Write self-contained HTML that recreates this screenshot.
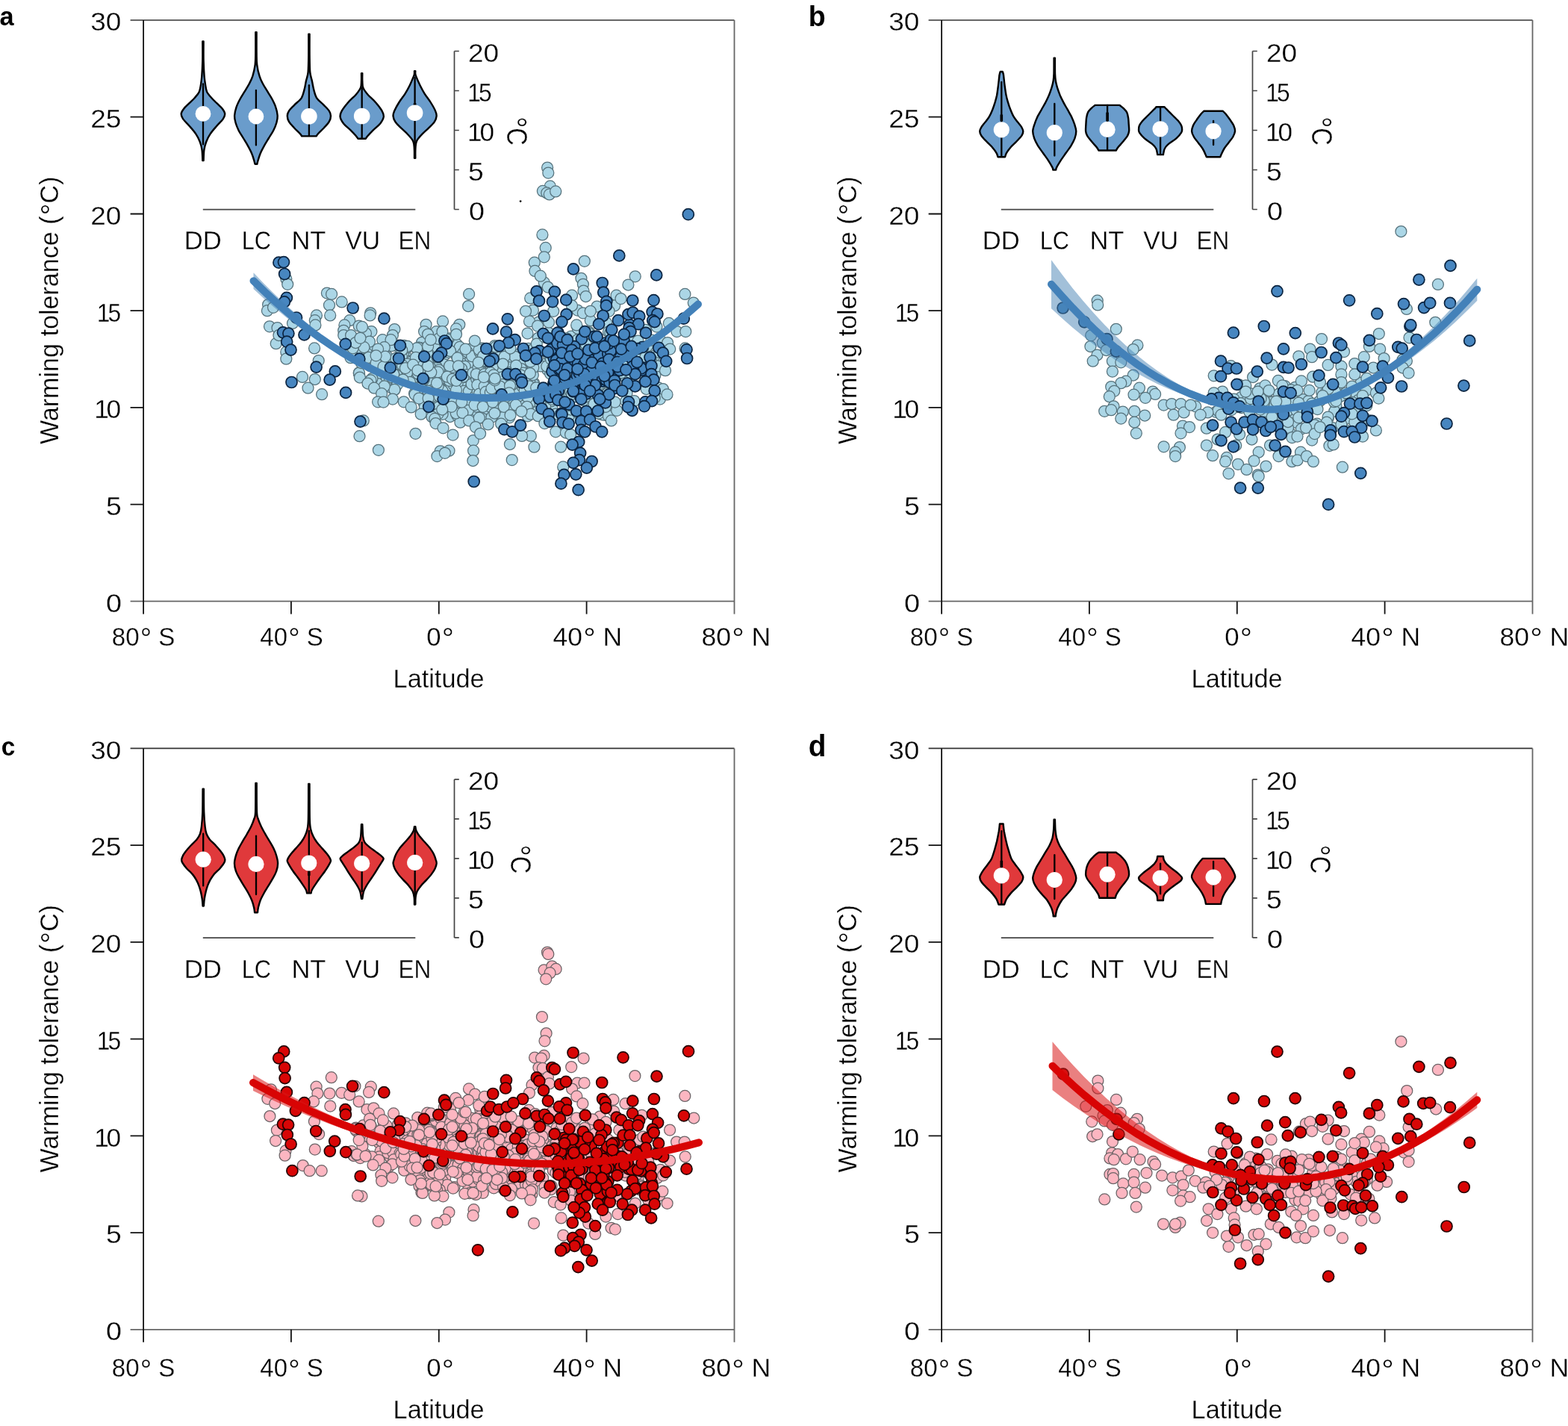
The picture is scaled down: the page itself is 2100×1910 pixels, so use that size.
<!DOCTYPE html>
<html lang="en"><head><meta charset="utf-8">
<title>Warming tolerance versus latitude</title>
<style>
html,body{margin:0;padding:0;background:#fff}
body{width:2100px;height:1910px;overflow:hidden}
svg{display:block}
.t{font-family:"Liberation Sans", "DejaVu Sans", sans-serif;font-size:35.2px;fill:#000;stroke:#fff;stroke-width:.3px}
.pl{font-family:"Liberation Sans", "DejaVu Sans", sans-serif;font-size:35px;font-weight:bold;fill:#000}
.ax0{stroke:#111;stroke-width:1.8;fill:none}
.ax1{stroke:#333;stroke-width:1.7;fill:none}
.ax2{stroke:#666;stroke-width:1.8;fill:none}
.ax3{stroke:#444;stroke-width:1.7;fill:none}
.lb circle{fill:#abd6e6;stroke:#56727c;stroke-width:1.25}
.db circle{fill:#4786c0;stroke:#0b2440;stroke-width:1.7}
.lr circle{fill:#fcb6c1;stroke:#6b6366;stroke-width:1.25}
.dr circle{fill:#d80606;stroke:#240202;stroke-width:1.7}
.cvb{fill:none;stroke:#4381b9;stroke-width:10;stroke-linecap:round}
.cvr{fill:none;stroke:#d80404;stroke-width:10;stroke-linecap:round}
.cib{fill:#4682b4;fill-opacity:.5;stroke:none}
.cir{fill:#d81818;fill-opacity:.55;stroke:none}
</style></head><body>
<svg width="2100" height="1910" viewBox="0 0 2100 1910" role="img" aria-label="Warming tolerance versus latitude, four panels">
<rect width="2100" height="1910" fill="#fff"/>
<g transform="translate(0 0)">
<text transform="translate(-0.4 34.2) scale(0.979 1)" class="pl">a</text>
<g class="lb"><circle cx="478.7" cy="480.2" r="7.5"/><circle cx="510.7" cy="473.8" r="7.5"/><circle cx="496.7" cy="488.6" r="7.5"/><circle cx="509.4" cy="505.2" r="7.5"/><circle cx="490.7" cy="469.6" r="7.5"/><circle cx="481.1" cy="501.2" r="7.5"/><circle cx="489.5" cy="484.5" r="7.5"/><circle cx="480.7" cy="499.4" r="7.5"/><circle cx="506.1" cy="514.1" r="7.5"/><circle cx="495.4" cy="468.4" r="7.5"/><circle cx="505.8" cy="471.7" r="7.5"/><circle cx="481" cy="499.6" r="7.5"/><circle cx="494.2" cy="510.6" r="7.5"/><circle cx="498.4" cy="507" r="7.5"/><circle cx="517.5" cy="481.8" r="7.5"/><circle cx="469.5" cy="479.2" r="7.5"/><circle cx="506" cy="487.2" r="7.5"/><circle cx="505.5" cy="488.6" r="7.5"/><circle cx="495.4" cy="490.1" r="7.5"/><circle cx="502.4" cy="482.8" r="7.5"/><circle cx="496.2" cy="480" r="7.5"/><circle cx="490.9" cy="472.9" r="7.5"/><circle cx="498.9" cy="480.6" r="7.5"/><circle cx="517.7" cy="505.5" r="7.5"/><circle cx="483.7" cy="486" r="7.5"/><circle cx="518.2" cy="477" r="7.5"/><circle cx="479.5" cy="474" r="7.5"/><circle cx="496.4" cy="509.4" r="7.5"/><circle cx="471.1" cy="470.8" r="7.5"/><circle cx="511" cy="489.7" r="7.5"/><circle cx="531.9" cy="481.9" r="7.5"/><circle cx="554.9" cy="507.2" r="7.5"/><circle cx="543.4" cy="481.3" r="7.5"/><circle cx="544.1" cy="478.4" r="7.5"/><circle cx="528" cy="483.5" r="7.5"/><circle cx="559.9" cy="507.5" r="7.5"/><circle cx="562.2" cy="490.1" r="7.5"/><circle cx="563.3" cy="524.8" r="7.5"/><circle cx="528" cy="499.3" r="7.5"/><circle cx="556.8" cy="510.3" r="7.5"/><circle cx="521.5" cy="511.3" r="7.5"/><circle cx="525.4" cy="505.6" r="7.5"/><circle cx="540" cy="474.4" r="7.5"/><circle cx="524.7" cy="519.8" r="7.5"/><circle cx="558" cy="493.8" r="7.5"/><circle cx="529.6" cy="518.5" r="7.5"/><circle cx="537.8" cy="490.7" r="7.5"/><circle cx="565.8" cy="467.3" r="7.5"/><circle cx="537.9" cy="479.6" r="7.5"/><circle cx="566.2" cy="462.2" r="7.5"/><circle cx="532.6" cy="497.5" r="7.5"/><circle cx="548.8" cy="483.8" r="7.5"/><circle cx="565.1" cy="458.8" r="7.5"/><circle cx="564.4" cy="495.2" r="7.5"/><circle cx="529.1" cy="488.4" r="7.5"/><circle cx="529.8" cy="500.7" r="7.5"/><circle cx="552" cy="499.2" r="7.5"/><circle cx="537.9" cy="477.5" r="7.5"/><circle cx="568" cy="510.6" r="7.5"/><circle cx="545.9" cy="465.4" r="7.5"/><circle cx="541.1" cy="462.9" r="7.5"/><circle cx="561.8" cy="465.8" r="7.5"/><circle cx="550.8" cy="484.7" r="7.5"/><circle cx="566.4" cy="494.2" r="7.5"/><circle cx="531.8" cy="490.3" r="7.5"/><circle cx="528.6" cy="522" r="7.5"/><circle cx="538.1" cy="499.4" r="7.5"/><circle cx="555.1" cy="527" r="7.5"/><circle cx="532.1" cy="515" r="7.5"/><circle cx="521.3" cy="496" r="7.5"/><circle cx="531.4" cy="502.8" r="7.5"/><circle cx="530.5" cy="462.4" r="7.5"/><circle cx="530.2" cy="479.9" r="7.5"/><circle cx="564.2" cy="507" r="7.5"/><circle cx="550.2" cy="503.6" r="7.5"/><circle cx="567.4" cy="506.4" r="7.5"/><circle cx="545.4" cy="487.7" r="7.5"/><circle cx="562.3" cy="486" r="7.5"/><circle cx="539.1" cy="489.4" r="7.5"/><circle cx="544.4" cy="507.9" r="7.5"/><circle cx="528.4" cy="521.9" r="7.5"/><circle cx="535.9" cy="467.4" r="7.5"/><circle cx="557.2" cy="488.8" r="7.5"/><circle cx="560.3" cy="487.9" r="7.5"/><circle cx="546.5" cy="498.4" r="7.5"/><circle cx="527.6" cy="502.9" r="7.5"/><circle cx="524.5" cy="463.2" r="7.5"/><circle cx="557.8" cy="506.8" r="7.5"/><circle cx="548.9" cy="511.9" r="7.5"/><circle cx="542.9" cy="493.1" r="7.5"/><circle cx="567.7" cy="551.9" r="7.5"/><circle cx="570.2" cy="504.3" r="7.5"/><circle cx="573.3" cy="490.7" r="7.5"/><circle cx="632.6" cy="521.1" r="7.5"/><circle cx="602.7" cy="558" r="7.5"/><circle cx="588.8" cy="517.1" r="7.5"/><circle cx="638.6" cy="554" r="7.5"/><circle cx="615.4" cy="555.7" r="7.5"/><circle cx="622.6" cy="468.6" r="7.5"/><circle cx="595.7" cy="475.2" r="7.5"/><circle cx="577.3" cy="504.4" r="7.5"/><circle cx="630.9" cy="501.6" r="7.5"/><circle cx="560.8" cy="524.2" r="7.5"/><circle cx="573.7" cy="447" r="7.5"/><circle cx="576.6" cy="525.5" r="7.5"/><circle cx="638.3" cy="498.5" r="7.5"/><circle cx="628.4" cy="485.6" r="7.5"/><circle cx="599.7" cy="507.5" r="7.5"/><circle cx="613.6" cy="530.2" r="7.5"/><circle cx="632.4" cy="487.3" r="7.5"/><circle cx="637.2" cy="538.1" r="7.5"/><circle cx="611.1" cy="525.3" r="7.5"/><circle cx="634.8" cy="472.5" r="7.5"/><circle cx="634.9" cy="516" r="7.5"/><circle cx="607.6" cy="502.8" r="7.5"/><circle cx="621.6" cy="505.1" r="7.5"/><circle cx="639.5" cy="525.7" r="7.5"/><circle cx="617.2" cy="480" r="7.5"/><circle cx="561.2" cy="488.2" r="7.5"/><circle cx="578.6" cy="521.3" r="7.5"/><circle cx="625.3" cy="548.9" r="7.5"/><circle cx="588.8" cy="533" r="7.5"/><circle cx="604.7" cy="492.1" r="7.5"/><circle cx="632.9" cy="483.8" r="7.5"/><circle cx="611.1" cy="500.8" r="7.5"/><circle cx="567.7" cy="539.7" r="7.5"/><circle cx="620" cy="486.9" r="7.5"/><circle cx="627.9" cy="517.4" r="7.5"/><circle cx="633.5" cy="466.9" r="7.5"/><circle cx="621.4" cy="471.6" r="7.5"/><circle cx="594.5" cy="488" r="7.5"/><circle cx="578.7" cy="544.5" r="7.5"/><circle cx="573.6" cy="470.4" r="7.5"/><circle cx="579.6" cy="487.9" r="7.5"/><circle cx="562.2" cy="476.2" r="7.5"/><circle cx="627" cy="515.6" r="7.5"/><circle cx="587.7" cy="538.2" r="7.5"/><circle cx="631.2" cy="484" r="7.5"/><circle cx="580.1" cy="532.7" r="7.5"/><circle cx="581.5" cy="473.2" r="7.5"/><circle cx="644.7" cy="533.4" r="7.5"/><circle cx="599.8" cy="459.3" r="7.5"/><circle cx="608.5" cy="459.3" r="7.5"/><circle cx="604.2" cy="517.8" r="7.5"/><circle cx="564.9" cy="466.6" r="7.5"/><circle cx="565.8" cy="522.2" r="7.5"/><circle cx="625.3" cy="505.3" r="7.5"/><circle cx="646.6" cy="466.7" r="7.5"/><circle cx="588.7" cy="469.9" r="7.5"/><circle cx="642.2" cy="509" r="7.5"/><circle cx="619.6" cy="469.6" r="7.5"/><circle cx="627.9" cy="516.1" r="7.5"/><circle cx="642.1" cy="515.4" r="7.5"/><circle cx="622.7" cy="494.8" r="7.5"/><circle cx="604.4" cy="502.2" r="7.5"/><circle cx="588.9" cy="517.3" r="7.5"/><circle cx="566.6" cy="504.9" r="7.5"/><circle cx="576" cy="502.4" r="7.5"/><circle cx="612.4" cy="556.6" r="7.5"/><circle cx="641.3" cy="503.3" r="7.5"/><circle cx="580" cy="505.9" r="7.5"/><circle cx="583.7" cy="490.1" r="7.5"/><circle cx="604.9" cy="461.5" r="7.5"/><circle cx="614" cy="526.5" r="7.5"/><circle cx="573.8" cy="521.9" r="7.5"/><circle cx="636.6" cy="489" r="7.5"/><circle cx="572.3" cy="543.5" r="7.5"/><circle cx="627.8" cy="536.6" r="7.5"/><circle cx="617.7" cy="499.7" r="7.5"/><circle cx="572.8" cy="517.9" r="7.5"/><circle cx="630.4" cy="467.7" r="7.5"/><circle cx="588.1" cy="512.9" r="7.5"/><circle cx="631.8" cy="499.3" r="7.5"/><circle cx="578.3" cy="519" r="7.5"/><circle cx="631.5" cy="528" r="7.5"/><circle cx="604.9" cy="492.2" r="7.5"/><circle cx="603.1" cy="491.8" r="7.5"/><circle cx="564.5" cy="504.7" r="7.5"/><circle cx="558.4" cy="490.2" r="7.5"/><circle cx="611.1" cy="506.5" r="7.5"/><circle cx="635.9" cy="481.7" r="7.5"/><circle cx="611.9" cy="477.4" r="7.5"/><circle cx="575.9" cy="497.4" r="7.5"/><circle cx="626.3" cy="493.2" r="7.5"/><circle cx="629.8" cy="478.5" r="7.5"/><circle cx="616.4" cy="565.7" r="7.5"/><circle cx="607.6" cy="521.8" r="7.5"/><circle cx="602.5" cy="469.8" r="7.5"/><circle cx="645.3" cy="536.7" r="7.5"/><circle cx="559" cy="488.7" r="7.5"/><circle cx="565.2" cy="479.7" r="7.5"/><circle cx="575.1" cy="497.2" r="7.5"/><circle cx="602.4" cy="498.6" r="7.5"/><circle cx="603.9" cy="470.7" r="7.5"/><circle cx="596.5" cy="454.2" r="7.5"/><circle cx="610.5" cy="493.9" r="7.5"/><circle cx="632.8" cy="502.5" r="7.5"/><circle cx="618.4" cy="510.7" r="7.5"/><circle cx="631.4" cy="489.8" r="7.5"/><circle cx="562.1" cy="489.1" r="7.5"/><circle cx="592" cy="506.9" r="7.5"/><circle cx="578.3" cy="504.7" r="7.5"/><circle cx="570.9" cy="509.5" r="7.5"/><circle cx="576.9" cy="497.8" r="7.5"/><circle cx="576.2" cy="475.2" r="7.5"/><circle cx="590.2" cy="497.1" r="7.5"/><circle cx="609.3" cy="525.1" r="7.5"/><circle cx="577.5" cy="532" r="7.5"/><circle cx="605.9" cy="508.2" r="7.5"/><circle cx="622.7" cy="490.9" r="7.5"/><circle cx="633.1" cy="525.6" r="7.5"/><circle cx="572.4" cy="531" r="7.5"/><circle cx="610.2" cy="523.4" r="7.5"/><circle cx="610.4" cy="540" r="7.5"/><circle cx="558.2" cy="526.4" r="7.5"/><circle cx="618" cy="493.8" r="7.5"/><circle cx="582.3" cy="501.6" r="7.5"/><circle cx="586.5" cy="469.5" r="7.5"/><circle cx="584.4" cy="444.2" r="7.5"/><circle cx="603.6" cy="496.5" r="7.5"/><circle cx="612.7" cy="513.2" r="7.5"/><circle cx="585.2" cy="492.3" r="7.5"/><circle cx="611.7" cy="461.1" r="7.5"/><circle cx="621.2" cy="523.9" r="7.5"/><circle cx="604.9" cy="523.2" r="7.5"/><circle cx="609.2" cy="500.1" r="7.5"/><circle cx="627.9" cy="524.1" r="7.5"/><circle cx="644.5" cy="501.8" r="7.5"/><circle cx="603.7" cy="516.1" r="7.5"/><circle cx="636.5" cy="530.5" r="7.5"/><circle cx="610" cy="504.7" r="7.5"/><circle cx="581.3" cy="512" r="7.5"/><circle cx="558.4" cy="492.4" r="7.5"/><circle cx="615.7" cy="464.9" r="7.5"/><circle cx="584.2" cy="510.2" r="7.5"/><circle cx="571.5" cy="498.4" r="7.5"/><circle cx="601.2" cy="471.8" r="7.5"/><circle cx="631.3" cy="554.5" r="7.5"/><circle cx="573.3" cy="484.8" r="7.5"/><circle cx="641.5" cy="470.4" r="7.5"/><circle cx="624.3" cy="502.2" r="7.5"/><circle cx="560.3" cy="465.7" r="7.5"/><circle cx="558.5" cy="526.7" r="7.5"/><circle cx="593.2" cy="525.5" r="7.5"/><circle cx="620.2" cy="472.9" r="7.5"/><circle cx="587" cy="513.4" r="7.5"/><circle cx="588.3" cy="499.7" r="7.5"/><circle cx="596.7" cy="469.3" r="7.5"/><circle cx="563.8" cy="498.3" r="7.5"/><circle cx="603" cy="470" r="7.5"/><circle cx="585.6" cy="478.7" r="7.5"/><circle cx="588.6" cy="530.9" r="7.5"/><circle cx="638.8" cy="550.8" r="7.5"/><circle cx="642.6" cy="492.7" r="7.5"/><circle cx="569.5" cy="536.8" r="7.5"/><circle cx="607" cy="491.2" r="7.5"/><circle cx="568.8" cy="545.2" r="7.5"/><circle cx="585.9" cy="465.6" r="7.5"/><circle cx="596.7" cy="536.2" r="7.5"/><circle cx="642.3" cy="505.6" r="7.5"/><circle cx="592.6" cy="554.8" r="7.5"/><circle cx="592.3" cy="523.3" r="7.5"/><circle cx="570" cy="491.6" r="7.5"/><circle cx="587.3" cy="545.4" r="7.5"/><circle cx="572.6" cy="509.4" r="7.5"/><circle cx="605.7" cy="491.8" r="7.5"/><circle cx="564" cy="521.4" r="7.5"/><circle cx="575.9" cy="491.8" r="7.5"/><circle cx="612.7" cy="479.4" r="7.5"/><circle cx="638.3" cy="544.7" r="7.5"/><circle cx="607.8" cy="515.6" r="7.5"/><circle cx="565.8" cy="485.4" r="7.5"/><circle cx="600.8" cy="532.5" r="7.5"/><circle cx="622.7" cy="504.8" r="7.5"/><circle cx="620.4" cy="504.7" r="7.5"/><circle cx="626.9" cy="549.8" r="7.5"/><circle cx="601.1" cy="453.3" r="7.5"/><circle cx="587.9" cy="495.6" r="7.5"/><circle cx="559.7" cy="500.4" r="7.5"/><circle cx="574.4" cy="526.3" r="7.5"/><circle cx="564.4" cy="516.1" r="7.5"/><circle cx="625.9" cy="471.4" r="7.5"/><circle cx="560.6" cy="519.2" r="7.5"/><circle cx="568.8" cy="496.1" r="7.5"/><circle cx="602.1" cy="490.1" r="7.5"/><circle cx="639.6" cy="524" r="7.5"/><circle cx="601.9" cy="509.9" r="7.5"/><circle cx="586.7" cy="554.3" r="7.5"/><circle cx="633.6" cy="499.4" r="7.5"/><circle cx="558.5" cy="531.2" r="7.5"/><circle cx="611" cy="522.4" r="7.5"/><circle cx="567.9" cy="508.3" r="7.5"/><circle cx="643.4" cy="466.7" r="7.5"/><circle cx="599.2" cy="454.5" r="7.5"/><circle cx="576.5" cy="499.2" r="7.5"/><circle cx="586.5" cy="498.4" r="7.5"/><circle cx="595.7" cy="460.1" r="7.5"/><circle cx="613.9" cy="490.4" r="7.5"/><circle cx="598.9" cy="504.7" r="7.5"/><circle cx="643.4" cy="533.3" r="7.5"/><circle cx="577.3" cy="498.7" r="7.5"/><circle cx="607.1" cy="540.1" r="7.5"/><circle cx="586.6" cy="517.3" r="7.5"/><circle cx="559.8" cy="524.7" r="7.5"/><circle cx="585" cy="513.2" r="7.5"/><circle cx="631.6" cy="514.5" r="7.5"/><circle cx="587.2" cy="453.9" r="7.5"/><circle cx="606.1" cy="507.9" r="7.5"/><circle cx="632.1" cy="477.2" r="7.5"/><circle cx="611.1" cy="509.8" r="7.5"/><circle cx="676.6" cy="516.7" r="7.5"/><circle cx="693.9" cy="492.7" r="7.5"/><circle cx="642.5" cy="526" r="7.5"/><circle cx="638.3" cy="507.9" r="7.5"/><circle cx="667.1" cy="529.9" r="7.5"/><circle cx="698" cy="541" r="7.5"/><circle cx="696.2" cy="512.5" r="7.5"/><circle cx="713.6" cy="495.4" r="7.5"/><circle cx="681.9" cy="523.6" r="7.5"/><circle cx="640.4" cy="492.2" r="7.5"/><circle cx="696.4" cy="473.8" r="7.5"/><circle cx="702.3" cy="533.5" r="7.5"/><circle cx="642.6" cy="471.9" r="7.5"/><circle cx="682.8" cy="523.6" r="7.5"/><circle cx="668.5" cy="534.1" r="7.5"/><circle cx="679.1" cy="509.1" r="7.5"/><circle cx="646.4" cy="478.3" r="7.5"/><circle cx="697.6" cy="532.8" r="7.5"/><circle cx="668.3" cy="502.3" r="7.5"/><circle cx="703" cy="498.4" r="7.5"/><circle cx="640" cy="536" r="7.5"/><circle cx="656.6" cy="489.7" r="7.5"/><circle cx="707.8" cy="466.8" r="7.5"/><circle cx="686.5" cy="496.1" r="7.5"/><circle cx="697.2" cy="520.4" r="7.5"/><circle cx="666.2" cy="531.1" r="7.5"/><circle cx="652.6" cy="517.9" r="7.5"/><circle cx="701.1" cy="482.6" r="7.5"/><circle cx="669.8" cy="513.6" r="7.5"/><circle cx="675.4" cy="471.8" r="7.5"/><circle cx="645.5" cy="559.5" r="7.5"/><circle cx="660.9" cy="546.3" r="7.5"/><circle cx="694.7" cy="534.2" r="7.5"/><circle cx="641" cy="505.9" r="7.5"/><circle cx="643.4" cy="533.2" r="7.5"/><circle cx="685.6" cy="503.2" r="7.5"/><circle cx="712.1" cy="538.3" r="7.5"/><circle cx="702.9" cy="502.1" r="7.5"/><circle cx="706.6" cy="491.8" r="7.5"/><circle cx="699.5" cy="489.5" r="7.5"/><circle cx="677.8" cy="525.8" r="7.5"/><circle cx="691.1" cy="495" r="7.5"/><circle cx="657.4" cy="490.5" r="7.5"/><circle cx="702.5" cy="507.2" r="7.5"/><circle cx="680" cy="509.6" r="7.5"/><circle cx="706.6" cy="527.9" r="7.5"/><circle cx="647.4" cy="516.2" r="7.5"/><circle cx="685.8" cy="523.4" r="7.5"/><circle cx="663.5" cy="544.4" r="7.5"/><circle cx="696" cy="482.3" r="7.5"/><circle cx="662.5" cy="471.6" r="7.5"/><circle cx="674.7" cy="520.3" r="7.5"/><circle cx="672.2" cy="530.3" r="7.5"/><circle cx="699.7" cy="521" r="7.5"/><circle cx="694.9" cy="496.3" r="7.5"/><circle cx="695.6" cy="500.1" r="7.5"/><circle cx="694.5" cy="503.7" r="7.5"/><circle cx="707.9" cy="533.6" r="7.5"/><circle cx="669.3" cy="554.3" r="7.5"/><circle cx="701.5" cy="548.8" r="7.5"/><circle cx="689.8" cy="522.2" r="7.5"/><circle cx="707.2" cy="520.9" r="7.5"/><circle cx="690.8" cy="522.7" r="7.5"/><circle cx="681.1" cy="513.3" r="7.5"/><circle cx="691.7" cy="484.9" r="7.5"/><circle cx="639.3" cy="515.6" r="7.5"/><circle cx="694.9" cy="487.7" r="7.5"/><circle cx="681.7" cy="534" r="7.5"/><circle cx="637.9" cy="501" r="7.5"/><circle cx="661.2" cy="490.9" r="7.5"/><circle cx="656.6" cy="486.3" r="7.5"/><circle cx="697.2" cy="499.6" r="7.5"/><circle cx="647.7" cy="540" r="7.5"/><circle cx="679.8" cy="484.6" r="7.5"/><circle cx="682.2" cy="559.3" r="7.5"/><circle cx="646.4" cy="484.4" r="7.5"/><circle cx="657.8" cy="526.9" r="7.5"/><circle cx="662.7" cy="463.1" r="7.5"/><circle cx="714.8" cy="534" r="7.5"/><circle cx="697.4" cy="489.3" r="7.5"/><circle cx="645.1" cy="477.6" r="7.5"/><circle cx="667.8" cy="519.2" r="7.5"/><circle cx="709.5" cy="542.8" r="7.5"/><circle cx="664" cy="464.7" r="7.5"/><circle cx="688" cy="510.3" r="7.5"/><circle cx="709.3" cy="499.4" r="7.5"/><circle cx="696.4" cy="534.8" r="7.5"/><circle cx="642" cy="527.7" r="7.5"/><circle cx="679.6" cy="518.7" r="7.5"/><circle cx="692.8" cy="519.2" r="7.5"/><circle cx="702.4" cy="481.6" r="7.5"/><circle cx="698" cy="494.1" r="7.5"/><circle cx="679.4" cy="510.5" r="7.5"/><circle cx="672.6" cy="529.8" r="7.5"/><circle cx="689.1" cy="522.9" r="7.5"/><circle cx="653.8" cy="519" r="7.5"/><circle cx="702.4" cy="505.6" r="7.5"/><circle cx="706.4" cy="532.5" r="7.5"/><circle cx="668.3" cy="527.2" r="7.5"/><circle cx="700.9" cy="499.6" r="7.5"/><circle cx="699.6" cy="506.2" r="7.5"/><circle cx="677.9" cy="531.2" r="7.5"/><circle cx="683.6" cy="477.5" r="7.5"/><circle cx="641.7" cy="468.4" r="7.5"/><circle cx="673.7" cy="558.9" r="7.5"/><circle cx="715.9" cy="531" r="7.5"/><circle cx="709.9" cy="515.5" r="7.5"/><circle cx="648.7" cy="517.3" r="7.5"/><circle cx="650.7" cy="484.1" r="7.5"/><circle cx="670.2" cy="501.1" r="7.5"/><circle cx="709.4" cy="544.2" r="7.5"/><circle cx="652" cy="543.2" r="7.5"/><circle cx="698.9" cy="517.1" r="7.5"/><circle cx="683.2" cy="502.5" r="7.5"/><circle cx="689.8" cy="477.9" r="7.5"/><circle cx="713" cy="521.1" r="7.5"/><circle cx="699.5" cy="510" r="7.5"/><circle cx="715.2" cy="513.3" r="7.5"/><circle cx="657.5" cy="501.9" r="7.5"/><circle cx="693.4" cy="512" r="7.5"/><circle cx="657.8" cy="479.2" r="7.5"/><circle cx="662.4" cy="530.1" r="7.5"/><circle cx="661.1" cy="517.3" r="7.5"/><circle cx="650" cy="502.7" r="7.5"/><circle cx="684.4" cy="500.9" r="7.5"/><circle cx="715.6" cy="536.9" r="7.5"/><circle cx="715" cy="514.9" r="7.5"/><circle cx="652.5" cy="547.4" r="7.5"/><circle cx="685" cy="548" r="7.5"/><circle cx="650.6" cy="524.9" r="7.5"/><circle cx="655.4" cy="544.3" r="7.5"/><circle cx="648.8" cy="501.1" r="7.5"/><circle cx="656.2" cy="502.6" r="7.5"/><circle cx="673" cy="515.1" r="7.5"/><circle cx="658.5" cy="558.8" r="7.5"/><circle cx="656.8" cy="525.7" r="7.5"/><circle cx="666.9" cy="491.5" r="7.5"/><circle cx="711" cy="503.4" r="7.5"/><circle cx="673.5" cy="486.2" r="7.5"/><circle cx="660.1" cy="519.1" r="7.5"/><circle cx="668.5" cy="491.1" r="7.5"/><circle cx="662.9" cy="535.2" r="7.5"/><circle cx="675.5" cy="477.9" r="7.5"/><circle cx="642.4" cy="540.1" r="7.5"/><circle cx="658.4" cy="520.3" r="7.5"/><circle cx="702.1" cy="543.3" r="7.5"/><circle cx="659.9" cy="491.8" r="7.5"/><circle cx="655.9" cy="480.4" r="7.5"/><circle cx="669.6" cy="517.6" r="7.5"/><circle cx="708.6" cy="514.9" r="7.5"/><circle cx="685.2" cy="516" r="7.5"/><circle cx="682.3" cy="547.3" r="7.5"/><circle cx="697.5" cy="502.7" r="7.5"/><circle cx="646.7" cy="538.6" r="7.5"/><circle cx="662.7" cy="509.3" r="7.5"/><circle cx="712.5" cy="487.3" r="7.5"/><circle cx="647.7" cy="483.3" r="7.5"/><circle cx="656.9" cy="499.2" r="7.5"/><circle cx="661.1" cy="502.4" r="7.5"/><circle cx="647.9" cy="505.1" r="7.5"/><circle cx="647" cy="477.1" r="7.5"/><circle cx="691.2" cy="489.7" r="7.5"/><circle cx="662.8" cy="507" r="7.5"/><circle cx="683.5" cy="466.5" r="7.5"/><circle cx="683" cy="516.8" r="7.5"/><circle cx="681.9" cy="526.4" r="7.5"/><circle cx="673.5" cy="487.5" r="7.5"/><circle cx="640.8" cy="485.6" r="7.5"/><circle cx="702.6" cy="523" r="7.5"/><circle cx="710.7" cy="520.4" r="7.5"/><circle cx="710" cy="514.7" r="7.5"/><circle cx="784.6" cy="513.5" r="7.5"/><circle cx="786.9" cy="511.5" r="7.5"/><circle cx="800.2" cy="486.3" r="7.5"/><circle cx="739.4" cy="547.3" r="7.5"/><circle cx="811.1" cy="555.5" r="7.5"/><circle cx="712.9" cy="496.5" r="7.5"/><circle cx="813.2" cy="493.1" r="7.5"/><circle cx="768.2" cy="521.2" r="7.5"/><circle cx="750.5" cy="464.5" r="7.5"/><circle cx="807.1" cy="492.2" r="7.5"/><circle cx="771.1" cy="482.8" r="7.5"/><circle cx="786.5" cy="508" r="7.5"/><circle cx="789.6" cy="503.3" r="7.5"/><circle cx="800.3" cy="523.1" r="7.5"/><circle cx="796.6" cy="497.2" r="7.5"/><circle cx="714.8" cy="525.9" r="7.5"/><circle cx="757.3" cy="533.9" r="7.5"/><circle cx="773.4" cy="490.7" r="7.5"/><circle cx="760.9" cy="496.1" r="7.5"/><circle cx="741.3" cy="512.8" r="7.5"/><circle cx="739.4" cy="490.1" r="7.5"/><circle cx="709.2" cy="509.5" r="7.5"/><circle cx="757.7" cy="514.8" r="7.5"/><circle cx="722.5" cy="471.1" r="7.5"/><circle cx="755.9" cy="522" r="7.5"/><circle cx="739.7" cy="498.1" r="7.5"/><circle cx="714.6" cy="485.2" r="7.5"/><circle cx="802.7" cy="496.3" r="7.5"/><circle cx="723.7" cy="547.3" r="7.5"/><circle cx="733.4" cy="495.6" r="7.5"/><circle cx="788.1" cy="536.2" r="7.5"/><circle cx="812.1" cy="432.4" r="7.5"/><circle cx="808.3" cy="467" r="7.5"/><circle cx="781.5" cy="536.2" r="7.5"/><circle cx="790.6" cy="514.7" r="7.5"/><circle cx="806.1" cy="502.2" r="7.5"/><circle cx="772.9" cy="495.2" r="7.5"/><circle cx="758.9" cy="501.6" r="7.5"/><circle cx="793.7" cy="480.9" r="7.5"/><circle cx="729.9" cy="451.8" r="7.5"/><circle cx="724.8" cy="526.2" r="7.5"/><circle cx="802.2" cy="480.8" r="7.5"/><circle cx="814.7" cy="538.8" r="7.5"/><circle cx="752.2" cy="477.9" r="7.5"/><circle cx="708.9" cy="517.3" r="7.5"/><circle cx="713.8" cy="502.2" r="7.5"/><circle cx="737.1" cy="500.6" r="7.5"/><circle cx="761.3" cy="527.4" r="7.5"/><circle cx="772.5" cy="506" r="7.5"/><circle cx="716" cy="476.4" r="7.5"/><circle cx="785.7" cy="477.7" r="7.5"/><circle cx="767" cy="559.8" r="7.5"/><circle cx="751.7" cy="464.5" r="7.5"/><circle cx="764" cy="524.8" r="7.5"/><circle cx="757.1" cy="510" r="7.5"/><circle cx="761.8" cy="557.2" r="7.5"/><circle cx="761.4" cy="490.6" r="7.5"/><circle cx="713.2" cy="468.6" r="7.5"/><circle cx="742.3" cy="535.2" r="7.5"/><circle cx="730" cy="487.5" r="7.5"/><circle cx="755.5" cy="539.9" r="7.5"/><circle cx="752" cy="463.9" r="7.5"/><circle cx="743" cy="519.8" r="7.5"/><circle cx="721.2" cy="431.7" r="7.5"/><circle cx="772.8" cy="488.1" r="7.5"/><circle cx="743.5" cy="471.6" r="7.5"/><circle cx="740.5" cy="522.1" r="7.5"/><circle cx="717" cy="481.6" r="7.5"/><circle cx="803.9" cy="554.7" r="7.5"/><circle cx="796.2" cy="536.5" r="7.5"/><circle cx="738.9" cy="533.9" r="7.5"/><circle cx="785.1" cy="455.3" r="7.5"/><circle cx="771.4" cy="507.9" r="7.5"/><circle cx="767.8" cy="524.6" r="7.5"/><circle cx="754.4" cy="469.1" r="7.5"/><circle cx="806" cy="519.1" r="7.5"/><circle cx="763.2" cy="505.9" r="7.5"/><circle cx="808.1" cy="462.2" r="7.5"/><circle cx="724.1" cy="490.4" r="7.5"/><circle cx="801.2" cy="456.8" r="7.5"/><circle cx="771.1" cy="467.4" r="7.5"/><circle cx="778.1" cy="467.5" r="7.5"/><circle cx="779.2" cy="488.1" r="7.5"/><circle cx="749.9" cy="511.4" r="7.5"/><circle cx="776.3" cy="478.7" r="7.5"/><circle cx="769.9" cy="497" r="7.5"/><circle cx="745.1" cy="528.9" r="7.5"/><circle cx="706.8" cy="557.3" r="7.5"/><circle cx="743.4" cy="452.2" r="7.5"/><circle cx="738.8" cy="482.8" r="7.5"/><circle cx="745.8" cy="498.7" r="7.5"/><circle cx="752.7" cy="497.4" r="7.5"/><circle cx="746.6" cy="461" r="7.5"/><circle cx="784.5" cy="492.6" r="7.5"/><circle cx="720.2" cy="550.8" r="7.5"/><circle cx="740.1" cy="484.7" r="7.5"/><circle cx="771.8" cy="490" r="7.5"/><circle cx="737.9" cy="537.4" r="7.5"/><circle cx="771.4" cy="486.6" r="7.5"/><circle cx="781" cy="495.3" r="7.5"/><circle cx="796.2" cy="548" r="7.5"/><circle cx="755.4" cy="539.5" r="7.5"/><circle cx="794" cy="480.8" r="7.5"/><circle cx="789.3" cy="445.2" r="7.5"/><circle cx="735.8" cy="477.1" r="7.5"/><circle cx="794.3" cy="483" r="7.5"/><circle cx="805.8" cy="483.3" r="7.5"/><circle cx="723.4" cy="534.7" r="7.5"/><circle cx="789.2" cy="525.3" r="7.5"/><circle cx="790.7" cy="525.6" r="7.5"/><circle cx="728.5" cy="526.1" r="7.5"/><circle cx="801" cy="506.6" r="7.5"/><circle cx="782" cy="449.4" r="7.5"/><circle cx="714.2" cy="492.3" r="7.5"/><circle cx="799.6" cy="495.5" r="7.5"/><circle cx="732.3" cy="490.7" r="7.5"/><circle cx="803.8" cy="493" r="7.5"/><circle cx="792.4" cy="505.7" r="7.5"/><circle cx="764.8" cy="450.6" r="7.5"/><circle cx="761.7" cy="501.3" r="7.5"/><circle cx="762.9" cy="481.8" r="7.5"/><circle cx="764.2" cy="548.5" r="7.5"/><circle cx="709.9" cy="500" r="7.5"/><circle cx="716.9" cy="476.8" r="7.5"/><circle cx="708.3" cy="479.3" r="7.5"/><circle cx="753.6" cy="497.9" r="7.5"/><circle cx="746.8" cy="523.9" r="7.5"/><circle cx="794.3" cy="466.2" r="7.5"/><circle cx="773.6" cy="455" r="7.5"/><circle cx="780.3" cy="451.9" r="7.5"/><circle cx="706.8" cy="532.3" r="7.5"/><circle cx="772.9" cy="552.3" r="7.5"/><circle cx="759.1" cy="488.3" r="7.5"/><circle cx="808.4" cy="555.7" r="7.5"/><circle cx="786.9" cy="509.2" r="7.5"/><circle cx="764.2" cy="501.7" r="7.5"/><circle cx="800.8" cy="518.5" r="7.5"/><circle cx="771.4" cy="485" r="7.5"/><circle cx="730.1" cy="544.4" r="7.5"/><circle cx="746" cy="530" r="7.5"/><circle cx="765.6" cy="533.2" r="7.5"/><circle cx="710.5" cy="484.3" r="7.5"/><circle cx="783.6" cy="531.9" r="7.5"/><circle cx="789.6" cy="526.9" r="7.5"/><circle cx="795.5" cy="541.1" r="7.5"/><circle cx="789.7" cy="513.2" r="7.5"/><circle cx="798.4" cy="457.1" r="7.5"/><circle cx="738.9" cy="534.8" r="7.5"/><circle cx="741.6" cy="495.8" r="7.5"/><circle cx="747.7" cy="496" r="7.5"/><circle cx="766.3" cy="497" r="7.5"/><circle cx="814.9" cy="444.5" r="7.5"/><circle cx="755.9" cy="493.7" r="7.5"/><circle cx="743.1" cy="497.4" r="7.5"/><circle cx="740" cy="525.8" r="7.5"/><circle cx="749.2" cy="463.2" r="7.5"/><circle cx="756.2" cy="482.2" r="7.5"/><circle cx="776.3" cy="503.1" r="7.5"/><circle cx="770.3" cy="508.1" r="7.5"/><circle cx="804.7" cy="513.6" r="7.5"/><circle cx="771.3" cy="515.6" r="7.5"/><circle cx="777.6" cy="465" r="7.5"/><circle cx="723.2" cy="472" r="7.5"/><circle cx="765.9" cy="527.8" r="7.5"/><circle cx="741.4" cy="521" r="7.5"/><circle cx="774.4" cy="486.1" r="7.5"/><circle cx="776" cy="500.1" r="7.5"/><circle cx="748.4" cy="476.6" r="7.5"/><circle cx="784.8" cy="461.7" r="7.5"/><circle cx="788.3" cy="446.1" r="7.5"/><circle cx="740.3" cy="492.8" r="7.5"/><circle cx="720.8" cy="452.8" r="7.5"/><circle cx="789.6" cy="503.1" r="7.5"/><circle cx="797.3" cy="484.8" r="7.5"/><circle cx="801.8" cy="553.6" r="7.5"/><circle cx="758.7" cy="453.3" r="7.5"/><circle cx="795" cy="475.6" r="7.5"/><circle cx="773.8" cy="439.9" r="7.5"/><circle cx="730.8" cy="426.1" r="7.5"/><circle cx="762.3" cy="543" r="7.5"/><circle cx="786.1" cy="502.8" r="7.5"/><circle cx="801.1" cy="504.9" r="7.5"/><circle cx="732.9" cy="531.9" r="7.5"/><circle cx="734.5" cy="445.6" r="7.5"/><circle cx="759.2" cy="497.7" r="7.5"/><circle cx="803.8" cy="504.3" r="7.5"/><circle cx="723.7" cy="541.2" r="7.5"/><circle cx="718.8" cy="460.5" r="7.5"/><circle cx="729" cy="451.2" r="7.5"/><circle cx="803.7" cy="507.1" r="7.5"/><circle cx="788.8" cy="503.9" r="7.5"/><circle cx="810.7" cy="500.2" r="7.5"/><circle cx="737.9" cy="480.9" r="7.5"/><circle cx="798.9" cy="450.4" r="7.5"/><circle cx="792.3" cy="476.2" r="7.5"/><circle cx="737.2" cy="473.6" r="7.5"/><circle cx="738.1" cy="470" r="7.5"/><circle cx="747.8" cy="528.5" r="7.5"/><circle cx="718.2" cy="519.3" r="7.5"/><circle cx="843.7" cy="482.3" r="7.5"/><circle cx="814.4" cy="505.9" r="7.5"/><circle cx="855.1" cy="477.6" r="7.5"/><circle cx="879.5" cy="437.6" r="7.5"/><circle cx="819.5" cy="487.3" r="7.5"/><circle cx="813.9" cy="526.6" r="7.5"/><circle cx="879.1" cy="492.5" r="7.5"/><circle cx="875.6" cy="504.9" r="7.5"/><circle cx="842.7" cy="471.9" r="7.5"/><circle cx="872.9" cy="493.1" r="7.5"/><circle cx="827.2" cy="484.4" r="7.5"/><circle cx="866.9" cy="463.7" r="7.5"/><circle cx="847" cy="482.1" r="7.5"/><circle cx="883.9" cy="534.6" r="7.5"/><circle cx="849.3" cy="463.6" r="7.5"/><circle cx="867.4" cy="486.1" r="7.5"/><circle cx="876" cy="502.4" r="7.5"/><circle cx="864.7" cy="441.8" r="7.5"/><circle cx="863.1" cy="498.1" r="7.5"/><circle cx="866" cy="485.7" r="7.5"/><circle cx="851.9" cy="467.9" r="7.5"/><circle cx="837.4" cy="504.1" r="7.5"/><circle cx="881.8" cy="519.3" r="7.5"/><circle cx="843.6" cy="498" r="7.5"/><circle cx="872.5" cy="455.5" r="7.5"/><circle cx="820" cy="483" r="7.5"/><circle cx="844.5" cy="472.1" r="7.5"/><circle cx="842.8" cy="509.7" r="7.5"/><circle cx="883.5" cy="454.4" r="7.5"/><circle cx="842" cy="451.2" r="7.5"/><circle cx="884.2" cy="478.4" r="7.5"/><circle cx="823.2" cy="462.3" r="7.5"/><circle cx="864.3" cy="484.9" r="7.5"/><circle cx="839.1" cy="507.5" r="7.5"/><circle cx="873.3" cy="482.6" r="7.5"/><circle cx="865.7" cy="499.5" r="7.5"/><circle cx="853.4" cy="495" r="7.5"/><circle cx="812.9" cy="505.5" r="7.5"/><circle cx="853.2" cy="490.1" r="7.5"/><circle cx="830.5" cy="481.4" r="7.5"/><circle cx="868.2" cy="495.9" r="7.5"/><circle cx="830.1" cy="491.6" r="7.5"/><circle cx="877.3" cy="476.1" r="7.5"/><circle cx="826.1" cy="481.1" r="7.5"/><circle cx="874.9" cy="489.5" r="7.5"/><circle cx="867.3" cy="479.6" r="7.5"/><circle cx="883.1" cy="472.1" r="7.5"/><circle cx="850" cy="470.9" r="7.5"/><circle cx="860.3" cy="466.7" r="7.5"/><circle cx="870.4" cy="496.1" r="7.5"/><circle cx="875.6" cy="492.5" r="7.5"/><circle cx="832.5" cy="499.2" r="7.5"/><circle cx="860.1" cy="499" r="7.5"/><circle cx="861.1" cy="514.4" r="7.5"/><circle cx="817.4" cy="445.7" r="7.5"/><circle cx="877.4" cy="502.5" r="7.5"/><circle cx="865.4" cy="504.4" r="7.5"/><circle cx="880.7" cy="490.3" r="7.5"/><circle cx="837.4" cy="491.4" r="7.5"/><circle cx="843.1" cy="472.2" r="7.5"/><circle cx="861.2" cy="465.9" r="7.5"/><circle cx="822.9" cy="493.1" r="7.5"/><circle cx="858.1" cy="475.7" r="7.5"/><circle cx="864.3" cy="478.5" r="7.5"/><circle cx="839.5" cy="526.8" r="7.5"/><circle cx="838.2" cy="537.3" r="7.5"/><circle cx="871.7" cy="481.6" r="7.5"/><circle cx="845" cy="499.9" r="7.5"/><circle cx="827.5" cy="490.5" r="7.5"/><circle cx="876.7" cy="533.1" r="7.5"/><circle cx="383.3" cy="373.4" r="7.5"/><circle cx="385.2" cy="380.8" r="7.5"/><circle cx="359.1" cy="408.1" r="7.5"/><circle cx="357.9" cy="416.2" r="7.5"/><circle cx="366" cy="411.8" r="7.5"/><circle cx="437.9" cy="392.6" r="7.5"/><circle cx="444.1" cy="393.9" r="7.5"/><circle cx="457.7" cy="404.4" r="7.5"/><circle cx="441" cy="408.7" r="7.5"/><circle cx="442.2" cy="422.4" r="7.5"/><circle cx="423.9" cy="422.4" r="7.5"/><circle cx="421.8" cy="429.2" r="7.5"/><circle cx="422.4" cy="435.4" r="7.5"/><circle cx="496.2" cy="419.3" r="7.5"/><circle cx="495.6" cy="422.4" r="7.5"/><circle cx="528.4" cy="441" r="7.5"/><circle cx="525.9" cy="449" r="7.5"/><circle cx="570.6" cy="434.8" r="7.5"/><circle cx="568.1" cy="444.1" r="7.5"/><circle cx="573.1" cy="447.8" r="7.5"/><circle cx="468.3" cy="429.2" r="7.5"/><circle cx="461.4" cy="435.4" r="7.5"/><circle cx="480.7" cy="436.6" r="7.5"/><circle cx="497.4" cy="444.1" r="7.5"/><circle cx="490" cy="446.6" r="7.5"/><circle cx="460.2" cy="442.8" r="7.5"/><circle cx="460.2" cy="449" r="7.5"/><circle cx="470.1" cy="449" r="7.5"/><circle cx="494.9" cy="457.7" r="7.5"/><circle cx="487.5" cy="465.2" r="7.5"/><circle cx="512.3" cy="455.2" r="7.5"/><circle cx="523.5" cy="455.2" r="7.5"/><circle cx="514.8" cy="465.2" r="7.5"/><circle cx="506.1" cy="467.6" r="7.5"/><circle cx="485" cy="437.9" r="7.5"/><circle cx="361" cy="437.3" r="7.5"/><circle cx="371.5" cy="439.1" r="7.5"/><circle cx="369.7" cy="460.2" r="7.5"/><circle cx="373.4" cy="449" r="7.5"/><circle cx="392" cy="432.9" r="7.5"/><circle cx="383.3" cy="471.4" r="7.5"/><circle cx="383.3" cy="480.7" r="7.5"/><circle cx="421.1" cy="466.4" r="7.5"/><circle cx="426.7" cy="483.1" r="7.5"/><circle cx="405" cy="504.9" r="7.5"/><circle cx="421.8" cy="508" r="7.5"/><circle cx="412.5" cy="519.7" r="7.5"/><circle cx="431.1" cy="528.2" r="7.5"/><circle cx="481.9" cy="505.5" r="7.5"/><circle cx="492.5" cy="513.5" r="7.5"/><circle cx="514.8" cy="517.3" r="7.5"/><circle cx="501.1" cy="519.7" r="7.5"/><circle cx="511.1" cy="527.2" r="7.5"/><circle cx="525.9" cy="534.6" r="7.5"/><circle cx="540.8" cy="538.3" r="7.5"/><circle cx="506.1" cy="538.3" r="7.5"/><circle cx="558.2" cy="466.4" r="7.5"/><circle cx="545.8" cy="463.9" r="7.5"/><circle cx="556.9" cy="478.8" r="7.5"/><circle cx="553.2" cy="488.7" r="7.5"/><circle cx="559.4" cy="496.2" r="7.5"/><circle cx="573.1" cy="463.9" r="7.5"/><circle cx="576.8" cy="455.2" r="7.5"/><circle cx="573.1" cy="490" r="7.5"/><circle cx="563.1" cy="519.7" r="7.5"/><circle cx="555.7" cy="528.4" r="7.5"/><circle cx="573.1" cy="523.5" r="7.5"/><circle cx="539.6" cy="508.6" r="7.5"/><circle cx="493.7" cy="478.8" r="7.5"/><circle cx="503.6" cy="486.2" r="7.5"/><circle cx="513.5" cy="491.2" r="7.5"/><circle cx="516" cy="477.6" r="7.5"/><circle cx="503.6" cy="476.3" r="7.5"/><circle cx="527.2" cy="501.1" r="7.5"/><circle cx="538.3" cy="468.9" r="7.5"/><circle cx="472.6" cy="466.4" r="7.5"/><circle cx="476.3" cy="459" r="7.5"/><circle cx="482.5" cy="452.8" r="7.5"/><circle cx="730.7" cy="331.9" r="7.5"/><circle cx="728.8" cy="344.3" r="7.5"/><circle cx="715.8" cy="351.7" r="7.5"/><circle cx="716.4" cy="362.9" r="7.5"/><circle cx="728.8" cy="378.4" r="7.5"/><circle cx="782.8" cy="349.8" r="7.5"/><circle cx="778.4" cy="372.8" r="7.5"/><circle cx="780.9" cy="380.8" r="7.5"/><circle cx="781.5" cy="389.5" r="7.5"/><circle cx="784.6" cy="397" r="7.5"/><circle cx="766" cy="395.7" r="7.5"/><circle cx="628.1" cy="393.9" r="7.5"/><circle cx="627.1" cy="410" r="7.5"/><circle cx="593" cy="430.4" r="7.5"/><circle cx="615.3" cy="434.8" r="7.5"/><circle cx="592.4" cy="444.1" r="7.5"/><circle cx="611" cy="440.4" r="7.5"/><circle cx="611" cy="447.8" r="7.5"/><circle cx="635.8" cy="456.5" r="7.5"/><circle cx="623.4" cy="467.6" r="7.5"/><circle cx="709" cy="430.4" r="7.5"/><circle cx="710.2" cy="399.4" r="7.5"/><circle cx="713.9" cy="415.6" r="7.5"/><circle cx="706.5" cy="446.6" r="7.5"/><circle cx="735" cy="431.7" r="7.5"/><circle cx="773.5" cy="415.6" r="7.5"/><circle cx="780.9" cy="419.3" r="7.5"/><circle cx="799.5" cy="410.6" r="7.5"/><circle cx="825.5" cy="395.7" r="7.5"/><circle cx="823.1" cy="409.4" r="7.5"/><circle cx="790.8" cy="429.2" r="7.5"/><circle cx="772.2" cy="435.4" r="7.5"/><circle cx="723.8" cy="369.7" r="7.5"/><circle cx="733.8" cy="384.6" r="7.5"/><circle cx="704" cy="416.8" r="7.5"/><circle cx="720.1" cy="436.6" r="7.5"/><circle cx="766" cy="409.4" r="7.5"/><circle cx="741.2" cy="416.8" r="7.5"/><circle cx="790.8" cy="416.8" r="7.5"/><circle cx="815.6" cy="416.8" r="7.5"/><circle cx="850.7" cy="370.3" r="7.5"/><circle cx="841.4" cy="381.5" r="7.5"/><circle cx="831.5" cy="400.1" r="7.5"/><circle cx="917.4" cy="393.9" r="7.5"/><circle cx="928.8" cy="405.6" r="7.5"/><circle cx="895.9" cy="432.9" r="7.5"/><circle cx="906.5" cy="444.1" r="7.5"/><circle cx="918.3" cy="444.1" r="7.5"/><circle cx="894.1" cy="459" r="7.5"/><circle cx="897.2" cy="467.6" r="7.5"/><circle cx="917.6" cy="466.4" r="7.5"/><circle cx="891" cy="496.2" r="7.5"/><circle cx="887.9" cy="521" r="7.5"/><circle cx="893.5" cy="528.4" r="7.5"/><circle cx="865.6" cy="521" r="7.5"/><circle cx="849.4" cy="537.1" r="7.5"/><circle cx="854.4" cy="456.5" r="7.5"/><circle cx="486.8" cy="563.4" r="7.5"/><circle cx="481.5" cy="584.2" r="7.5"/><circle cx="506.9" cy="602.8" r="7.5"/><circle cx="556.5" cy="580.8" r="7.5"/><circle cx="513.5" cy="538.6" r="7.5"/><circle cx="550.7" cy="545.4" r="7.5"/><circle cx="563.7" cy="554.7" r="7.5"/><circle cx="578.6" cy="558.4" r="7.5"/><circle cx="582.3" cy="560.9" r="7.5"/><circle cx="583.5" cy="567.1" r="7.5"/><circle cx="593.5" cy="573.3" r="7.5"/><circle cx="606.5" cy="582.6" r="7.5"/><circle cx="633.8" cy="590.1" r="7.5"/><circle cx="634.1" cy="603.7" r="7.5"/><circle cx="633.4" cy="617" r="7.5"/><circle cx="589.7" cy="604.3" r="7.5"/><circle cx="601.5" cy="603.7" r="7.5"/><circle cx="585.4" cy="611.1" r="7.5"/><circle cx="595.9" cy="606.8" r="7.5"/><circle cx="561.2" cy="533.6" r="7.5"/><circle cx="573.6" cy="533.6" r="7.5"/><circle cx="610.8" cy="553.5" r="7.5"/><circle cx="619.5" cy="552.9" r="7.5"/><circle cx="628.2" cy="563.4" r="7.5"/><circle cx="641.8" cy="559.7" r="7.5"/><circle cx="636.9" cy="572.1" r="7.5"/><circle cx="643.1" cy="580.8" r="7.5"/><circle cx="604.6" cy="544.8" r="7.5"/><circle cx="592.2" cy="548.5" r="7.5"/><circle cx="635.6" cy="542.3" r="7.5"/><circle cx="618.3" cy="538.6" r="7.5"/><circle cx="646.8" cy="544.8" r="7.5"/><circle cx="653.7" cy="568.4" r="7.5"/><circle cx="671.1" cy="567.7" r="7.5"/><circle cx="710.8" cy="583.9" r="7.5"/><circle cx="699" cy="583.9" r="7.5"/><circle cx="682.9" cy="595" r="7.5"/><circle cx="715.4" cy="598.7" r="7.5"/><circle cx="685.7" cy="616.1" r="7.5"/><circle cx="751.1" cy="598.7" r="7.5"/><circle cx="754.2" cy="625.4" r="7.5"/><circle cx="744.2" cy="578.3" r="7.5"/><circle cx="757.9" cy="579.5" r="7.5"/><circle cx="814.9" cy="557.2" r="7.5"/><circle cx="818.7" cy="563.4" r="7.5"/><circle cx="826.1" cy="549.8" r="7.5"/><circle cx="823.6" cy="538.6" r="7.5"/><circle cx="659.9" cy="538.6" r="7.5"/><circle cx="674.8" cy="544.8" r="7.5"/><circle cx="690.9" cy="542.3" r="7.5"/><circle cx="705.8" cy="544.8" r="7.5"/><circle cx="662.4" cy="553.5" r="7.5"/><circle cx="683.5" cy="556" r="7.5"/><circle cx="710.8" cy="554.7" r="7.5"/><circle cx="720.7" cy="557.2" r="7.5"/><circle cx="698.4" cy="551" r="7.5"/><circle cx="744.2" cy="554.7" r="7.5"/><circle cx="811.2" cy="544.8" r="7.5"/><circle cx="764.1" cy="582" r="7.5"/><circle cx="729.4" cy="567.1" r="7.5"/><circle cx="733.1" cy="224.6" r="7.5"/><circle cx="734.3" cy="231.6" r="7.5"/><circle cx="736.8" cy="249.4" r="7.5"/><circle cx="726.9" cy="255.9" r="7.5"/><circle cx="732.3" cy="258.4" r="7.5"/><circle cx="735.8" cy="260.4" r="7.5"/><circle cx="744.2" cy="256.4" r="7.5"/><circle cx="726.4" cy="314.4" r="7.5"/></g>
<g class="db"><circle cx="768" cy="518" r="7.5"/><circle cx="788.8" cy="521" r="7.5"/><circle cx="792.6" cy="511.3" r="7.5"/><circle cx="736.3" cy="531.8" r="7.5"/><circle cx="741.9" cy="480.2" r="7.5"/><circle cx="795.8" cy="450.9" r="7.5"/><circle cx="751.7" cy="554" r="7.5"/><circle cx="767.1" cy="511.8" r="7.5"/><circle cx="741.6" cy="513.4" r="7.5"/><circle cx="807" cy="510.6" r="7.5"/><circle cx="800.9" cy="529" r="7.5"/><circle cx="745.9" cy="463.5" r="7.5"/><circle cx="739.4" cy="497.6" r="7.5"/><circle cx="792.2" cy="482.5" r="7.5"/><circle cx="760.2" cy="483.6" r="7.5"/><circle cx="762.1" cy="541.7" r="7.5"/><circle cx="809.5" cy="502.7" r="7.5"/><circle cx="755.5" cy="505.7" r="7.5"/><circle cx="745" cy="482.4" r="7.5"/><circle cx="766.4" cy="516.4" r="7.5"/><circle cx="793.3" cy="493.6" r="7.5"/><circle cx="737.9" cy="468.1" r="7.5"/><circle cx="749.4" cy="463.6" r="7.5"/><circle cx="778.9" cy="454.1" r="7.5"/><circle cx="746.3" cy="459.7" r="7.5"/><circle cx="810.8" cy="539.3" r="7.5"/><circle cx="785" cy="527.5" r="7.5"/><circle cx="780.9" cy="504.3" r="7.5"/><circle cx="776.9" cy="492.8" r="7.5"/><circle cx="756.3" cy="470.8" r="7.5"/><circle cx="754" cy="462" r="7.5"/><circle cx="749" cy="494.9" r="7.5"/><circle cx="774.4" cy="491.7" r="7.5"/><circle cx="747.8" cy="523.5" r="7.5"/><circle cx="777.3" cy="531.6" r="7.5"/><circle cx="769.5" cy="485.8" r="7.5"/><circle cx="752" cy="484.7" r="7.5"/><circle cx="787.6" cy="494" r="7.5"/><circle cx="774.1" cy="486.7" r="7.5"/><circle cx="769.2" cy="464.1" r="7.5"/><circle cx="810.6" cy="459.5" r="7.5"/><circle cx="800.3" cy="510.6" r="7.5"/><circle cx="752.5" cy="555" r="7.5"/><circle cx="747.6" cy="445.7" r="7.5"/><circle cx="772.8" cy="502.9" r="7.5"/><circle cx="746.6" cy="445.8" r="7.5"/><circle cx="777" cy="528" r="7.5"/><circle cx="740.1" cy="520.4" r="7.5"/><circle cx="782.4" cy="487.8" r="7.5"/><circle cx="778.1" cy="507.1" r="7.5"/><circle cx="802.5" cy="476.3" r="7.5"/><circle cx="775.6" cy="499.6" r="7.5"/><circle cx="767.7" cy="524.3" r="7.5"/><circle cx="811" cy="498" r="7.5"/><circle cx="815" cy="482.4" r="7.5"/><circle cx="744.3" cy="528.6" r="7.5"/><circle cx="791.7" cy="496.6" r="7.5"/><circle cx="783.9" cy="481.1" r="7.5"/><circle cx="750.9" cy="494.4" r="7.5"/><circle cx="782.4" cy="500.8" r="7.5"/><circle cx="843.3" cy="434.8" r="7.5"/><circle cx="860.5" cy="465" r="7.5"/><circle cx="835.4" cy="455.2" r="7.5"/><circle cx="855.9" cy="493.7" r="7.5"/><circle cx="822.1" cy="520.4" r="7.5"/><circle cx="861.4" cy="492.7" r="7.5"/><circle cx="807.3" cy="486.7" r="7.5"/><circle cx="831.1" cy="478.3" r="7.5"/><circle cx="822.3" cy="501.4" r="7.5"/><circle cx="853.7" cy="467.1" r="7.5"/><circle cx="859.6" cy="495.9" r="7.5"/><circle cx="858.9" cy="493.4" r="7.5"/><circle cx="842.4" cy="472.1" r="7.5"/><circle cx="815.4" cy="497.4" r="7.5"/><circle cx="846.8" cy="468.3" r="7.5"/><circle cx="807.1" cy="507.4" r="7.5"/><circle cx="814.3" cy="474.1" r="7.5"/><circle cx="817.7" cy="470.1" r="7.5"/><circle cx="850.6" cy="517.4" r="7.5"/><circle cx="844.3" cy="471.6" r="7.5"/><circle cx="815" cy="460.3" r="7.5"/><circle cx="818" cy="487" r="7.5"/><circle cx="843.2" cy="471.5" r="7.5"/><circle cx="818.3" cy="454.8" r="7.5"/><circle cx="848.2" cy="495.8" r="7.5"/><circle cx="811.7" cy="509.1" r="7.5"/><circle cx="814.1" cy="499.1" r="7.5"/><circle cx="816.4" cy="512" r="7.5"/><circle cx="846.3" cy="480.6" r="7.5"/><circle cx="830.1" cy="496" r="7.5"/><circle cx="373.4" cy="351.7" r="7.5"/><circle cx="380" cy="351.1" r="7.5"/><circle cx="381.1" cy="367" r="7.5"/><circle cx="383.9" cy="398.8" r="7.5"/><circle cx="380.8" cy="404.4" r="7.5"/><circle cx="397" cy="425.5" r="7.5"/><circle cx="379" cy="445.3" r="7.5"/><circle cx="386.4" cy="446.6" r="7.5"/><circle cx="384.2" cy="457.7" r="7.5"/><circle cx="389.5" cy="468.6" r="7.5"/><circle cx="407.5" cy="448.4" r="7.5"/><circle cx="462.7" cy="460.8" r="7.5"/><circle cx="472.6" cy="412.5" r="7.5"/><circle cx="514.4" cy="426.7" r="7.5"/><circle cx="535.9" cy="462.9" r="7.5"/><circle cx="534" cy="480" r="7.5"/><circle cx="481.3" cy="480.7" r="7.5"/><circle cx="522.8" cy="492.5" r="7.5"/><circle cx="423.6" cy="491.6" r="7.5"/><circle cx="448.8" cy="497.4" r="7.5"/><circle cx="441.6" cy="508.6" r="7.5"/><circle cx="390.5" cy="512" r="7.5"/><circle cx="463.1" cy="525.9" r="7.5"/><circle cx="568.1" cy="477.6" r="7.5"/><circle cx="566.6" cy="507.1" r="7.5"/><circle cx="767.9" cy="360.4" r="7.5"/><circle cx="806.7" cy="379" r="7.5"/><circle cx="718.6" cy="390.4" r="7.5"/><circle cx="742.8" cy="390.8" r="7.5"/><circle cx="722" cy="402.9" r="7.5"/><circle cx="740" cy="404.2" r="7.5"/><circle cx="758.2" cy="401.7" r="7.5"/><circle cx="808.2" cy="391.6" r="7.5"/><circle cx="812.3" cy="403.8" r="7.5"/><circle cx="811.9" cy="409.4" r="7.5"/><circle cx="728.8" cy="423" r="7.5"/><circle cx="758.6" cy="421.1" r="7.5"/><circle cx="752.4" cy="431.1" r="7.5"/><circle cx="807.6" cy="423" r="7.5"/><circle cx="679.8" cy="427.3" r="7.5"/><circle cx="660" cy="440.4" r="7.5"/><circle cx="678" cy="444.7" r="7.5"/><circle cx="727.6" cy="447.2" r="7.5"/><circle cx="733.8" cy="452.8" r="7.5"/><circle cx="750.5" cy="450.9" r="7.5"/><circle cx="759.8" cy="455.2" r="7.5"/><circle cx="783.4" cy="444.1" r="7.5"/><circle cx="802" cy="434.2" r="7.5"/><circle cx="799.5" cy="450.9" r="7.5"/><circle cx="819.3" cy="441.6" r="7.5"/><circle cx="821.8" cy="456.5" r="7.5"/><circle cx="689.7" cy="455.2" r="7.5"/><circle cx="681.1" cy="459" r="7.5"/><circle cx="668.7" cy="463.3" r="7.5"/><circle cx="651.3" cy="467" r="7.5"/><circle cx="700.9" cy="467" r="7.5"/><circle cx="595.5" cy="456.5" r="7.5"/><circle cx="598" cy="460.2" r="7.5"/><circle cx="591.2" cy="472.6" r="7.5"/><circle cx="586.8" cy="477.6" r="7.5"/><circle cx="660.6" cy="480.7" r="7.5"/><circle cx="655.6" cy="483.8" r="7.5"/><circle cx="722.6" cy="470.1" r="7.5"/><circle cx="716.4" cy="472.6" r="7.5"/><circle cx="733.8" cy="471.4" r="7.5"/><circle cx="718.3" cy="480.7" r="7.5"/><circle cx="704" cy="476.3" r="7.5"/><circle cx="752.4" cy="472.6" r="7.5"/><circle cx="766" cy="468.9" r="7.5"/><circle cx="763.5" cy="477.6" r="7.5"/><circle cx="773.5" cy="473.8" r="7.5"/><circle cx="788.3" cy="468.9" r="7.5"/><circle cx="797" cy="466.4" r="7.5"/><circle cx="809.4" cy="463.9" r="7.5"/><circle cx="742.5" cy="489.4" r="7.5"/><circle cx="759.8" cy="493.7" r="7.5"/><circle cx="773.5" cy="494.3" r="7.5"/><circle cx="792.7" cy="485.6" r="7.5"/><circle cx="815.6" cy="481.3" r="7.5"/><circle cx="826.8" cy="485" r="7.5"/><circle cx="617.8" cy="502.4" r="7.5"/><circle cx="679.8" cy="501.1" r="7.5"/><circle cx="690.4" cy="501.1" r="7.5"/><circle cx="697.8" cy="508" r="7.5"/><circle cx="699" cy="512.3" r="7.5"/><circle cx="742.5" cy="509.8" r="7.5"/><circle cx="756.1" cy="502.4" r="7.5"/><circle cx="671.8" cy="528.4" r="7.5"/><circle cx="727.6" cy="519.7" r="7.5"/><circle cx="797" cy="516" r="7.5"/><circle cx="815.6" cy="528.4" r="7.5"/><circle cx="778.4" cy="534.6" r="7.5"/><circle cx="803.2" cy="534.6" r="7.5"/><circle cx="747.4" cy="535.9" r="7.5"/><circle cx="593.6" cy="534.6" r="7.5"/><circle cx="828" cy="429.2" r="7.5"/><circle cx="829.3" cy="342.4" r="7.5"/><circle cx="823.1" cy="509.8" r="7.5"/><circle cx="809.4" cy="503.6" r="7.5"/><circle cx="784.6" cy="509.8" r="7.5"/><circle cx="879.2" cy="368.4" r="7.5"/><circle cx="847.3" cy="402.5" r="7.5"/><circle cx="875.5" cy="402.2" r="7.5"/><circle cx="873.6" cy="417.8" r="7.5"/><circle cx="880.4" cy="420.5" r="7.5"/><circle cx="874.2" cy="429.2" r="7.5"/><circle cx="876.7" cy="431.1" r="7.5"/><circle cx="841.4" cy="421.1" r="7.5"/><circle cx="847.6" cy="418.7" r="7.5"/><circle cx="856.3" cy="423.6" r="7.5"/><circle cx="855" cy="434.2" r="7.5"/><circle cx="842.6" cy="439.1" r="7.5"/><circle cx="844.5" cy="444.1" r="7.5"/><circle cx="864.9" cy="445.9" r="7.5"/><circle cx="835.8" cy="447.8" r="7.5"/><circle cx="915.8" cy="426.7" r="7.5"/><circle cx="919.5" cy="468.3" r="7.5"/><circle cx="920.1" cy="480" r="7.5"/><circle cx="882.3" cy="465.8" r="7.5"/><circle cx="887.9" cy="472.6" r="7.5"/><circle cx="892.2" cy="483.8" r="7.5"/><circle cx="870.5" cy="478.8" r="7.5"/><circle cx="872.4" cy="490" r="7.5"/><circle cx="872.4" cy="501.1" r="7.5"/><circle cx="875.5" cy="508.6" r="7.5"/><circle cx="864.3" cy="511.1" r="7.5"/><circle cx="876.7" cy="523.5" r="7.5"/><circle cx="847" cy="491.2" r="7.5"/><circle cx="850.7" cy="501.1" r="7.5"/><circle cx="840.1" cy="513.5" r="7.5"/><circle cx="832.1" cy="467.6" r="7.5"/><circle cx="845.7" cy="463.9" r="7.5"/><circle cx="804.8" cy="491.2" r="7.5"/><circle cx="823.4" cy="516" r="7.5"/><circle cx="833.3" cy="523.5" r="7.5"/><circle cx="783.7" cy="516" r="7.5"/><circle cx="842" cy="538.3" r="7.5"/><circle cx="864.3" cy="538.3" r="7.5"/><circle cx="873" cy="537.1" r="7.5"/><circle cx="853.2" cy="485" r="7.5"/><circle cx="827.1" cy="491.2" r="7.5"/><circle cx="482.5" cy="564.6" r="7.5"/><circle cx="574.2" cy="544.8" r="7.5"/><circle cx="634.7" cy="645" r="7.5"/><circle cx="721.9" cy="534.3" r="7.5"/><circle cx="725.6" cy="547.3" r="7.5"/><circle cx="734.9" cy="554.7" r="7.5"/><circle cx="736.2" cy="564.6" r="7.5"/><circle cx="756.6" cy="538.6" r="7.5"/><circle cx="753.5" cy="565.9" r="7.5"/><circle cx="761.6" cy="567.7" r="7.5"/><circle cx="772.1" cy="550.4" r="7.5"/><circle cx="785.2" cy="551" r="7.5"/><circle cx="800.7" cy="550.4" r="7.5"/><circle cx="778.3" cy="564" r="7.5"/><circle cx="790.1" cy="562.2" r="7.5"/><circle cx="797.6" cy="571.5" r="7.5"/><circle cx="806.2" cy="578.3" r="7.5"/><circle cx="778.3" cy="575.8" r="7.5"/><circle cx="783.3" cy="578.3" r="7.5"/><circle cx="675.4" cy="575.2" r="7.5"/><circle cx="686" cy="578.3" r="7.5"/><circle cx="697.1" cy="569.6" r="7.5"/><circle cx="775.2" cy="591.9" r="7.5"/><circle cx="766.6" cy="595.6" r="7.5"/><circle cx="777.1" cy="606.8" r="7.5"/><circle cx="775.9" cy="616.1" r="7.5"/><circle cx="767.8" cy="619.8" r="7.5"/><circle cx="792.6" cy="618" r="7.5"/><circle cx="785.8" cy="626.6" r="7.5"/><circle cx="755.4" cy="635.9" r="7.5"/><circle cx="771.3" cy="635.3" r="7.5"/><circle cx="751.4" cy="647.7" r="7.5"/><circle cx="774.6" cy="656.2" r="7.5"/><circle cx="846.6" cy="549.8" r="7.5"/><circle cx="790.1" cy="523.7" r="7.5"/><circle cx="767.8" cy="523.7" r="7.5"/><circle cx="841" cy="545" r="7.5"/><circle cx="862.9" cy="544.2" r="7.5"/><circle cx="838.4" cy="495.3" r="7.5"/><circle cx="921.8" cy="287.2" r="7.5"/></g>
<path d="M339.5 365.3L354.4 380.8L369.3 395.5L384.2 409.5L399.1 422.7L413.9 435.1L428.8 446.8L443.7 457.8L458.6 468.0L473.5 477.5L488.4 486.2L503.3 494.1L518.2 501.3L533.0 507.8L547.9 513.5L562.8 518.4L577.7 522.7L592.6 526.1L607.5 528.8L622.4 530.8L637.3 532.0L652.2 532.4L667.0 532.1L681.9 531.1L696.8 529.4L711.7 526.9L726.6 523.6L741.5 519.7L756.4 515.0L771.3 509.5L786.1 503.4L801.0 496.4L815.9 488.8L830.8 480.4L845.7 471.3L860.6 461.4L875.5 450.9L890.4 439.5L905.3 427.5L920.1 414.7L935.0 401.1L935.0 413.8L920.1 426.1L905.3 437.8L890.4 448.8L875.5 459.1L860.6 468.8L845.7 477.8L830.8 486.1L815.9 493.7L801.0 500.7L786.1 507.0L771.3 512.6L756.4 517.6L741.5 521.8L726.6 525.5L711.7 528.4L696.8 530.7L681.9 532.3L667.0 533.2L652.2 533.5L637.3 533.1L622.4 532.0L607.5 530.3L592.6 527.9L577.7 524.9L562.8 521.2L547.9 516.9L533.0 511.9L518.2 506.2L503.3 499.9L488.4 492.9L473.5 485.3L458.6 477.0L443.7 468.1L428.8 458.5L413.9 448.3L399.1 437.3L384.2 425.8L369.3 413.6L354.4 400.7L339.5 387.1Z" class="cib"/>
<path d="M339.5 376.2L354.4 390.7L369.3 404.5L384.2 417.6L399.1 430.0L413.9 441.7L428.8 452.7L443.7 462.9L458.6 472.5L473.5 481.4L488.4 489.6L503.3 497.0L518.2 503.8L533.0 509.8L547.9 515.2L562.8 519.8L577.7 523.8L592.6 527.0L607.5 529.6L622.4 531.4L637.3 532.5L652.2 533.0L667.0 532.7L681.9 531.7L696.8 530.0L711.7 527.6L726.6 524.5L741.5 520.8L756.4 516.3L771.3 511.1L786.1 505.2L801.0 498.6L815.9 491.3L830.8 483.2L845.7 474.5L860.6 465.1L875.5 455.0L890.4 444.2L905.3 432.6L920.1 420.4L935.0 407.5" class="cvb"/>
<path d="M174.6 27H983.5" class="ax1"/>
<path d="M983.5 27V822.4" class="ax2"/>
<path d="M174.6 805.4H983.5" class="ax2"/>
<path d="M192.1 27V822.4" class="ax0"/>
<path d="M174.6 675.7H192.1M174.6 545.9H192.1M174.6 416.2H192.1M174.6 286.5H192.1M174.6 156.7H192.1" class="ax0"/>
<path d="M389.9 805.4V822.4M587.8 805.4V822.4M785.6 805.4V822.4" class="ax0"/>
<text transform="translate(141.9 819.7) scale(1.070 1)" class="t">0</text>
<text transform="translate(142.1 690.0) scale(1.060 1)" class="t">5</text>
<text transform="translate(126.2 560.2) scale(1.000 1)" class="t">1<tspan dx="-3.2">0</tspan></text>
<text transform="translate(129.7 430.5) scale(0.900 1)" class="t">1<tspan dx="-3.2">5</tspan></text>
<text transform="translate(121.3 300.8) scale(1.050 1)" class="t">20</text>
<text transform="translate(121.3 171.0) scale(1.050 1)" class="t">25</text>
<text transform="translate(121.3 41.3) scale(1.050 1)" class="t">30</text>
<text transform="translate(149.8 864.6) scale(0.940 1)" class="t">80<tspan font-size="41" dy="4.8" dx="1.2">°</tspan><tspan dy="-4.8"> S</tspan></text>
<text transform="translate(348.3 864.6) scale(0.939 1)" class="t">40<tspan font-size="41" dy="4.8" dx="1.2">°</tspan><tspan dy="-4.8"> S</tspan></text>
<text transform="translate(571.3 864.6) scale(0.988 1)" class="t">0<tspan font-size="41" dy="4.8" dx="1.2">°</tspan></text>
<text transform="translate(740.5 864.6) scale(1.008 1)" class="t">40<tspan font-size="41" dy="4.8" dx="1.2">°</tspan><tspan dy="-4.8"> N</tspan></text>
<text transform="translate(939.5 864.6) scale(1.009 1)" class="t">80<tspan font-size="41" dy="4.8" dx="1.2">°</tspan><tspan dy="-4.8"> N</tspan></text>
<text transform="translate(526.6 921.0) scale(0.974 1)" class="t">Latitude</text>
<text transform="translate(78.4 595.1) rotate(-90) scale(0.969 1)" class="t">Warming tolerance (<tspan font-size="41" dy="4.8" dx="1.2">°</tspan><tspan dy="-4.8">C)</tspan></text>
<path d="M272.6 55.5C272.6 59.9 272.4 73.7 272.6 81.4C272.8 89.2 273.2 97.0 273.6 102.2C274.0 107.3 274.3 109.1 274.9 112.5C275.4 116.0 275.7 119.8 277.1 122.9C278.6 126.0 281.1 128.6 283.4 131.2C285.6 133.8 288.2 136.0 290.6 138.4C293.0 140.8 296.1 143.3 297.9 145.7C299.6 148.0 301.0 150.2 301.2 152.4C301.3 154.6 300.8 156.3 298.9 159.1C297.0 162.0 292.5 166.0 289.6 169.5C286.6 172.9 283.5 176.4 281.3 179.9C279.0 183.3 277.4 186.8 276.1 190.2C274.8 193.7 274.0 196.4 273.4 200.6C272.8 204.7 272.7 212.7 272.6 215.1L271.3 215.1C271.2 212.7 271.1 204.7 270.5 200.6C269.9 196.4 269.1 193.7 267.8 190.2C266.5 186.8 264.9 183.3 262.6 179.9C260.4 176.4 257.3 172.9 254.3 169.5C251.4 166.0 247.0 162.0 245.0 159.1C243.1 156.3 242.6 154.6 242.7 152.4C242.9 150.2 244.3 148.0 246.1 145.7C247.8 143.3 250.9 140.8 253.3 138.4C255.7 136.0 258.3 133.8 260.6 131.2C262.8 128.6 265.4 126.0 266.8 122.9C268.2 119.8 268.5 116.0 269.1 112.5C269.6 109.1 269.9 107.3 270.3 102.2C270.7 97.0 271.1 89.2 271.3 81.4C271.5 73.7 271.3 59.9 271.3 55.5Z" fill="#6a9ccb" stroke="#000" stroke-width="2.4" stroke-linejoin="round"/>
<path d="M272.0 112.5V193.3" stroke="#000" stroke-width="2.3" stroke-linecap="round"/>
<circle cx="272.0" cy="152.4" r="10.4" fill="#fff"/>
<path d="M343.6 43.1C343.6 47.8 343.5 63.8 343.6 71.1C343.7 78.3 343.5 81.4 344.2 86.6C344.8 91.8 346.2 97.8 347.6 102.2C348.9 106.5 350.4 109.1 352.2 112.5C354.1 116.0 356.4 119.4 358.5 122.9C360.5 126.3 362.9 129.8 364.7 133.2C366.5 136.7 368.2 140.0 369.3 143.6C370.5 147.2 371.5 151.5 371.7 155.0C371.9 158.4 371.3 161.0 370.4 164.3C369.5 167.6 368.0 171.2 366.2 174.7C364.5 178.1 362.1 181.6 360.0 185.0C357.9 188.5 355.7 191.9 353.8 195.4C351.9 198.8 350.0 202.3 348.6 205.8C347.2 209.2 345.9 213.8 345.2 216.1C344.5 218.4 344.5 219.1 344.4 219.7L341.5 219.7C341.3 219.1 341.3 218.4 340.6 216.1C339.9 213.8 338.7 209.2 337.2 205.8C335.8 202.3 333.9 198.8 332.0 195.4C330.1 191.9 327.9 188.5 325.8 185.0C323.8 181.6 321.3 178.1 319.6 174.7C317.9 171.2 316.4 167.6 315.5 164.3C314.6 161.0 313.9 158.4 314.1 155.0C314.3 151.5 315.3 147.2 316.5 143.6C317.7 140.0 319.4 136.7 321.2 133.2C323.0 129.8 325.3 126.3 327.4 122.9C329.5 119.4 331.8 116.0 333.6 112.5C335.4 109.1 336.9 106.5 338.3 102.2C339.6 97.8 341.0 91.8 341.7 86.6C342.3 81.4 342.2 78.3 342.3 71.1C342.4 63.8 342.3 47.8 342.3 43.1Z" fill="#6a9ccb" stroke="#000" stroke-width="2.4" stroke-linejoin="round"/>
<path d="M342.9 120.8V194.4" stroke="#000" stroke-width="2.3" stroke-linecap="round"/>
<circle cx="342.9" cy="156.0" r="10.4" fill="#fff"/>
<path d="M414.6 45.7C414.6 50.5 414.5 65.7 414.6 74.2C414.7 82.8 414.7 91.3 415.3 97.0C415.9 102.7 417.1 104.7 417.9 108.5C418.7 112.3 419.2 116.1 420.2 119.9C421.2 123.7 422.0 127.8 424.2 131.3C426.4 134.7 430.6 137.5 433.3 140.4C436.1 143.3 439.1 145.9 440.7 148.4C442.4 150.9 443.0 152.8 443.0 155.2C443.0 157.7 442.3 160.6 440.7 163.2C439.2 165.9 436.4 168.5 433.9 171.2C431.4 173.9 427.6 177.3 425.9 179.2C424.2 181.1 424.0 181.9 423.6 182.4L404.2 182.4C403.8 181.9 403.7 181.1 401.9 179.2C400.2 177.3 396.4 173.9 394.0 171.2C391.5 168.5 388.6 165.9 387.1 163.2C385.6 160.6 384.8 157.7 384.8 155.2C384.8 152.8 385.5 150.9 387.1 148.4C388.7 145.9 391.8 143.3 394.5 140.4C397.3 137.5 401.5 134.7 403.7 131.3C405.8 127.8 406.6 123.7 407.6 119.9C408.7 116.1 409.1 112.3 409.9 108.5C410.7 104.7 412.0 102.7 412.6 97.0C413.1 91.3 413.2 82.8 413.3 74.2C413.4 65.7 413.3 50.5 413.3 45.7Z" fill="#6a9ccb" stroke="#000" stroke-width="2.4" stroke-linejoin="round"/>
<path d="M413.9 114.2V181.5" stroke="#000" stroke-width="2.3" stroke-linecap="round"/>
<circle cx="413.9" cy="155.8" r="10.8" fill="#fff"/>
<path d="M485.3 98.2C485.3 99.9 485.1 105.2 485.3 108.5C485.5 111.7 485.1 114.5 486.4 117.6C487.6 120.6 489.9 123.5 492.6 126.7C495.4 129.9 499.8 133.4 502.9 137.0C506.1 140.6 509.7 145.2 511.5 148.4C513.3 151.6 514.1 153.5 513.8 156.4C513.4 159.2 511.6 162.5 509.2 165.5C506.8 168.5 502.3 171.8 499.5 174.6C496.6 177.5 493.7 180.7 492.1 182.6C490.5 184.5 490.2 185.3 489.8 185.8L479.5 185.8C479.1 185.3 478.9 184.5 477.2 182.6C475.6 180.7 472.7 177.5 469.8 174.6C467.0 171.8 462.5 168.5 460.1 165.5C457.8 162.5 455.9 159.2 455.6 156.4C455.2 153.5 456.0 151.6 457.8 148.4C459.7 145.2 463.3 140.6 466.4 137.0C469.5 133.4 473.9 129.9 476.7 126.7C479.4 123.5 481.7 120.6 482.9 117.6C484.2 114.5 483.8 111.7 484.0 108.5C484.2 105.2 484.0 99.9 484.0 98.2Z" fill="#6a9ccb" stroke="#000" stroke-width="2.4" stroke-linejoin="round"/>
<path d="M484.7 117.6V184.9" stroke="#000" stroke-width="2.3" stroke-linecap="round"/>
<circle cx="484.7" cy="155.5" r="10.8" fill="#fff"/>
<path d="M556.3 95.3C556.3 96.0 556.0 97.9 556.3 99.3C556.6 100.8 556.9 101.4 557.9 103.9C558.9 106.4 560.7 110.5 562.5 114.2C564.3 117.8 566.4 121.8 568.7 125.6C571.1 129.4 574.4 133.2 576.7 137.0C579.1 140.8 581.7 145.3 583.0 148.4C584.3 151.4 584.9 152.8 584.7 155.2C584.5 157.7 583.6 160.6 581.9 163.2C580.2 165.9 577.1 168.5 574.4 171.2C571.8 173.9 568.5 176.5 565.9 179.2C563.3 181.9 560.5 184.9 559.0 187.2C557.6 189.5 557.5 190.4 557.0 192.9C556.5 195.4 556.4 198.9 556.3 202.0C556.2 205.1 556.3 210.1 556.3 211.7L555.0 211.7C555.0 210.1 555.1 205.1 555.0 202.0C554.9 198.9 554.7 195.4 554.3 192.9C553.8 190.4 553.7 189.5 552.2 187.2C550.7 184.9 547.9 181.9 545.4 179.2C542.8 176.5 539.5 173.9 536.8 171.2C534.1 168.5 531.1 165.9 529.4 163.2C527.7 160.6 526.7 157.7 526.5 155.2C526.3 152.8 526.9 151.4 528.2 148.4C529.6 145.3 532.1 140.8 534.5 137.0C536.9 133.2 540.1 129.4 542.5 125.6C544.9 121.8 547.0 117.8 548.8 114.2C550.6 110.5 552.3 106.4 553.3 103.9C554.4 101.4 554.7 100.8 554.9 99.3C555.2 97.9 555.0 96.0 555.0 95.3Z" fill="#6a9ccb" stroke="#000" stroke-width="2.4" stroke-linejoin="round"/>
<path d="M555.6 103.9V192.9" stroke="#000" stroke-width="2.3" stroke-linecap="round"/>
<path d="M555.6 138.1V141.0" stroke="#000" stroke-width="3.6"/>
<circle cx="555.6" cy="151.2" r="10.8" fill="#fff"/>
<path d="M271.8 280.7H556.3" class="ax3"/>
<path d="M608.5 68.5V280.5M608.5 280.5H614.8M608.5 227.5H614.8M608.5 174.5H614.8M608.5 121.5H614.8M608.5 68.5H614.8" class="ax3"/>
<text transform="translate(627.9 294.8) scale(1.070 1)" class="t">0</text>
<text transform="translate(626.9 241.8) scale(1.060 1)" class="t">5</text>
<text transform="translate(626.0 188.8) scale(1.000 1)" class="t">1<tspan dx="-3.2">0</tspan></text>
<text transform="translate(626.3 135.8) scale(0.900 1)" class="t">1<tspan dx="-3.2">5</tspan></text>
<text transform="translate(626.9 82.8) scale(1.050 1)" class="t">20</text>
<text transform="translate(246.8 334.3) scale(0.985 1)" class="t">DD</text>
<text transform="translate(323.7 334.3) scale(0.872 1)" class="t">LC</text>
<text transform="translate(390.4 334.3) scale(0.981 1)" class="t">NT</text>
<text transform="translate(462.2 334.3) scale(0.957 1)" class="t">VU</text>
<text transform="translate(533.4 334.3) scale(0.895 1)" class="t">EN</text>
<text transform="translate(678.8 155.1) rotate(90) scale(0.92 1.1)" class="t"><tspan font-size="41" dy="4.8" dx="1.2">°</tspan><tspan dy="-4.8">C</tspan></text>
<circle cx="697.1" cy="269.6" r="1.4" fill="#111"/>
</g>
<g transform="translate(1069 0)">
<text transform="translate(13.7 34.6) scale(1.072 1.12)" class="pl">b</text>
<g class="lb"><circle cx="593.4" cy="532" r="7.5"/><circle cx="563.9" cy="531.4" r="7.5"/><circle cx="625.2" cy="552.9" r="7.5"/><circle cx="577.5" cy="537.7" r="7.5"/><circle cx="627.9" cy="533.5" r="7.5"/><circle cx="636.4" cy="558.7" r="7.5"/><circle cx="588.3" cy="545.2" r="7.5"/><circle cx="643.9" cy="527.5" r="7.5"/><circle cx="611.6" cy="539.1" r="7.5"/><circle cx="638.6" cy="545.5" r="7.5"/><circle cx="570.5" cy="530.3" r="7.5"/><circle cx="598.7" cy="538.7" r="7.5"/><circle cx="634.5" cy="538.7" r="7.5"/><circle cx="657" cy="549.2" r="7.5"/><circle cx="587.4" cy="542" r="7.5"/><circle cx="651.8" cy="517.1" r="7.5"/><circle cx="610.4" cy="536.9" r="7.5"/><circle cx="559.4" cy="551.8" r="7.5"/><circle cx="590.5" cy="515.3" r="7.5"/><circle cx="562.4" cy="550.2" r="7.5"/><circle cx="653" cy="522.1" r="7.5"/><circle cx="593.6" cy="546" r="7.5"/><circle cx="625.8" cy="553.6" r="7.5"/><circle cx="643" cy="537.4" r="7.5"/><circle cx="646" cy="545.3" r="7.5"/><circle cx="642.9" cy="509.9" r="7.5"/><circle cx="625.2" cy="565.6" r="7.5"/><circle cx="634.6" cy="538.6" r="7.5"/><circle cx="580.1" cy="549.1" r="7.5"/><circle cx="623.9" cy="539.7" r="7.5"/><circle cx="606.1" cy="534.1" r="7.5"/><circle cx="647.8" cy="556.8" r="7.5"/><circle cx="649" cy="542" r="7.5"/><circle cx="623.9" cy="536.8" r="7.5"/><circle cx="583.6" cy="534.7" r="7.5"/><circle cx="618.2" cy="520.3" r="7.5"/><circle cx="605.1" cy="527.2" r="7.5"/><circle cx="592.5" cy="540.2" r="7.5"/><circle cx="575.8" cy="544" r="7.5"/><circle cx="615.3" cy="565.2" r="7.5"/><circle cx="604.3" cy="551.4" r="7.5"/><circle cx="653.7" cy="540.2" r="7.5"/><circle cx="619.6" cy="533.9" r="7.5"/><circle cx="618.8" cy="548.6" r="7.5"/><circle cx="573" cy="542.5" r="7.5"/><circle cx="726.8" cy="528.8" r="7.5"/><circle cx="726" cy="531" r="7.5"/><circle cx="764.1" cy="563.2" r="7.5"/><circle cx="665.5" cy="518.8" r="7.5"/><circle cx="737.5" cy="560.1" r="7.5"/><circle cx="655.7" cy="525.8" r="7.5"/><circle cx="661.7" cy="534.6" r="7.5"/><circle cx="701.3" cy="525.7" r="7.5"/><circle cx="753.6" cy="512.8" r="7.5"/><circle cx="689.3" cy="504.7" r="7.5"/><circle cx="694.9" cy="567.7" r="7.5"/><circle cx="664.8" cy="561.9" r="7.5"/><circle cx="699.6" cy="536.3" r="7.5"/><circle cx="731.4" cy="575" r="7.5"/><circle cx="720.8" cy="519.6" r="7.5"/><circle cx="720.4" cy="543.4" r="7.5"/><circle cx="744" cy="542.3" r="7.5"/><circle cx="676.4" cy="535.1" r="7.5"/><circle cx="715.8" cy="573" r="7.5"/><circle cx="683.4" cy="537.1" r="7.5"/><circle cx="707.3" cy="524.7" r="7.5"/><circle cx="660.1" cy="522.4" r="7.5"/><circle cx="658.3" cy="579.5" r="7.5"/><circle cx="709.8" cy="560.2" r="7.5"/><circle cx="713.4" cy="520.2" r="7.5"/><circle cx="667.1" cy="549.6" r="7.5"/><circle cx="672.7" cy="544.8" r="7.5"/><circle cx="747.6" cy="552.3" r="7.5"/><circle cx="747.7" cy="527.7" r="7.5"/><circle cx="757.1" cy="536.5" r="7.5"/><circle cx="751.8" cy="570.5" r="7.5"/><circle cx="719" cy="524.1" r="7.5"/><circle cx="750" cy="536.1" r="7.5"/><circle cx="760.5" cy="523.1" r="7.5"/><circle cx="697.4" cy="538" r="7.5"/><circle cx="718.3" cy="550.8" r="7.5"/><circle cx="717.7" cy="538.2" r="7.5"/><circle cx="709.8" cy="520.9" r="7.5"/><circle cx="742.4" cy="539.1" r="7.5"/><circle cx="652.4" cy="538.2" r="7.5"/><circle cx="688" cy="540.6" r="7.5"/><circle cx="761.3" cy="543.2" r="7.5"/><circle cx="695.5" cy="548.1" r="7.5"/><circle cx="676.2" cy="546.9" r="7.5"/><circle cx="733.6" cy="526.4" r="7.5"/><circle cx="400.7" cy="402.7" r="7.5"/><circle cx="401.2" cy="408.4" r="7.5"/><circle cx="425.8" cy="440.8" r="7.5"/><circle cx="454.4" cy="462.4" r="7.5"/><circle cx="448.7" cy="468.1" r="7.5"/><circle cx="392.2" cy="449.3" r="7.5"/><circle cx="391.4" cy="464" r="7.5"/><circle cx="400.4" cy="475.5" r="7.5"/><circle cx="394.7" cy="483.7" r="7.5"/><circle cx="407.8" cy="459.1" r="7.5"/><circle cx="412.7" cy="469" r="7.5"/><circle cx="420.9" cy="483.7" r="7.5"/><circle cx="432.3" cy="485.3" r="7.5"/><circle cx="420.9" cy="497.6" r="7.5"/><circle cx="448.7" cy="502.5" r="7.5"/><circle cx="438.9" cy="510.7" r="7.5"/><circle cx="432.3" cy="513.2" r="7.5"/><circle cx="419.2" cy="518.1" r="7.5"/><circle cx="423.3" cy="523.8" r="7.5"/><circle cx="416.8" cy="531.2" r="7.5"/><circle cx="456.9" cy="519.7" r="7.5"/><circle cx="449.5" cy="528.7" r="7.5"/><circle cx="474.9" cy="524.6" r="7.5"/><circle cx="478.1" cy="527.9" r="7.5"/><circle cx="465" cy="532.8" r="7.5"/><circle cx="422.5" cy="544.3" r="7.5"/><circle cx="410.2" cy="550.8" r="7.5"/><circle cx="419.2" cy="549.2" r="7.5"/><circle cx="434.8" cy="551.6" r="7.5"/><circle cx="450.3" cy="550.8" r="7.5"/><circle cx="464.2" cy="556.5" r="7.5"/><circle cx="432.3" cy="560.6" r="7.5"/><circle cx="450.3" cy="565.5" r="7.5"/><circle cx="452.8" cy="580.3" r="7.5"/><circle cx="489.6" cy="542.6" r="7.5"/><circle cx="500.2" cy="541" r="7.5"/><circle cx="502.7" cy="555.7" r="7.5"/><circle cx="512.5" cy="541" r="7.5"/><circle cx="516.6" cy="552.4" r="7.5"/><circle cx="532.2" cy="544.3" r="7.5"/><circle cx="525.6" cy="542.6" r="7.5"/><circle cx="515" cy="570.5" r="7.5"/><circle cx="524" cy="572.1" r="7.5"/><circle cx="512.5" cy="580.3" r="7.5"/><circle cx="548.5" cy="552.4" r="7.5"/><circle cx="546.9" cy="573.7" r="7.5"/><circle cx="556.7" cy="503.3" r="7.5"/><circle cx="579.6" cy="490.2" r="7.5"/><circle cx="568.2" cy="524.6" r="7.5"/><circle cx="556.7" cy="526.3" r="7.5"/><circle cx="599.3" cy="516.4" r="7.5"/><circle cx="609.1" cy="505" r="7.5"/><circle cx="625.5" cy="516.4" r="7.5"/><circle cx="630.4" cy="523" r="7.5"/><circle cx="634.5" cy="488.6" r="7.5"/><circle cx="599.3" cy="524.6" r="7.5"/><circle cx="615.6" cy="524.6" r="7.5"/><circle cx="640.2" cy="537.7" r="7.5"/><circle cx="566.5" cy="555.7" r="7.5"/><circle cx="561.6" cy="588.5" r="7.5"/><circle cx="546.9" cy="596.6" r="7.5"/><circle cx="489.6" cy="598.3" r="7.5"/><circle cx="510.9" cy="599.1" r="7.5"/><circle cx="586.2" cy="596.6" r="7.5"/><circle cx="632" cy="596.6" r="7.5"/><circle cx="591.1" cy="581.9" r="7.5"/><circle cx="607.5" cy="588.5" r="7.5"/><circle cx="648.4" cy="516.4" r="7.5"/><circle cx="538.7" cy="555.7" r="7.5"/><circle cx="807.4" cy="310" r="7.5"/><circle cx="856.9" cy="380.9" r="7.5"/><circle cx="814.9" cy="413.9" r="7.5"/><circle cx="853.3" cy="431.8" r="7.5"/><circle cx="777.8" cy="447" r="7.5"/><circle cx="818.5" cy="452.3" r="7.5"/><circle cx="701" cy="454.1" r="7.5"/><circle cx="685.5" cy="467.5" r="7.5"/><circle cx="670.3" cy="477.3" r="7.5"/><circle cx="688.1" cy="478.2" r="7.5"/><circle cx="731" cy="471.1" r="7.5"/><circle cx="764.9" cy="463.9" r="7.5"/><circle cx="779.2" cy="467.5" r="7.5"/><circle cx="709.6" cy="488.9" r="7.5"/><circle cx="727.4" cy="490.7" r="7.5"/><circle cx="757.8" cy="478.2" r="7.5"/><circle cx="784.6" cy="480" r="7.5"/><circle cx="745.3" cy="487.1" r="7.5"/><circle cx="770.3" cy="492.5" r="7.5"/><circle cx="809.6" cy="481.8" r="7.5"/><circle cx="814.9" cy="483.6" r="7.5"/><circle cx="809.6" cy="492.5" r="7.5"/><circle cx="817.6" cy="499.6" r="7.5"/><circle cx="727.4" cy="501.4" r="7.5"/><circle cx="745.3" cy="501.4" r="7.5"/><circle cx="761.4" cy="506.8" r="7.5"/><circle cx="673.9" cy="510.4" r="7.5"/><circle cx="698.9" cy="512.1" r="7.5"/><circle cx="727.4" cy="512.1" r="7.5"/><circle cx="684.6" cy="522.9" r="7.5"/><circle cx="668.5" cy="522.9" r="7.5"/><circle cx="773.9" cy="526.4" r="7.5"/><circle cx="777.4" cy="533.6" r="7.5"/><circle cx="756" cy="530" r="7.5"/><circle cx="702.4" cy="530" r="7.5"/><circle cx="691.7" cy="569.3" r="7.5"/><circle cx="709.6" cy="558.6" r="7.5"/><circle cx="666.7" cy="565.7" r="7.5"/><circle cx="673.9" cy="574.6" r="7.5"/><circle cx="707.8" cy="565.7" r="7.5"/><circle cx="745.3" cy="565.7" r="7.5"/><circle cx="773.9" cy="576.4" r="7.5"/><circle cx="656" cy="572.9" r="7.5"/><circle cx="720.3" cy="537.1" r="7.5"/><circle cx="741.7" cy="517.5" r="7.5"/><circle cx="634.6" cy="558.6" r="7.5"/><circle cx="505.1" cy="605.7" r="7.5"/><circle cx="505.1" cy="611.1" r="7.5"/><circle cx="555.1" cy="610.2" r="7.5"/><circle cx="573.9" cy="612.9" r="7.5"/><circle cx="572.1" cy="618.2" r="7.5"/><circle cx="589" cy="621.8" r="7.5"/><circle cx="600.6" cy="628.9" r="7.5"/><circle cx="576.5" cy="634.3" r="7.5"/><circle cx="616.7" cy="605.7" r="7.5"/><circle cx="610.5" cy="617.3" r="7.5"/><circle cx="626.5" cy="624.5" r="7.5"/><circle cx="615.8" cy="636.1" r="7.5"/><circle cx="616.7" cy="637.9" r="7.5"/><circle cx="643.5" cy="611.1" r="7.5"/><circle cx="661.4" cy="586.1" r="7.5"/><circle cx="673" cy="605.7" r="7.5"/><circle cx="661.4" cy="618.2" r="7.5"/><circle cx="668.5" cy="616.4" r="7.5"/><circle cx="681" cy="611.1" r="7.5"/><circle cx="689.9" cy="618.2" r="7.5"/><circle cx="688.1" cy="589.6" r="7.5"/><circle cx="670.3" cy="539.6" r="7.5"/><circle cx="670.3" cy="559.3" r="7.5"/><circle cx="572.1" cy="578.9" r="7.5"/><circle cx="756" cy="584.6" r="7.5"/><circle cx="728.9" cy="625.7" r="7.5"/><circle cx="711.4" cy="597.1" r="7.5"/><circle cx="716.7" cy="595.4" r="7.5"/><circle cx="668.5" cy="584.6" r="7.5"/><circle cx="680.1" cy="573" r="7.5"/><circle cx="727.4" cy="568.6" r="7.5"/><circle cx="656" cy="565" r="7.5"/><circle cx="691.7" cy="581.1" r="7.5"/><circle cx="698.9" cy="572.1" r="7.5"/><circle cx="741.7" cy="554.3" r="7.5"/></g>
<g class="db"><circle cx="354.6" cy="412.5" r="7.5"/><circle cx="383.2" cy="431.3" r="7.5"/><circle cx="413.5" cy="454.2" r="7.5"/><circle cx="425.8" cy="470.6" r="7.5"/><circle cx="582.9" cy="445.7" r="7.5"/><circle cx="623.8" cy="437" r="7.5"/><circle cx="641.5" cy="390.1" r="7.5"/><circle cx="566" cy="483.7" r="7.5"/><circle cx="575.5" cy="493.5" r="7.5"/><circle cx="587" cy="493.5" r="7.5"/><circle cx="566" cy="504.2" r="7.5"/><circle cx="614.8" cy="497.6" r="7.5"/><circle cx="627.6" cy="479.6" r="7.5"/><circle cx="650" cy="467.3" r="7.5"/><circle cx="650" cy="491.9" r="7.5"/><circle cx="587.5" cy="514.8" r="7.5"/><circle cx="563.3" cy="532.8" r="7.5"/><circle cx="553.4" cy="534.4" r="7.5"/><circle cx="574.7" cy="532.8" r="7.5"/><circle cx="582.9" cy="539.3" r="7.5"/><circle cx="616.5" cy="537.7" r="7.5"/><circle cx="591.1" cy="544.3" r="7.5"/><circle cx="576.4" cy="547.5" r="7.5"/><circle cx="555.1" cy="569.6" r="7.5"/><circle cx="579.6" cy="565.5" r="7.5"/><circle cx="587" cy="574.5" r="7.5"/><circle cx="597.6" cy="565.5" r="7.5"/><circle cx="609.1" cy="562.3" r="7.5"/><circle cx="620.6" cy="565.5" r="7.5"/><circle cx="626.3" cy="577" r="7.5"/><circle cx="609.1" cy="575.4" r="7.5"/><circle cx="641.8" cy="570.5" r="7.5"/><circle cx="566.5" cy="590.1" r="7.5"/><circle cx="582.9" cy="598.3" r="7.5"/><circle cx="646.7" cy="581.9" r="7.5"/><circle cx="650" cy="524.6" r="7.5"/><circle cx="638.6" cy="596.6" r="7.5"/><circle cx="738.1" cy="402.3" r="7.5"/><circle cx="873.5" cy="355.9" r="7.5"/><circle cx="831.4" cy="374.6" r="7.5"/><circle cx="811" cy="407.1" r="7.5"/><circle cx="838.1" cy="412.1" r="7.5"/><circle cx="846.2" cy="405.9" r="7.5"/><circle cx="873" cy="405.9" r="7.5"/><circle cx="775.3" cy="420.2" r="7.5"/><circle cx="819.4" cy="437.1" r="7.5"/><circle cx="820.3" cy="435.4" r="7.5"/><circle cx="828.3" cy="455" r="7.5"/><circle cx="803.3" cy="464.8" r="7.5"/><circle cx="808.7" cy="466.6" r="7.5"/><circle cx="764.9" cy="455.9" r="7.5"/><circle cx="665.8" cy="446.1" r="7.5"/><circle cx="723.9" cy="459.5" r="7.5"/><circle cx="727.4" cy="462.1" r="7.5"/><circle cx="700.6" cy="472" r="7.5"/><circle cx="720.3" cy="479.1" r="7.5"/><circle cx="673.9" cy="488" r="7.5"/><circle cx="656.5" cy="492.5" r="7.5"/><circle cx="756" cy="491.6" r="7.5"/><circle cx="782.8" cy="490.7" r="7.5"/><circle cx="697.4" cy="502.9" r="7.5"/><circle cx="716.2" cy="514.8" r="7.5"/><circle cx="659.6" cy="526.4" r="7.5"/><circle cx="780.1" cy="519.3" r="7.5"/><circle cx="789.9" cy="505.9" r="7.5"/><circle cx="808.1" cy="517.5" r="7.5"/><circle cx="899.2" cy="456.4" r="7.5"/><circle cx="891.4" cy="516.6" r="7.5"/><circle cx="868.5" cy="567.5" r="7.5"/><circle cx="739" cy="540.7" r="7.5"/><circle cx="752.4" cy="540.7" r="7.5"/><circle cx="761.4" cy="539.8" r="7.5"/><circle cx="731" cy="553.2" r="7.5"/><circle cx="727.4" cy="557.7" r="7.5"/><circle cx="756" cy="556.8" r="7.5"/><circle cx="768.5" cy="563.9" r="7.5"/><circle cx="754.2" cy="572.9" r="7.5"/><circle cx="681.9" cy="551.4" r="7.5"/><circle cx="681.9" cy="558.6" r="7.5"/><circle cx="649.8" cy="555" r="7.5"/><circle cx="713.1" cy="576.4" r="7.5"/><circle cx="731" cy="578.2" r="7.5"/><circle cx="741.7" cy="578.2" r="7.5"/><circle cx="632.8" cy="571.8" r="7.5"/><circle cx="652.4" cy="604.8" r="7.5"/><circle cx="592.1" cy="653.6" r="7.5"/><circle cx="615.8" cy="653.6" r="7.5"/><circle cx="753.3" cy="633.8" r="7.5"/><circle cx="710.1" cy="675.7" r="7.5"/><circle cx="712.8" cy="582.9" r="7.5"/><circle cx="745.3" cy="585.5" r="7.5"/></g>
<path d="M339.0 348.3L353.3 367.6L367.5 385.9L381.8 403.2L396.0 419.5L410.3 434.9L424.5 449.3L438.8 462.7L453.1 475.1L467.3 486.6L481.6 497.0L495.8 506.5L510.1 515.0L524.4 522.6L538.6 529.1L552.9 534.7L567.1 539.3L581.4 543.0L595.6 545.6L609.9 547.3L624.2 548.0L638.4 547.7L652.7 546.6L666.9 544.5L681.2 541.6L695.4 537.7L709.7 533.0L724.0 527.4L738.2 520.9L752.5 513.4L766.7 505.1L781.0 495.9L795.2 485.8L809.5 474.8L823.8 462.9L838.0 450.1L852.3 436.5L866.5 421.9L880.8 406.4L895.0 390.0L909.3 372.8L909.3 402.7L895.0 417.1L880.8 430.8L866.5 443.7L852.3 455.9L838.0 467.3L823.8 478.0L809.5 487.9L795.2 497.1L781.0 505.5L766.7 513.2L752.5 520.2L738.2 526.4L724.0 531.8L709.7 536.5L695.4 540.5L681.2 543.7L666.9 546.1L652.7 547.9L638.4 548.8L624.2 549.0L609.9 548.6L595.6 547.4L581.4 545.6L567.1 543.1L552.9 540.0L538.6 536.2L524.4 531.8L510.1 526.6L495.8 520.8L481.6 514.4L467.3 507.2L453.1 499.5L438.8 491.0L424.5 481.9L410.3 472.1L396.0 461.6L381.8 450.5L367.5 438.7L353.3 426.3L339.0 413.2Z" class="cib"/>
<path d="M339.0 380.8L353.3 396.9L367.5 412.3L381.8 426.9L396.0 440.6L410.3 453.5L424.5 465.6L438.8 476.8L453.1 487.3L467.3 496.9L481.6 505.7L495.8 513.7L510.1 520.8L524.4 527.2L538.6 532.7L552.9 537.4L567.1 541.2L581.4 544.3L595.6 546.5L609.9 547.9L624.2 548.5L638.4 548.3L652.7 547.2L666.9 545.3L681.2 542.6L695.4 539.1L709.7 534.8L724.0 529.6L738.2 523.6L752.5 516.8L766.7 509.2L781.0 500.7L795.2 491.5L809.5 481.4L823.8 470.4L838.0 458.7L852.3 446.2L866.5 432.8L880.8 418.6L895.0 403.6L909.3 387.7" class="cvb"/>
<path d="M174.6 27H983.5" class="ax1"/>
<path d="M983.5 27V822.4" class="ax2"/>
<path d="M174.6 805.4H983.5" class="ax2"/>
<path d="M192.1 27V822.4" class="ax0"/>
<path d="M174.6 675.7H192.1M174.6 545.9H192.1M174.6 416.2H192.1M174.6 286.5H192.1M174.6 156.7H192.1" class="ax0"/>
<path d="M389.9 805.4V822.4M587.8 805.4V822.4M785.6 805.4V822.4" class="ax0"/>
<text transform="translate(141.9 819.7) scale(1.070 1)" class="t">0</text>
<text transform="translate(142.1 690.0) scale(1.060 1)" class="t">5</text>
<text transform="translate(126.2 560.2) scale(1.000 1)" class="t">1<tspan dx="-3.2">0</tspan></text>
<text transform="translate(129.7 430.5) scale(0.900 1)" class="t">1<tspan dx="-3.2">5</tspan></text>
<text transform="translate(121.3 300.8) scale(1.050 1)" class="t">20</text>
<text transform="translate(121.3 171.0) scale(1.050 1)" class="t">25</text>
<text transform="translate(121.3 41.3) scale(1.050 1)" class="t">30</text>
<text transform="translate(149.8 864.6) scale(0.940 1)" class="t">80<tspan font-size="41" dy="4.8" dx="1.2">°</tspan><tspan dy="-4.8"> S</tspan></text>
<text transform="translate(348.3 864.6) scale(0.939 1)" class="t">40<tspan font-size="41" dy="4.8" dx="1.2">°</tspan><tspan dy="-4.8"> S</tspan></text>
<text transform="translate(571.3 864.6) scale(0.988 1)" class="t">0<tspan font-size="41" dy="4.8" dx="1.2">°</tspan></text>
<text transform="translate(740.5 864.6) scale(1.008 1)" class="t">40<tspan font-size="41" dy="4.8" dx="1.2">°</tspan><tspan dy="-4.8"> N</tspan></text>
<text transform="translate(939.5 864.6) scale(1.009 1)" class="t">80<tspan font-size="41" dy="4.8" dx="1.2">°</tspan><tspan dy="-4.8"> N</tspan></text>
<text transform="translate(526.6 921.0) scale(0.974 1)" class="t">Latitude</text>
<text transform="translate(78.4 595.1) rotate(-90) scale(0.969 1)" class="t">Warming tolerance (<tspan font-size="41" dy="4.8" dx="1.2">°</tspan><tspan dy="-4.8">C)</tspan></text>
<path d="M273.8 96.0C274.0 96.8 274.5 97.3 275.0 100.3C275.4 103.3 275.9 109.3 276.5 113.8C277.1 118.4 277.7 123.5 278.5 127.4C279.2 131.3 280.0 133.8 281.0 137.1C281.9 140.3 283.0 143.5 284.3 146.7C285.6 150.0 287.0 153.5 288.7 156.4C290.4 159.3 292.8 161.9 294.5 164.1C296.2 166.4 297.8 168.0 299.0 169.9C300.1 171.9 301.2 173.8 301.3 175.7C301.4 177.7 300.8 179.3 299.4 181.6C297.9 183.8 295.0 186.7 292.6 189.3C290.2 191.9 287.1 194.5 284.8 197.0C282.6 199.6 280.3 202.6 279.0 204.8C277.7 207.0 277.4 209.3 277.1 210.2L267.4 210.2C267.1 209.3 266.8 207.0 265.5 204.8C264.2 202.6 261.9 199.6 259.7 197.0C257.4 194.5 254.4 191.9 252.0 189.3C249.5 186.7 246.6 183.8 245.2 181.6C243.7 179.3 243.2 177.7 243.2 175.7C243.3 173.8 244.4 171.9 245.6 169.9C246.7 168.0 248.3 166.4 250.0 164.1C251.7 161.9 254.1 159.3 255.8 156.4C257.5 153.5 259.0 150.0 260.3 146.7C261.6 143.5 262.6 140.3 263.6 137.1C264.5 133.8 265.3 131.3 266.1 127.4C266.8 123.5 267.4 118.4 268.0 113.8C268.6 109.3 269.1 103.3 269.6 100.3C270.0 97.3 270.5 96.8 270.7 96.0Z" fill="#6a9ccb" stroke="#000" stroke-width="2.4" stroke-linejoin="round"/>
<path d="M272.3 110.0V208.6" stroke="#000" stroke-width="2.3" stroke-linecap="round"/>
<path d="M272.3 153.5V162.2" stroke="#000" stroke-width="3.6"/>
<circle cx="272.3" cy="173.8" r="10.6" fill="#fff"/>
<path d="M343.9 77.7C343.9 81.1 343.9 93.3 344.0 98.4C344.2 103.4 344.3 104.8 344.8 108.0C345.3 111.3 346.2 114.5 347.1 117.7C348.1 120.9 349.3 124.2 350.6 127.4C352.0 130.6 353.6 133.8 355.3 137.1C356.9 140.3 358.9 143.5 360.7 146.7C362.5 150.0 364.5 153.2 366.1 156.4C367.6 159.6 368.9 162.9 370.0 166.1C371.0 169.3 372.2 172.5 372.3 175.7C372.4 179.0 371.5 182.2 370.4 185.4C369.2 188.6 367.4 191.9 365.5 195.1C363.6 198.3 361.0 201.5 358.7 204.8C356.5 208.0 354.1 211.2 352.0 214.4C349.9 217.7 347.3 221.9 346.2 224.1C345.0 226.3 345.4 227.0 345.2 227.6L341.3 227.6C341.2 227.0 341.5 226.3 340.4 224.1C339.2 221.9 336.7 217.7 334.6 214.4C332.5 211.2 330.0 208.0 327.8 204.8C325.5 201.5 323.0 198.3 321.0 195.1C319.1 191.9 317.3 188.6 316.2 185.4C315.1 182.2 314.2 179.0 314.2 175.7C314.3 172.5 315.5 169.3 316.6 166.1C317.6 162.9 318.9 159.6 320.4 156.4C322.0 153.2 324.1 150.0 325.9 146.7C327.7 143.5 329.6 140.3 331.3 137.1C332.9 133.8 334.6 130.6 335.9 127.4C337.3 124.2 338.4 120.9 339.4 117.7C340.4 114.5 341.2 111.3 341.7 108.0C342.2 104.8 342.3 103.4 342.5 98.4C342.6 93.3 342.6 81.1 342.6 77.7Z" fill="#6a9ccb" stroke="#000" stroke-width="2.4" stroke-linejoin="round"/>
<path d="M343.3 139.0V208.6" stroke="#000" stroke-width="2.3" stroke-linecap="round"/>
<circle cx="343.3" cy="177.7" r="10.6" fill="#fff"/>
<path d="M430.5 140.9C431.3 141.6 433.7 143.2 435.4 144.8C437.0 146.4 439.1 148.3 440.2 150.6C441.3 152.9 441.7 155.8 442.1 158.3C442.5 160.9 442.5 163.2 442.7 166.1C442.9 169.0 443.4 173.2 443.1 175.7C442.8 178.3 442.4 179.3 441.2 181.6C439.9 183.8 437.5 186.7 435.4 189.3C433.3 191.9 430.2 195.0 428.6 197.0C427.0 199.1 426.2 200.7 425.7 201.5L402.5 201.5C402.0 200.7 401.2 199.1 399.6 197.0C398.0 195.0 394.9 191.9 392.8 189.3C390.7 186.7 388.3 183.8 387.0 181.6C385.7 179.3 385.3 178.3 385.1 175.7C384.8 173.2 385.3 169.0 385.4 166.1C385.6 163.2 385.6 160.9 386.0 158.3C386.4 155.8 386.8 152.9 388.0 150.6C389.1 148.3 391.2 146.4 392.8 144.8C394.4 143.2 396.8 141.6 397.6 140.9Z" fill="#6a9ccb" stroke="#000" stroke-width="2.4" stroke-linejoin="round"/>
<path d="M414.1 140.9V200.9" stroke="#000" stroke-width="2.3" stroke-linecap="round"/>
<path d="M414.1 150.6V162.2" stroke="#000" stroke-width="3.6"/>
<circle cx="414.1" cy="173.4" r="10.6" fill="#fff"/>
<path d="M490.5 143.2C491.0 143.8 491.9 144.9 493.8 146.7C495.6 148.6 498.9 151.9 501.5 154.5C504.1 157.0 507.3 160.0 509.3 162.2C511.2 164.5 512.3 166.2 513.1 168.0C513.9 169.8 514.1 171.2 514.1 172.8C514.1 174.5 514.4 175.6 513.1 177.7C511.8 179.8 509.3 182.8 506.4 185.4C503.5 188.0 498.3 190.9 495.7 193.2C493.1 195.4 491.9 197.0 490.9 199.0C489.8 200.9 489.7 203.4 489.3 204.8C489.0 206.1 489.0 206.7 488.9 207.1L481.2 207.1C481.1 206.7 481.1 206.1 480.8 204.8C480.5 203.4 480.3 200.9 479.3 199.0C478.2 197.0 477.0 195.4 474.4 193.2C471.9 190.9 466.7 188.0 463.8 185.4C460.9 182.8 458.3 179.8 457.0 177.7C455.7 175.6 456.1 174.5 456.1 172.8C456.1 171.2 456.2 169.8 457.0 168.0C457.8 166.2 459.0 164.5 460.9 162.2C462.8 160.0 466.1 157.0 468.6 154.5C471.2 151.9 474.5 148.6 476.4 146.7C478.2 144.9 479.1 143.8 479.7 143.2Z" fill="#6a9ccb" stroke="#000" stroke-width="2.4" stroke-linejoin="round"/>
<path d="M485.1 143.2V207.1" stroke="#000" stroke-width="2.3" stroke-linecap="round"/>
<circle cx="485.1" cy="172.8" r="10.6" fill="#fff"/>
<path d="M568.6 148.7C569.3 149.3 570.9 150.6 572.5 152.5C574.1 154.5 576.5 157.7 578.3 160.3C580.1 162.9 582.0 165.4 583.2 168.0C584.3 170.6 585.3 173.2 585.1 175.7C584.9 178.3 583.6 180.9 582.2 183.5C580.7 186.1 578.3 188.6 576.4 191.2C574.5 193.8 572.2 196.4 570.6 199.0C569.0 201.5 567.6 204.8 566.7 206.7C565.8 208.6 565.6 209.6 565.4 210.2L546.8 210.2C546.6 209.6 546.3 208.6 545.4 206.7C544.6 204.8 543.2 201.5 541.6 199.0C540.0 196.4 537.7 193.8 535.8 191.2C533.8 188.6 531.4 186.1 530.0 183.5C528.5 180.9 527.2 178.3 527.1 175.7C526.9 173.2 527.9 170.6 529.0 168.0C530.1 165.4 532.1 162.9 533.8 160.3C535.6 157.7 538.0 154.5 539.6 152.5C541.2 150.6 542.9 149.3 543.5 148.7Z" fill="#6a9ccb" stroke="#000" stroke-width="2.4" stroke-linejoin="round"/>
<path d="M556.1 161.8V166.1" stroke="#000" stroke-width="2.3" stroke-linecap="round"/>
<path d="M556.1 187.4V194.1" stroke="#000" stroke-width="2.3" stroke-linecap="round"/>
<circle cx="556.1" cy="175.7" r="10.6" fill="#fff"/>
<path d="M271.8 280.7H556.3" class="ax3"/>
<path d="M608.5 68.5V280.5M608.5 280.5H614.8M608.5 227.5H614.8M608.5 174.5H614.8M608.5 121.5H614.8M608.5 68.5H614.8" class="ax3"/>
<text transform="translate(627.9 294.8) scale(1.070 1)" class="t">0</text>
<text transform="translate(626.9 241.8) scale(1.060 1)" class="t">5</text>
<text transform="translate(626.0 188.8) scale(1.000 1)" class="t">1<tspan dx="-3.2">0</tspan></text>
<text transform="translate(626.3 135.8) scale(0.900 1)" class="t">1<tspan dx="-3.2">5</tspan></text>
<text transform="translate(626.9 82.8) scale(1.050 1)" class="t">20</text>
<text transform="translate(246.8 334.3) scale(0.985 1)" class="t">DD</text>
<text transform="translate(323.7 334.3) scale(0.872 1)" class="t">LC</text>
<text transform="translate(390.4 334.3) scale(0.981 1)" class="t">NT</text>
<text transform="translate(462.2 334.3) scale(0.957 1)" class="t">VU</text>
<text transform="translate(533.4 334.3) scale(0.895 1)" class="t">EN</text>
<text transform="translate(688.3 155.1) rotate(90) scale(0.92 1.1)" class="t"><tspan font-size="41" dy="4.8" dx="1.2">°</tspan><tspan dy="-4.8">C</tspan></text>
</g>
<g transform="translate(0 975.4)">
<text transform="translate(1.8 37.0) scale(0.953 1)" class="pl">c</text>
<g class="lr"><circle cx="489.1" cy="570.5" r="7.5"/><circle cx="481.4" cy="550.8" r="7.5"/><circle cx="488" cy="544.2" r="7.5"/><circle cx="515.5" cy="553.9" r="7.5"/><circle cx="499.4" cy="547.4" r="7.5"/><circle cx="487.6" cy="548.9" r="7.5"/><circle cx="476.6" cy="535.2" r="7.5"/><circle cx="485.8" cy="536.3" r="7.5"/><circle cx="507.4" cy="555.1" r="7.5"/><circle cx="482.4" cy="575.7" r="7.5"/><circle cx="518" cy="551.2" r="7.5"/><circle cx="513.6" cy="533" r="7.5"/><circle cx="486.8" cy="546.9" r="7.5"/><circle cx="477" cy="539.1" r="7.5"/><circle cx="517.7" cy="532.3" r="7.5"/><circle cx="470.9" cy="566.8" r="7.5"/><circle cx="509.6" cy="566.5" r="7.5"/><circle cx="473.3" cy="572.4" r="7.5"/><circle cx="485.4" cy="559.7" r="7.5"/><circle cx="508" cy="574" r="7.5"/><circle cx="481.8" cy="545.9" r="7.5"/><circle cx="486.6" cy="531.9" r="7.5"/><circle cx="475.6" cy="536.7" r="7.5"/><circle cx="506" cy="550.6" r="7.5"/><circle cx="473.9" cy="572.4" r="7.5"/><circle cx="477.9" cy="571.3" r="7.5"/><circle cx="496.8" cy="533.4" r="7.5"/><circle cx="510.9" cy="553" r="7.5"/><circle cx="478.3" cy="571" r="7.5"/><circle cx="498.1" cy="574" r="7.5"/><circle cx="538.3" cy="552.3" r="7.5"/><circle cx="539" cy="583.8" r="7.5"/><circle cx="562.1" cy="534.7" r="7.5"/><circle cx="538.3" cy="571.7" r="7.5"/><circle cx="550.9" cy="563" r="7.5"/><circle cx="561.8" cy="564" r="7.5"/><circle cx="558.6" cy="564.7" r="7.5"/><circle cx="533.2" cy="568.5" r="7.5"/><circle cx="540.2" cy="552.4" r="7.5"/><circle cx="543.4" cy="529" r="7.5"/><circle cx="557.5" cy="542.3" r="7.5"/><circle cx="531.3" cy="549.4" r="7.5"/><circle cx="551.1" cy="565.9" r="7.5"/><circle cx="552.1" cy="536.9" r="7.5"/><circle cx="551.5" cy="569" r="7.5"/><circle cx="562.4" cy="561" r="7.5"/><circle cx="552.9" cy="554.9" r="7.5"/><circle cx="551.4" cy="569.3" r="7.5"/><circle cx="551.1" cy="536.2" r="7.5"/><circle cx="530" cy="552.9" r="7.5"/><circle cx="538.3" cy="576.3" r="7.5"/><circle cx="518.6" cy="562.2" r="7.5"/><circle cx="555.5" cy="563.5" r="7.5"/><circle cx="540.5" cy="563.4" r="7.5"/><circle cx="555.1" cy="561.5" r="7.5"/><circle cx="549.2" cy="545" r="7.5"/><circle cx="556.6" cy="593.8" r="7.5"/><circle cx="523.8" cy="566.2" r="7.5"/><circle cx="566.1" cy="570.4" r="7.5"/><circle cx="546.1" cy="539.2" r="7.5"/><circle cx="533.2" cy="530.4" r="7.5"/><circle cx="557.8" cy="579.3" r="7.5"/><circle cx="541.3" cy="592.3" r="7.5"/><circle cx="540.6" cy="538.6" r="7.5"/><circle cx="539.2" cy="556" r="7.5"/><circle cx="530.9" cy="567.9" r="7.5"/><circle cx="562.6" cy="552.8" r="7.5"/><circle cx="564.9" cy="546.1" r="7.5"/><circle cx="562.5" cy="576.2" r="7.5"/><circle cx="522.2" cy="574" r="7.5"/><circle cx="519.3" cy="568.8" r="7.5"/><circle cx="535.2" cy="548.9" r="7.5"/><circle cx="544.9" cy="552.5" r="7.5"/><circle cx="539" cy="571.7" r="7.5"/><circle cx="520.9" cy="587.3" r="7.5"/><circle cx="529.9" cy="565.1" r="7.5"/><circle cx="540.3" cy="556.8" r="7.5"/><circle cx="558.4" cy="591" r="7.5"/><circle cx="532.2" cy="564.6" r="7.5"/><circle cx="528.4" cy="550.7" r="7.5"/><circle cx="550.8" cy="565.8" r="7.5"/><circle cx="552.1" cy="538.7" r="7.5"/><circle cx="526" cy="567.9" r="7.5"/><circle cx="550.5" cy="559.9" r="7.5"/><circle cx="554" cy="545.9" r="7.5"/><circle cx="548.8" cy="586.7" r="7.5"/><circle cx="535.5" cy="569.3" r="7.5"/><circle cx="527.4" cy="577.8" r="7.5"/><circle cx="566.4" cy="572.2" r="7.5"/><circle cx="537.2" cy="570.7" r="7.5"/><circle cx="628.9" cy="586.7" r="7.5"/><circle cx="628.7" cy="569.5" r="7.5"/><circle cx="630.9" cy="522.2" r="7.5"/><circle cx="627" cy="586.2" r="7.5"/><circle cx="562.2" cy="585.5" r="7.5"/><circle cx="572.3" cy="515.3" r="7.5"/><circle cx="630.2" cy="602.8" r="7.5"/><circle cx="596.2" cy="602.4" r="7.5"/><circle cx="612.1" cy="588.4" r="7.5"/><circle cx="587.2" cy="575.2" r="7.5"/><circle cx="630.6" cy="556.8" r="7.5"/><circle cx="619.9" cy="574.1" r="7.5"/><circle cx="583.8" cy="572.2" r="7.5"/><circle cx="638.4" cy="582.1" r="7.5"/><circle cx="646.4" cy="575.4" r="7.5"/><circle cx="572.7" cy="566.6" r="7.5"/><circle cx="608.5" cy="614.6" r="7.5"/><circle cx="638.3" cy="599.1" r="7.5"/><circle cx="646.2" cy="577" r="7.5"/><circle cx="596.5" cy="588.7" r="7.5"/><circle cx="602.9" cy="509.8" r="7.5"/><circle cx="564.7" cy="571.1" r="7.5"/><circle cx="569.9" cy="566.2" r="7.5"/><circle cx="602.8" cy="578.8" r="7.5"/><circle cx="576.7" cy="548.6" r="7.5"/><circle cx="576.1" cy="570.7" r="7.5"/><circle cx="623.8" cy="561.1" r="7.5"/><circle cx="581" cy="546.5" r="7.5"/><circle cx="603" cy="540.9" r="7.5"/><circle cx="579" cy="553.5" r="7.5"/><circle cx="595.6" cy="591.8" r="7.5"/><circle cx="580.4" cy="560.4" r="7.5"/><circle cx="575" cy="577.7" r="7.5"/><circle cx="561.5" cy="613.3" r="7.5"/><circle cx="562.6" cy="594" r="7.5"/><circle cx="640.3" cy="577.1" r="7.5"/><circle cx="584.4" cy="576.7" r="7.5"/><circle cx="588.8" cy="601.1" r="7.5"/><circle cx="581.3" cy="542" r="7.5"/><circle cx="560.5" cy="576.7" r="7.5"/><circle cx="632.4" cy="583" r="7.5"/><circle cx="586.4" cy="572.1" r="7.5"/><circle cx="627.5" cy="616.7" r="7.5"/><circle cx="577.9" cy="542.9" r="7.5"/><circle cx="564.4" cy="621.8" r="7.5"/><circle cx="596.9" cy="525.3" r="7.5"/><circle cx="591" cy="548" r="7.5"/><circle cx="626.5" cy="556.3" r="7.5"/><circle cx="621.5" cy="561.6" r="7.5"/><circle cx="579.8" cy="557.3" r="7.5"/><circle cx="587.2" cy="568" r="7.5"/><circle cx="613.4" cy="586.3" r="7.5"/><circle cx="597.7" cy="581.6" r="7.5"/><circle cx="565" cy="559.1" r="7.5"/><circle cx="583.3" cy="525.2" r="7.5"/><circle cx="620.8" cy="544.6" r="7.5"/><circle cx="586.7" cy="529.2" r="7.5"/><circle cx="605.7" cy="568.1" r="7.5"/><circle cx="583.6" cy="576.5" r="7.5"/><circle cx="640.5" cy="570.2" r="7.5"/><circle cx="646.8" cy="622.4" r="7.5"/><circle cx="608.3" cy="535.8" r="7.5"/><circle cx="575.2" cy="533" r="7.5"/><circle cx="609.6" cy="578" r="7.5"/><circle cx="577.5" cy="525.5" r="7.5"/><circle cx="559.3" cy="543.8" r="7.5"/><circle cx="583.7" cy="525.8" r="7.5"/><circle cx="619.6" cy="522.9" r="7.5"/><circle cx="567.4" cy="529.7" r="7.5"/><circle cx="592.5" cy="606.2" r="7.5"/><circle cx="605" cy="551.9" r="7.5"/><circle cx="572.2" cy="604.2" r="7.5"/><circle cx="624.8" cy="561.8" r="7.5"/><circle cx="592.9" cy="536.4" r="7.5"/><circle cx="577.5" cy="519" r="7.5"/><circle cx="585.4" cy="569.9" r="7.5"/><circle cx="614.6" cy="591.1" r="7.5"/><circle cx="587.4" cy="589.7" r="7.5"/><circle cx="612.8" cy="587.1" r="7.5"/><circle cx="607.6" cy="544.6" r="7.5"/><circle cx="588.2" cy="555.2" r="7.5"/><circle cx="628.8" cy="622.8" r="7.5"/><circle cx="598.9" cy="611.6" r="7.5"/><circle cx="641.2" cy="562" r="7.5"/><circle cx="568.3" cy="539.3" r="7.5"/><circle cx="573.5" cy="554.5" r="7.5"/><circle cx="566" cy="620.4" r="7.5"/><circle cx="632.7" cy="589.6" r="7.5"/><circle cx="561.9" cy="573" r="7.5"/><circle cx="606.4" cy="585.5" r="7.5"/><circle cx="562" cy="551.9" r="7.5"/><circle cx="642.1" cy="519.1" r="7.5"/><circle cx="630.3" cy="552.2" r="7.5"/><circle cx="622.1" cy="531.6" r="7.5"/><circle cx="607.7" cy="531" r="7.5"/><circle cx="605.7" cy="590" r="7.5"/><circle cx="588.8" cy="618.1" r="7.5"/><circle cx="605.7" cy="534.7" r="7.5"/><circle cx="632.4" cy="597.7" r="7.5"/><circle cx="643.2" cy="540.8" r="7.5"/><circle cx="584.4" cy="566" r="7.5"/><circle cx="575.8" cy="608.2" r="7.5"/><circle cx="566.4" cy="550.6" r="7.5"/><circle cx="606.6" cy="565.8" r="7.5"/><circle cx="640.2" cy="555.6" r="7.5"/><circle cx="645.5" cy="603.1" r="7.5"/><circle cx="618.8" cy="548.8" r="7.5"/><circle cx="586" cy="606.5" r="7.5"/><circle cx="617.3" cy="552.8" r="7.5"/><circle cx="594.4" cy="579.4" r="7.5"/><circle cx="645.5" cy="560.5" r="7.5"/><circle cx="617" cy="522.3" r="7.5"/><circle cx="606.9" cy="586.8" r="7.5"/><circle cx="594.7" cy="578.1" r="7.5"/><circle cx="596.8" cy="552.9" r="7.5"/><circle cx="588.9" cy="558.9" r="7.5"/><circle cx="616.1" cy="579.1" r="7.5"/><circle cx="627.5" cy="559.5" r="7.5"/><circle cx="630.3" cy="602.5" r="7.5"/><circle cx="643.3" cy="511.1" r="7.5"/><circle cx="589.8" cy="522" r="7.5"/><circle cx="563.9" cy="532.3" r="7.5"/><circle cx="641.1" cy="560.8" r="7.5"/><circle cx="626" cy="553.3" r="7.5"/><circle cx="577.4" cy="612.5" r="7.5"/><circle cx="645.8" cy="546.8" r="7.5"/><circle cx="644.5" cy="537.7" r="7.5"/><circle cx="583.8" cy="543.1" r="7.5"/><circle cx="622.4" cy="623.4" r="7.5"/><circle cx="561" cy="588.9" r="7.5"/><circle cx="591.2" cy="534.1" r="7.5"/><circle cx="583.4" cy="551.8" r="7.5"/><circle cx="619.7" cy="606.4" r="7.5"/><circle cx="631.4" cy="583.1" r="7.5"/><circle cx="595.1" cy="575.8" r="7.5"/><circle cx="580.7" cy="552.4" r="7.5"/><circle cx="594.8" cy="507.7" r="7.5"/><circle cx="585.1" cy="618.3" r="7.5"/><circle cx="645" cy="570.8" r="7.5"/><circle cx="638.6" cy="530" r="7.5"/><circle cx="559.7" cy="582.2" r="7.5"/><circle cx="580.9" cy="579.5" r="7.5"/><circle cx="636.8" cy="595.3" r="7.5"/><circle cx="572" cy="582.8" r="7.5"/><circle cx="632.9" cy="544.2" r="7.5"/><circle cx="573.9" cy="550.7" r="7.5"/><circle cx="562.4" cy="562.5" r="7.5"/><circle cx="571.8" cy="556.2" r="7.5"/><circle cx="568.6" cy="524.8" r="7.5"/><circle cx="627" cy="575.4" r="7.5"/><circle cx="577.3" cy="611" r="7.5"/><circle cx="614.1" cy="552" r="7.5"/><circle cx="572.1" cy="588.4" r="7.5"/><circle cx="643" cy="596.2" r="7.5"/><circle cx="622.6" cy="594.3" r="7.5"/><circle cx="577.3" cy="540.9" r="7.5"/><circle cx="603.1" cy="528.8" r="7.5"/><circle cx="646.5" cy="548" r="7.5"/><circle cx="596.8" cy="551.9" r="7.5"/><circle cx="613.6" cy="584.6" r="7.5"/><circle cx="619.7" cy="590.4" r="7.5"/><circle cx="597.7" cy="574.8" r="7.5"/><circle cx="601.5" cy="558.5" r="7.5"/><circle cx="612.8" cy="550.3" r="7.5"/><circle cx="644" cy="544.5" r="7.5"/><circle cx="568.9" cy="574.7" r="7.5"/><circle cx="637.2" cy="605.7" r="7.5"/><circle cx="575.5" cy="566.7" r="7.5"/><circle cx="639.1" cy="568.5" r="7.5"/><circle cx="625.3" cy="567.9" r="7.5"/><circle cx="610.5" cy="557.8" r="7.5"/><circle cx="626.8" cy="591.6" r="7.5"/><circle cx="645" cy="521.5" r="7.5"/><circle cx="561.6" cy="577.7" r="7.5"/><circle cx="576.5" cy="596.4" r="7.5"/><circle cx="599.2" cy="547.7" r="7.5"/><circle cx="589" cy="557.7" r="7.5"/><circle cx="559.7" cy="590.4" r="7.5"/><circle cx="643.2" cy="519.5" r="7.5"/><circle cx="577.1" cy="517.6" r="7.5"/><circle cx="583.3" cy="555.2" r="7.5"/><circle cx="574.7" cy="566" r="7.5"/><circle cx="585" cy="548.5" r="7.5"/><circle cx="559.4" cy="593.8" r="7.5"/><circle cx="566.2" cy="564" r="7.5"/><circle cx="642.9" cy="527.1" r="7.5"/><circle cx="619.6" cy="571.1" r="7.5"/><circle cx="591.3" cy="585.1" r="7.5"/><circle cx="582.1" cy="562.7" r="7.5"/><circle cx="642.6" cy="547.3" r="7.5"/><circle cx="611.8" cy="595.4" r="7.5"/><circle cx="639.3" cy="590" r="7.5"/><circle cx="601" cy="537.4" r="7.5"/><circle cx="568" cy="584.8" r="7.5"/><circle cx="577.8" cy="561.5" r="7.5"/><circle cx="607.4" cy="554.3" r="7.5"/><circle cx="633.1" cy="607.3" r="7.5"/><circle cx="575.1" cy="566.5" r="7.5"/><circle cx="574" cy="538.2" r="7.5"/><circle cx="636.1" cy="623.7" r="7.5"/><circle cx="561.1" cy="538.3" r="7.5"/><circle cx="563.4" cy="589" r="7.5"/><circle cx="581.2" cy="594.5" r="7.5"/><circle cx="580.2" cy="595" r="7.5"/><circle cx="611.4" cy="567.7" r="7.5"/><circle cx="614.8" cy="566.5" r="7.5"/><circle cx="592.4" cy="581.9" r="7.5"/><circle cx="645.2" cy="567.2" r="7.5"/><circle cx="596.2" cy="579.7" r="7.5"/><circle cx="643.9" cy="546.5" r="7.5"/><circle cx="578.3" cy="549.8" r="7.5"/><circle cx="621.8" cy="514" r="7.5"/><circle cx="628" cy="581.7" r="7.5"/><circle cx="622" cy="556.5" r="7.5"/><circle cx="582.3" cy="575.2" r="7.5"/><circle cx="565.9" cy="622.5" r="7.5"/><circle cx="564.8" cy="579" r="7.5"/><circle cx="640.1" cy="528.4" r="7.5"/><circle cx="627.5" cy="594.1" r="7.5"/><circle cx="562.3" cy="605.6" r="7.5"/><circle cx="673.9" cy="552.7" r="7.5"/><circle cx="691.8" cy="571.3" r="7.5"/><circle cx="640.6" cy="604.1" r="7.5"/><circle cx="678" cy="571.2" r="7.5"/><circle cx="685.7" cy="571" r="7.5"/><circle cx="670.2" cy="614.3" r="7.5"/><circle cx="675.3" cy="576.9" r="7.5"/><circle cx="653.2" cy="593.3" r="7.5"/><circle cx="643.4" cy="523.6" r="7.5"/><circle cx="643.6" cy="564.8" r="7.5"/><circle cx="698" cy="556.6" r="7.5"/><circle cx="672.1" cy="555.7" r="7.5"/><circle cx="696.1" cy="540" r="7.5"/><circle cx="647.5" cy="524.8" r="7.5"/><circle cx="679.8" cy="528.4" r="7.5"/><circle cx="696.7" cy="545.4" r="7.5"/><circle cx="645.9" cy="569.1" r="7.5"/><circle cx="688.1" cy="604.7" r="7.5"/><circle cx="706.5" cy="586.5" r="7.5"/><circle cx="697.4" cy="610.6" r="7.5"/><circle cx="667.7" cy="536.5" r="7.5"/><circle cx="684.6" cy="612.9" r="7.5"/><circle cx="677.6" cy="606" r="7.5"/><circle cx="649.5" cy="561.6" r="7.5"/><circle cx="704.7" cy="551.4" r="7.5"/><circle cx="690.6" cy="599.8" r="7.5"/><circle cx="654.8" cy="592.6" r="7.5"/><circle cx="701.1" cy="579.8" r="7.5"/><circle cx="659.3" cy="557.3" r="7.5"/><circle cx="708.5" cy="579" r="7.5"/><circle cx="696.7" cy="581.1" r="7.5"/><circle cx="704.5" cy="572.2" r="7.5"/><circle cx="696.9" cy="575.6" r="7.5"/><circle cx="644.4" cy="575.1" r="7.5"/><circle cx="682.6" cy="595.9" r="7.5"/><circle cx="649.6" cy="597" r="7.5"/><circle cx="675.4" cy="566.9" r="7.5"/><circle cx="689.9" cy="548.9" r="7.5"/><circle cx="683.5" cy="568.9" r="7.5"/><circle cx="637.5" cy="589.4" r="7.5"/><circle cx="683.8" cy="586.4" r="7.5"/><circle cx="645.4" cy="550.1" r="7.5"/><circle cx="646.7" cy="604.8" r="7.5"/><circle cx="659.8" cy="547.8" r="7.5"/><circle cx="682.1" cy="563.4" r="7.5"/><circle cx="667.6" cy="539" r="7.5"/><circle cx="709.6" cy="575.4" r="7.5"/><circle cx="683.9" cy="613" r="7.5"/><circle cx="671.8" cy="579.3" r="7.5"/><circle cx="671.1" cy="604.8" r="7.5"/><circle cx="707.7" cy="532.7" r="7.5"/><circle cx="648.7" cy="524.2" r="7.5"/><circle cx="642.7" cy="596.8" r="7.5"/><circle cx="653" cy="551.9" r="7.5"/><circle cx="683.7" cy="539.4" r="7.5"/><circle cx="695.2" cy="557.8" r="7.5"/><circle cx="648.5" cy="586.2" r="7.5"/><circle cx="666.8" cy="601.8" r="7.5"/><circle cx="678" cy="585.2" r="7.5"/><circle cx="679.5" cy="550.2" r="7.5"/><circle cx="679.3" cy="532.9" r="7.5"/><circle cx="672.2" cy="552.9" r="7.5"/><circle cx="638.7" cy="600.7" r="7.5"/><circle cx="688.6" cy="580" r="7.5"/><circle cx="662" cy="536" r="7.5"/><circle cx="689.4" cy="552.5" r="7.5"/><circle cx="682.6" cy="555.3" r="7.5"/><circle cx="669.9" cy="556.7" r="7.5"/><circle cx="696.3" cy="609.5" r="7.5"/><circle cx="662.7" cy="605.6" r="7.5"/><circle cx="674.7" cy="564.3" r="7.5"/><circle cx="668.2" cy="537.8" r="7.5"/><circle cx="711.1" cy="578.1" r="7.5"/><circle cx="713.9" cy="567.2" r="7.5"/><circle cx="709" cy="561.1" r="7.5"/><circle cx="673.9" cy="534" r="7.5"/><circle cx="674.7" cy="602.4" r="7.5"/><circle cx="687.4" cy="597.8" r="7.5"/><circle cx="658.6" cy="565.7" r="7.5"/><circle cx="695.1" cy="591.3" r="7.5"/><circle cx="644.2" cy="584.4" r="7.5"/><circle cx="693.9" cy="593.6" r="7.5"/><circle cx="676.8" cy="559.5" r="7.5"/><circle cx="708.4" cy="511.5" r="7.5"/><circle cx="641.9" cy="574" r="7.5"/><circle cx="701.7" cy="559.1" r="7.5"/><circle cx="648.1" cy="605.1" r="7.5"/><circle cx="664.7" cy="557.9" r="7.5"/><circle cx="682.1" cy="572.2" r="7.5"/><circle cx="676.8" cy="547.9" r="7.5"/><circle cx="641.4" cy="568.3" r="7.5"/><circle cx="647.4" cy="580.9" r="7.5"/><circle cx="647.8" cy="578" r="7.5"/><circle cx="671.7" cy="532" r="7.5"/><circle cx="694.2" cy="526.6" r="7.5"/><circle cx="698" cy="590.5" r="7.5"/><circle cx="650.3" cy="529.7" r="7.5"/><circle cx="701.3" cy="572.5" r="7.5"/><circle cx="663.1" cy="520.1" r="7.5"/><circle cx="649" cy="585.1" r="7.5"/><circle cx="659.9" cy="560.5" r="7.5"/><circle cx="671.8" cy="592.5" r="7.5"/><circle cx="708.8" cy="592.1" r="7.5"/><circle cx="648" cy="530.4" r="7.5"/><circle cx="663" cy="545.8" r="7.5"/><circle cx="671.3" cy="566.5" r="7.5"/><circle cx="683.9" cy="588.5" r="7.5"/><circle cx="688.1" cy="580.5" r="7.5"/><circle cx="716.4" cy="562.5" r="7.5"/><circle cx="684.8" cy="616.9" r="7.5"/><circle cx="706.6" cy="581.7" r="7.5"/><circle cx="654.4" cy="549.3" r="7.5"/><circle cx="667.6" cy="590.6" r="7.5"/><circle cx="685.1" cy="563.5" r="7.5"/><circle cx="705.9" cy="593.8" r="7.5"/><circle cx="664.1" cy="599.5" r="7.5"/><circle cx="661.3" cy="615.9" r="7.5"/><circle cx="641.3" cy="554.2" r="7.5"/><circle cx="664.1" cy="567.7" r="7.5"/><circle cx="693.7" cy="559.6" r="7.5"/><circle cx="683.5" cy="585.4" r="7.5"/><circle cx="639.6" cy="587.8" r="7.5"/><circle cx="666.6" cy="550.5" r="7.5"/><circle cx="656.9" cy="562.4" r="7.5"/><circle cx="690.1" cy="569.5" r="7.5"/><circle cx="712.4" cy="624" r="7.5"/><circle cx="685.5" cy="538.1" r="7.5"/><circle cx="689.7" cy="585.8" r="7.5"/><circle cx="713.8" cy="537.3" r="7.5"/><circle cx="657" cy="567.9" r="7.5"/><circle cx="647.2" cy="578.2" r="7.5"/><circle cx="667.6" cy="567.3" r="7.5"/><circle cx="676.1" cy="536.6" r="7.5"/><circle cx="678.4" cy="543.6" r="7.5"/><circle cx="680.9" cy="572.1" r="7.5"/><circle cx="710.5" cy="564.4" r="7.5"/><circle cx="658.2" cy="579.9" r="7.5"/><circle cx="661.4" cy="606.4" r="7.5"/><circle cx="644.9" cy="568.9" r="7.5"/><circle cx="690.5" cy="590.6" r="7.5"/><circle cx="703.9" cy="611.1" r="7.5"/><circle cx="644.9" cy="573.9" r="7.5"/><circle cx="641.5" cy="560.6" r="7.5"/><circle cx="691.4" cy="590.7" r="7.5"/><circle cx="641.9" cy="585.8" r="7.5"/><circle cx="661.6" cy="546.1" r="7.5"/><circle cx="663.5" cy="572.6" r="7.5"/><circle cx="646.8" cy="565.6" r="7.5"/><circle cx="681.1" cy="589.4" r="7.5"/><circle cx="681.1" cy="547.3" r="7.5"/><circle cx="693.7" cy="590.7" r="7.5"/><circle cx="702.7" cy="581.8" r="7.5"/><circle cx="664.1" cy="610.5" r="7.5"/><circle cx="666.1" cy="557" r="7.5"/><circle cx="707.6" cy="572.3" r="7.5"/><circle cx="667.6" cy="571" r="7.5"/><circle cx="669.2" cy="586.5" r="7.5"/><circle cx="676.8" cy="589.4" r="7.5"/><circle cx="665.3" cy="562" r="7.5"/><circle cx="674.1" cy="614" r="7.5"/><circle cx="674.7" cy="573.5" r="7.5"/><circle cx="710.8" cy="567.9" r="7.5"/><circle cx="657.9" cy="542.9" r="7.5"/><circle cx="715.5" cy="544.8" r="7.5"/><circle cx="650.7" cy="543.3" r="7.5"/><circle cx="646.5" cy="574.9" r="7.5"/><circle cx="637.3" cy="624.5" r="7.5"/><circle cx="670.9" cy="544.1" r="7.5"/><circle cx="689.4" cy="583.8" r="7.5"/><circle cx="672.1" cy="594.5" r="7.5"/><circle cx="797.5" cy="544.8" r="7.5"/><circle cx="706.6" cy="557.7" r="7.5"/><circle cx="711.8" cy="602.1" r="7.5"/><circle cx="713.7" cy="566.8" r="7.5"/><circle cx="776.3" cy="547.9" r="7.5"/><circle cx="801.4" cy="614.9" r="7.5"/><circle cx="708.3" cy="574.1" r="7.5"/><circle cx="745.5" cy="535.4" r="7.5"/><circle cx="755.1" cy="565.8" r="7.5"/><circle cx="756.2" cy="606.6" r="7.5"/><circle cx="794.1" cy="534.1" r="7.5"/><circle cx="804.1" cy="558.8" r="7.5"/><circle cx="813.6" cy="595.5" r="7.5"/><circle cx="724.9" cy="578.1" r="7.5"/><circle cx="791.5" cy="584.2" r="7.5"/><circle cx="807.7" cy="596" r="7.5"/><circle cx="764.2" cy="580.2" r="7.5"/><circle cx="707.6" cy="612.4" r="7.5"/><circle cx="737.6" cy="585.1" r="7.5"/><circle cx="721.3" cy="550.9" r="7.5"/><circle cx="809.6" cy="582.2" r="7.5"/><circle cx="736.9" cy="558.4" r="7.5"/><circle cx="708" cy="576.2" r="7.5"/><circle cx="783.4" cy="601.4" r="7.5"/><circle cx="806.2" cy="579" r="7.5"/><circle cx="727.1" cy="602.5" r="7.5"/><circle cx="751.4" cy="596" r="7.5"/><circle cx="744.6" cy="577.9" r="7.5"/><circle cx="731.3" cy="569.5" r="7.5"/><circle cx="749.3" cy="539.8" r="7.5"/><circle cx="805.1" cy="579.4" r="7.5"/><circle cx="763.6" cy="573.8" r="7.5"/><circle cx="711" cy="594.7" r="7.5"/><circle cx="741.1" cy="569" r="7.5"/><circle cx="729" cy="583.3" r="7.5"/><circle cx="712.5" cy="585.4" r="7.5"/><circle cx="716.8" cy="516.6" r="7.5"/><circle cx="759.3" cy="595.5" r="7.5"/><circle cx="761.1" cy="572.6" r="7.5"/><circle cx="722.9" cy="524.1" r="7.5"/><circle cx="792.6" cy="562.9" r="7.5"/><circle cx="791.5" cy="526" r="7.5"/><circle cx="717.1" cy="606.7" r="7.5"/><circle cx="776.6" cy="584.7" r="7.5"/><circle cx="801.7" cy="607.9" r="7.5"/><circle cx="795.3" cy="596.6" r="7.5"/><circle cx="757.1" cy="585.9" r="7.5"/><circle cx="764.9" cy="550.8" r="7.5"/><circle cx="798.4" cy="601.9" r="7.5"/><circle cx="756" cy="622.6" r="7.5"/><circle cx="741.7" cy="562" r="7.5"/><circle cx="731.8" cy="539.3" r="7.5"/><circle cx="754.4" cy="596.6" r="7.5"/><circle cx="764.8" cy="626.5" r="7.5"/><circle cx="779.4" cy="584.7" r="7.5"/><circle cx="773.1" cy="567.9" r="7.5"/><circle cx="807.4" cy="630.5" r="7.5"/><circle cx="762.8" cy="621.1" r="7.5"/><circle cx="758.8" cy="554.9" r="7.5"/><circle cx="752.6" cy="530.8" r="7.5"/><circle cx="727.3" cy="551.1" r="7.5"/><circle cx="738" cy="582" r="7.5"/><circle cx="729.7" cy="581.6" r="7.5"/><circle cx="785.9" cy="554.7" r="7.5"/><circle cx="810.7" cy="596" r="7.5"/><circle cx="813.6" cy="589.1" r="7.5"/><circle cx="739.4" cy="559.8" r="7.5"/><circle cx="711.1" cy="597.9" r="7.5"/><circle cx="752.3" cy="586.3" r="7.5"/><circle cx="804.6" cy="573.2" r="7.5"/><circle cx="721.2" cy="585.5" r="7.5"/><circle cx="713.5" cy="553.1" r="7.5"/><circle cx="813.6" cy="550.4" r="7.5"/><circle cx="744.3" cy="562.1" r="7.5"/><circle cx="722.7" cy="531.2" r="7.5"/><circle cx="741.8" cy="568.1" r="7.5"/><circle cx="718.5" cy="596.3" r="7.5"/><circle cx="713.8" cy="526.9" r="7.5"/><circle cx="815.2" cy="581.4" r="7.5"/><circle cx="756" cy="570.7" r="7.5"/><circle cx="790.4" cy="590.4" r="7.5"/><circle cx="801.5" cy="532.4" r="7.5"/><circle cx="711.9" cy="606.2" r="7.5"/><circle cx="733.7" cy="574.6" r="7.5"/><circle cx="770.6" cy="535.4" r="7.5"/><circle cx="766.1" cy="578.8" r="7.5"/><circle cx="740.8" cy="592.3" r="7.5"/><circle cx="783.8" cy="580.6" r="7.5"/><circle cx="791.8" cy="584" r="7.5"/><circle cx="796.8" cy="576.2" r="7.5"/><circle cx="794.1" cy="536.6" r="7.5"/><circle cx="763.8" cy="606.4" r="7.5"/><circle cx="781.4" cy="589.9" r="7.5"/><circle cx="709.7" cy="581" r="7.5"/><circle cx="709.3" cy="627.7" r="7.5"/><circle cx="711.9" cy="580.5" r="7.5"/><circle cx="813.4" cy="572.2" r="7.5"/><circle cx="744.3" cy="571.7" r="7.5"/><circle cx="738.7" cy="613.3" r="7.5"/><circle cx="783" cy="535.4" r="7.5"/><circle cx="799.6" cy="565.8" r="7.5"/><circle cx="709.4" cy="578.7" r="7.5"/><circle cx="795.6" cy="545.4" r="7.5"/><circle cx="788.9" cy="588.9" r="7.5"/><circle cx="784.1" cy="626.9" r="7.5"/><circle cx="810.5" cy="579.9" r="7.5"/><circle cx="725.9" cy="562.5" r="7.5"/><circle cx="746.4" cy="582.3" r="7.5"/><circle cx="778.9" cy="624.6" r="7.5"/><circle cx="777.4" cy="557.1" r="7.5"/><circle cx="732.1" cy="539.8" r="7.5"/><circle cx="717.5" cy="570.7" r="7.5"/><circle cx="758.3" cy="585" r="7.5"/><circle cx="760.3" cy="558.4" r="7.5"/><circle cx="766" cy="578.9" r="7.5"/><circle cx="729.8" cy="566.1" r="7.5"/><circle cx="772.9" cy="579.6" r="7.5"/><circle cx="750.3" cy="576.1" r="7.5"/><circle cx="720.3" cy="588.4" r="7.5"/><circle cx="780.8" cy="589.7" r="7.5"/><circle cx="803.4" cy="520.1" r="7.5"/><circle cx="807.3" cy="537" r="7.5"/><circle cx="809.8" cy="617.3" r="7.5"/><circle cx="796.6" cy="543.1" r="7.5"/><circle cx="766.1" cy="554.2" r="7.5"/><circle cx="755.6" cy="620.5" r="7.5"/><circle cx="754.8" cy="628.4" r="7.5"/><circle cx="771.8" cy="551.7" r="7.5"/><circle cx="792.9" cy="575.1" r="7.5"/><circle cx="769" cy="566.9" r="7.5"/><circle cx="768" cy="583.3" r="7.5"/><circle cx="788.8" cy="601.7" r="7.5"/><circle cx="744.4" cy="595.6" r="7.5"/><circle cx="729.5" cy="614" r="7.5"/><circle cx="769.4" cy="525" r="7.5"/><circle cx="744.3" cy="556.5" r="7.5"/><circle cx="803.1" cy="619.1" r="7.5"/><circle cx="751.2" cy="561.6" r="7.5"/><circle cx="737.7" cy="617.8" r="7.5"/><circle cx="713.1" cy="617.7" r="7.5"/><circle cx="725.8" cy="583.2" r="7.5"/><circle cx="804.5" cy="595.1" r="7.5"/><circle cx="726.3" cy="561.3" r="7.5"/><circle cx="726.3" cy="546.7" r="7.5"/><circle cx="722.6" cy="588.5" r="7.5"/><circle cx="811.1" cy="564.6" r="7.5"/><circle cx="764.4" cy="523.5" r="7.5"/><circle cx="753.8" cy="565.4" r="7.5"/><circle cx="722.4" cy="553.6" r="7.5"/><circle cx="718.8" cy="591" r="7.5"/><circle cx="738.9" cy="514.5" r="7.5"/><circle cx="784.8" cy="613.1" r="7.5"/><circle cx="788.2" cy="574.8" r="7.5"/><circle cx="741.2" cy="562.3" r="7.5"/><circle cx="750.3" cy="573.4" r="7.5"/><circle cx="779.7" cy="577.9" r="7.5"/><circle cx="809.8" cy="564.9" r="7.5"/><circle cx="766" cy="528.3" r="7.5"/><circle cx="710.4" cy="619.9" r="7.5"/><circle cx="721.9" cy="593.2" r="7.5"/><circle cx="815.6" cy="572.6" r="7.5"/><circle cx="854.5" cy="604.1" r="7.5"/><circle cx="831.4" cy="554.3" r="7.5"/><circle cx="857.1" cy="618" r="7.5"/><circle cx="868.1" cy="568.7" r="7.5"/><circle cx="812.4" cy="570.2" r="7.5"/><circle cx="867.8" cy="588.9" r="7.5"/><circle cx="828.7" cy="562.6" r="7.5"/><circle cx="849.2" cy="575.8" r="7.5"/><circle cx="809.1" cy="562.5" r="7.5"/><circle cx="807.7" cy="580.9" r="7.5"/><circle cx="871.5" cy="571" r="7.5"/><circle cx="821.4" cy="569.3" r="7.5"/><circle cx="883.2" cy="625.8" r="7.5"/><circle cx="840.7" cy="566.3" r="7.5"/><circle cx="827" cy="595" r="7.5"/><circle cx="880.4" cy="602.3" r="7.5"/><circle cx="853.9" cy="570" r="7.5"/><circle cx="810.2" cy="575.8" r="7.5"/><circle cx="837.6" cy="588.3" r="7.5"/><circle cx="842.5" cy="578.6" r="7.5"/><circle cx="816.1" cy="572.2" r="7.5"/><circle cx="860.2" cy="582.6" r="7.5"/><circle cx="860.5" cy="580.1" r="7.5"/><circle cx="831.5" cy="593" r="7.5"/><circle cx="864.9" cy="627" r="7.5"/><circle cx="870.5" cy="590" r="7.5"/><circle cx="853.5" cy="597.1" r="7.5"/><circle cx="861.4" cy="593.8" r="7.5"/><circle cx="884.4" cy="591.4" r="7.5"/><circle cx="858.3" cy="612.4" r="7.5"/><circle cx="820.1" cy="599.4" r="7.5"/><circle cx="871.5" cy="588.1" r="7.5"/><circle cx="837.9" cy="599.2" r="7.5"/><circle cx="836.9" cy="594.5" r="7.5"/><circle cx="823.8" cy="558.4" r="7.5"/><circle cx="860.6" cy="580.6" r="7.5"/><circle cx="870.7" cy="599" r="7.5"/><circle cx="821.2" cy="591.6" r="7.5"/><circle cx="834.1" cy="555.6" r="7.5"/><circle cx="829" cy="577.2" r="7.5"/><circle cx="818.1" cy="596.6" r="7.5"/><circle cx="839.9" cy="552.5" r="7.5"/><circle cx="865" cy="562.9" r="7.5"/><circle cx="856.4" cy="551.3" r="7.5"/><circle cx="808.6" cy="606.7" r="7.5"/><circle cx="825.5" cy="626" r="7.5"/><circle cx="841.8" cy="564" r="7.5"/><circle cx="808.4" cy="563.8" r="7.5"/><circle cx="849.7" cy="612.2" r="7.5"/><circle cx="810.6" cy="570.3" r="7.5"/><circle cx="806.3" cy="612.4" r="7.5"/><circle cx="859.7" cy="614.2" r="7.5"/><circle cx="812.9" cy="615.8" r="7.5"/><circle cx="855.9" cy="579.8" r="7.5"/><circle cx="877.3" cy="569.3" r="7.5"/><circle cx="830.4" cy="591.1" r="7.5"/><circle cx="868.3" cy="580.8" r="7.5"/><circle cx="843" cy="567" r="7.5"/><circle cx="809.9" cy="617.5" r="7.5"/><circle cx="443.8" cy="467.8" r="7.5"/><circle cx="423.6" cy="480.3" r="7.5"/><circle cx="425.4" cy="489.2" r="7.5"/><circle cx="441.4" cy="489.2" r="7.5"/><circle cx="457.5" cy="488.4" r="7.5"/><circle cx="468.2" cy="491" r="7.5"/><circle cx="496.8" cy="480.3" r="7.5"/><circle cx="494.1" cy="487.5" r="7.5"/><circle cx="475.4" cy="479.4" r="7.5"/><circle cx="420" cy="500" r="7.5"/><circle cx="442.3" cy="506.2" r="7.5"/><circle cx="480.7" cy="500" r="7.5"/><circle cx="491.4" cy="510.7" r="7.5"/><circle cx="500.4" cy="508.9" r="7.5"/><circle cx="507.5" cy="516" r="7.5"/><circle cx="527.1" cy="516" r="7.5"/><circle cx="495" cy="523.2" r="7.5"/><circle cx="512.9" cy="525" r="7.5"/><circle cx="362.9" cy="483.9" r="7.5"/><circle cx="358.4" cy="496.4" r="7.5"/><circle cx="368.2" cy="502.6" r="7.5"/><circle cx="361.4" cy="519.6" r="7.5"/><circle cx="370.9" cy="538.4" r="7.5"/><circle cx="369.1" cy="552.6" r="7.5"/><circle cx="382.5" cy="566" r="7.5"/><circle cx="381.6" cy="572.3" r="7.5"/><circle cx="421.8" cy="564.2" r="7.5"/><circle cx="420.9" cy="526.7" r="7.5"/><circle cx="427.1" cy="543.7" r="7.5"/><circle cx="405.7" cy="585.7" r="7.5"/><circle cx="414.6" cy="592.8" r="7.5"/><circle cx="430.7" cy="592.8" r="7.5"/><circle cx="489.6" cy="573.2" r="7.5"/><circle cx="507.5" cy="578.5" r="7.5"/><circle cx="516.4" cy="562.5" r="7.5"/><circle cx="525.4" cy="583.9" r="7.5"/><circle cx="537.9" cy="580.3" r="7.5"/><circle cx="498.6" cy="551.7" r="7.5"/><circle cx="509.3" cy="539.2" r="7.5"/><circle cx="480.7" cy="551.7" r="7.5"/><circle cx="628" cy="483" r="7.5"/><circle cx="636.1" cy="490.1" r="7.5"/><circle cx="610.2" cy="495.5" r="7.5"/><circle cx="627.1" cy="498.2" r="7.5"/><circle cx="614.6" cy="501.7" r="7.5"/><circle cx="641.4" cy="505.3" r="7.5"/><circle cx="559.3" cy="521.4" r="7.5"/><circle cx="577.1" cy="516" r="7.5"/><circle cx="552.1" cy="532.1" r="7.5"/><circle cx="605.7" cy="517.8" r="7.5"/><circle cx="623.6" cy="514.2" r="7.5"/><circle cx="637.9" cy="523.2" r="7.5"/><circle cx="561.1" cy="544.6" r="7.5"/><circle cx="575.4" cy="541" r="7.5"/><circle cx="605.7" cy="533.9" r="7.5"/><circle cx="632.5" cy="535.7" r="7.5"/><circle cx="557.5" cy="558.9" r="7.5"/><circle cx="578.9" cy="557.1" r="7.5"/><circle cx="605.7" cy="558.9" r="7.5"/><circle cx="630.7" cy="555.3" r="7.5"/><circle cx="646.8" cy="550" r="7.5"/><circle cx="650.4" cy="567.8" r="7.5"/><circle cx="623.6" cy="571.4" r="7.5"/><circle cx="555.7" cy="576.7" r="7.5"/><circle cx="659.3" cy="526.7" r="7.5"/><circle cx="673.6" cy="521.4" r="7.5"/><circle cx="543.2" cy="533.9" r="7.5"/><circle cx="548.6" cy="553.5" r="7.5"/><circle cx="541.4" cy="573.2" r="7.5"/><circle cx="516.4" cy="589.2" r="7.5"/><circle cx="552.1" cy="589.2" r="7.5"/><circle cx="733" cy="300.1" r="7.5"/><circle cx="734.3" cy="302.5" r="7.5"/><circle cx="728.6" cy="323.9" r="7.5"/><circle cx="739.3" cy="318.9" r="7.5"/><circle cx="744.6" cy="322.5" r="7.5"/><circle cx="736.6" cy="327.8" r="7.5"/><circle cx="731.2" cy="335.9" r="7.5"/><circle cx="725.9" cy="386.7" r="7.5"/><circle cx="731.6" cy="408.7" r="7.5"/><circle cx="729.5" cy="418.9" r="7.5"/><circle cx="716.1" cy="441.2" r="7.5"/><circle cx="728.6" cy="438.5" r="7.5"/><circle cx="725" cy="442.1" r="7.5"/><circle cx="781.6" cy="442.1" r="7.5"/><circle cx="765.2" cy="453.7" r="7.5"/><circle cx="721.4" cy="454.6" r="7.5"/><circle cx="726.8" cy="455.5" r="7.5"/><circle cx="850.4" cy="465.7" r="7.5"/><circle cx="733.9" cy="467.1" r="7.5"/><circle cx="735.7" cy="476" r="7.5"/><circle cx="712.5" cy="477.8" r="7.5"/><circle cx="773.2" cy="475.1" r="7.5"/><circle cx="782.5" cy="475.1" r="7.5"/><circle cx="766.1" cy="483.2" r="7.5"/><circle cx="772.3" cy="493" r="7.5"/><circle cx="708.9" cy="488.5" r="7.5"/><circle cx="821.4" cy="497.5" r="7.5"/><circle cx="917.3" cy="492.5" r="7.5"/><circle cx="837.5" cy="502.8" r="7.5"/><circle cx="780.4" cy="502.8" r="7.5"/><circle cx="929.3" cy="522.1" r="7.5"/><circle cx="897.1" cy="538.2" r="7.5"/><circle cx="906.1" cy="554.2" r="7.5"/><circle cx="916.8" cy="554.2" r="7.5"/><circle cx="917.7" cy="573.9" r="7.5"/><circle cx="897.1" cy="579.2" r="7.5"/><circle cx="888.2" cy="598.9" r="7.5"/><circle cx="887.3" cy="620.3" r="7.5"/><circle cx="893.6" cy="636.4" r="7.5"/><circle cx="850.7" cy="636.4" r="7.5"/><circle cx="698.9" cy="623" r="7.5"/><circle cx="710.5" cy="631.9" r="7.5"/><circle cx="682.9" cy="625.7" r="7.5"/><circle cx="729.3" cy="622.1" r="7.5"/><circle cx="741.8" cy="634.6" r="7.5"/><circle cx="715" cy="663.2" r="7.5"/><circle cx="751.6" cy="656" r="7.5"/><circle cx="754.3" cy="679.2" r="7.5"/><circle cx="818.6" cy="669.4" r="7.5"/><circle cx="823.9" cy="671.2" r="7.5"/><circle cx="797.1" cy="677.5" r="7.5"/><circle cx="811.4" cy="654.2" r="7.5"/><circle cx="827.5" cy="650.7" r="7.5"/><circle cx="822.1" cy="513.2" r="7.5"/><circle cx="859.6" cy="518.5" r="7.5"/><circle cx="793.6" cy="523.9" r="7.5"/><circle cx="811.4" cy="527.5" r="7.5"/><circle cx="772.1" cy="522.1" r="7.5"/><circle cx="861.4" cy="547.1" r="7.5"/><circle cx="829.3" cy="538.2" r="7.5"/><circle cx="648.9" cy="493.5" r="7.5"/><circle cx="663.2" cy="520.3" r="7.5"/><circle cx="647.1" cy="529.2" r="7.5"/><circle cx="668.6" cy="550.7" r="7.5"/><circle cx="648.9" cy="556" r="7.5"/><circle cx="684.6" cy="520.3" r="7.5"/><circle cx="707.9" cy="529.2" r="7.5"/><circle cx="715" cy="548.9" r="7.5"/><circle cx="657.9" cy="570.3" r="7.5"/><circle cx="690" cy="577.5" r="7.5"/><circle cx="715" cy="570.3" r="7.5"/><circle cx="650.7" cy="590" r="7.5"/><circle cx="672.1" cy="602.5" r="7.5"/><circle cx="659.6" cy="591.7" r="7.5"/><circle cx="711.4" cy="600.7" r="7.5"/><circle cx="645.4" cy="613.2" r="7.5"/><circle cx="765" cy="632.8" r="7.5"/><circle cx="750.7" cy="638.2" r="7.5"/><circle cx="788.2" cy="663.2" r="7.5"/><circle cx="868.6" cy="632.8" r="7.5"/><circle cx="484.5" cy="626.9" r="7.5"/><circle cx="479.1" cy="626" r="7.5"/><circle cx="506.8" cy="660.3" r="7.5"/><circle cx="556.4" cy="659.6" r="7.5"/><circle cx="601.4" cy="648.4" r="7.5"/><circle cx="596.1" cy="658.2" r="7.5"/><circle cx="585.4" cy="662.6" r="7.5"/><circle cx="634.5" cy="644.8" r="7.5"/><circle cx="633.6" cy="652.8" r="7.5"/><circle cx="633.6" cy="622.5" r="7.5"/><circle cx="606.8" cy="616.2" r="7.5"/><circle cx="593.4" cy="626.9" r="7.5"/><circle cx="581.8" cy="626" r="7.5"/><circle cx="583.6" cy="613.5" r="7.5"/><circle cx="563.9" cy="610" r="7.5"/><circle cx="550.5" cy="604.6" r="7.5"/><circle cx="525.5" cy="601.9" r="7.5"/><circle cx="510.4" cy="598.4" r="7.5"/><circle cx="511.2" cy="606.4" r="7.5"/><circle cx="499.6" cy="585" r="7.5"/><circle cx="665.7" cy="604.6" r="7.5"/><circle cx="626.4" cy="604.6" r="7.5"/><circle cx="651.4" cy="602.8" r="7.5"/><circle cx="496.1" cy="531.4" r="7.5"/><circle cx="655" cy="558.2" r="7.5"/><circle cx="624.6" cy="536.7" r="7.5"/><circle cx="558.6" cy="588.5" r="7.5"/><circle cx="588.9" cy="597.5" r="7.5"/><circle cx="606.8" cy="593.9" r="7.5"/><circle cx="624.6" cy="588.5" r="7.5"/><circle cx="669.3" cy="586.7" r="7.5"/><circle cx="615.7" cy="576" r="7.5"/><circle cx="526.4" cy="554.6" r="7.5"/><circle cx="540.7" cy="563.5" r="7.5"/></g>
<g class="dr"><circle cx="758.2" cy="556.8" r="7.5"/><circle cx="814.3" cy="607.2" r="7.5"/><circle cx="805.4" cy="576.4" r="7.5"/><circle cx="760.8" cy="580.9" r="7.5"/><circle cx="762.4" cy="566.5" r="7.5"/><circle cx="776.5" cy="556.1" r="7.5"/><circle cx="751.3" cy="567.4" r="7.5"/><circle cx="765.1" cy="575.1" r="7.5"/><circle cx="813.8" cy="575.5" r="7.5"/><circle cx="765.5" cy="607.1" r="7.5"/><circle cx="782.3" cy="556.7" r="7.5"/><circle cx="756.4" cy="593.5" r="7.5"/><circle cx="767" cy="600.8" r="7.5"/><circle cx="798.3" cy="585.7" r="7.5"/><circle cx="791.6" cy="560" r="7.5"/><circle cx="775" cy="576.5" r="7.5"/><circle cx="808.8" cy="568.5" r="7.5"/><circle cx="779.7" cy="590.1" r="7.5"/><circle cx="776.6" cy="610" r="7.5"/><circle cx="791.8" cy="610.6" r="7.5"/><circle cx="762.9" cy="589.9" r="7.5"/><circle cx="814.9" cy="588.9" r="7.5"/><circle cx="746.1" cy="585.8" r="7.5"/><circle cx="764.7" cy="557.1" r="7.5"/><circle cx="790.1" cy="581.5" r="7.5"/><circle cx="781" cy="540.5" r="7.5"/><circle cx="783.3" cy="554.6" r="7.5"/><circle cx="753" cy="622.8" r="7.5"/><circle cx="804.3" cy="588.6" r="7.5"/><circle cx="767.8" cy="564.5" r="7.5"/><circle cx="770" cy="570.6" r="7.5"/><circle cx="777.1" cy="554.8" r="7.5"/><circle cx="803.7" cy="623.9" r="7.5"/><circle cx="773.8" cy="575.2" r="7.5"/><circle cx="754.9" cy="548.6" r="7.5"/><circle cx="810.5" cy="608.4" r="7.5"/><circle cx="748.2" cy="591.6" r="7.5"/><circle cx="808.5" cy="606.2" r="7.5"/><circle cx="776.3" cy="553.8" r="7.5"/><circle cx="767.7" cy="550.6" r="7.5"/><circle cx="811.3" cy="538.1" r="7.5"/><circle cx="747.3" cy="579.9" r="7.5"/><circle cx="762.5" cy="588.4" r="7.5"/><circle cx="814.4" cy="634.7" r="7.5"/><circle cx="804" cy="571" r="7.5"/><circle cx="805.5" cy="578.7" r="7.5"/><circle cx="810.1" cy="567.1" r="7.5"/><circle cx="757.9" cy="551.2" r="7.5"/><circle cx="812.1" cy="576.3" r="7.5"/><circle cx="768.2" cy="587.3" r="7.5"/><circle cx="867.8" cy="594.9" r="7.5"/><circle cx="856.1" cy="567" r="7.5"/><circle cx="813.2" cy="560.5" r="7.5"/><circle cx="808.5" cy="576.9" r="7.5"/><circle cx="852.9" cy="616.3" r="7.5"/><circle cx="845.2" cy="619.9" r="7.5"/><circle cx="866.3" cy="549.3" r="7.5"/><circle cx="829.8" cy="575.5" r="7.5"/><circle cx="842.4" cy="590.5" r="7.5"/><circle cx="822.6" cy="557" r="7.5"/><circle cx="827.4" cy="573.3" r="7.5"/><circle cx="836.3" cy="577" r="7.5"/><circle cx="828.5" cy="581.7" r="7.5"/><circle cx="858.9" cy="588.8" r="7.5"/><circle cx="808.4" cy="597.7" r="7.5"/><circle cx="827.5" cy="555.3" r="7.5"/><circle cx="845.8" cy="590.8" r="7.5"/><circle cx="813.8" cy="620.3" r="7.5"/><circle cx="859.3" cy="587.7" r="7.5"/><circle cx="858.1" cy="593" r="7.5"/><circle cx="831.3" cy="587.7" r="7.5"/><circle cx="821.8" cy="555.5" r="7.5"/><circle cx="805.5" cy="544.7" r="7.5"/><circle cx="872.8" cy="608.9" r="7.5"/><circle cx="840.6" cy="581.3" r="7.5"/><circle cx="380.2" cy="433" r="7.5"/><circle cx="373.2" cy="441.9" r="7.5"/><circle cx="381.2" cy="454.4" r="7.5"/><circle cx="381.6" cy="468.7" r="7.5"/><circle cx="383.9" cy="487.5" r="7.5"/><circle cx="407.5" cy="501.7" r="7.5"/><circle cx="395.9" cy="512.5" r="7.5"/><circle cx="378.9" cy="530.3" r="7.5"/><circle cx="386.1" cy="531.2" r="7.5"/><circle cx="384.8" cy="544.6" r="7.5"/><circle cx="389.6" cy="557.1" r="7.5"/><circle cx="423.2" cy="539.6" r="7.5"/><circle cx="448.2" cy="553.2" r="7.5"/><circle cx="441.8" cy="566.4" r="7.5"/><circle cx="463.2" cy="567.8" r="7.5"/><circle cx="472.1" cy="479.4" r="7.5"/><circle cx="462.5" cy="510.7" r="7.5"/><circle cx="462.9" cy="517.5" r="7.5"/><circle cx="514.3" cy="487.8" r="7.5"/><circle cx="481.6" cy="536.6" r="7.5"/><circle cx="535.7" cy="526.7" r="7.5"/><circle cx="534.3" cy="538.4" r="7.5"/><circle cx="522.7" cy="541" r="7.5"/><circle cx="567.9" cy="523.5" r="7.5"/><circle cx="587.3" cy="517.8" r="7.5"/><circle cx="595" cy="498.2" r="7.5"/><circle cx="597.3" cy="504.4" r="7.5"/><circle cx="591.1" cy="543.7" r="7.5"/><circle cx="617.9" cy="546.4" r="7.5"/><circle cx="660.2" cy="489.6" r="7.5"/><circle cx="652.1" cy="512.5" r="7.5"/><circle cx="656.6" cy="507.1" r="7.5"/><circle cx="668.2" cy="510.7" r="7.5"/><circle cx="678" cy="471.4" r="7.5"/><circle cx="677.1" cy="482.1" r="7.5"/><circle cx="678.9" cy="507.1" r="7.5"/><circle cx="660.2" cy="540.1" r="7.5"/><circle cx="677.1" cy="533.9" r="7.5"/><circle cx="672.7" cy="567.8" r="7.5"/><circle cx="567.3" cy="566.9" r="7.5"/><circle cx="574.5" cy="585.7" r="7.5"/><circle cx="593.2" cy="579.4" r="7.5"/><circle cx="391.4" cy="592.8" r="7.5"/><circle cx="767.5" cy="434.6" r="7.5"/><circle cx="834.5" cy="440.9" r="7.5"/><circle cx="922" cy="432.8" r="7.5"/><circle cx="739.3" cy="454.6" r="7.5"/><circle cx="742.9" cy="456.7" r="7.5"/><circle cx="718.8" cy="468" r="7.5"/><circle cx="722.3" cy="472.5" r="7.5"/><circle cx="728" cy="485" r="7.5"/><circle cx="750" cy="476.9" r="7.5"/><circle cx="758" cy="473.4" r="7.5"/><circle cx="806.2" cy="474.6" r="7.5"/><circle cx="879.5" cy="466.2" r="7.5"/><circle cx="700" cy="496.6" r="7.5"/><circle cx="733.9" cy="499.2" r="7.5"/><circle cx="758" cy="501.9" r="7.5"/><circle cx="807.1" cy="496.6" r="7.5"/><circle cx="810.7" cy="501" r="7.5"/><circle cx="847.3" cy="499.2" r="7.5"/><circle cx="875.9" cy="496.6" r="7.5"/><circle cx="687.5" cy="501.9" r="7.5"/><circle cx="703.4" cy="515.9" r="7.5"/><circle cx="718.6" cy="519.4" r="7.5"/><circle cx="729.3" cy="517.6" r="7.5"/><circle cx="734.6" cy="523" r="7.5"/><circle cx="748.9" cy="506.9" r="7.5"/><circle cx="759.6" cy="511.4" r="7.5"/><circle cx="749.8" cy="523" r="7.5"/><circle cx="783.8" cy="518.5" r="7.5"/><circle cx="811.4" cy="508.7" r="7.5"/><circle cx="847.1" cy="515.9" r="7.5"/><circle cx="873.9" cy="516.7" r="7.5"/><circle cx="915.9" cy="518.9" r="7.5"/><circle cx="825.7" cy="521.2" r="7.5"/><circle cx="832" cy="524.8" r="7.5"/><circle cx="856.1" cy="525.7" r="7.5"/><circle cx="881.1" cy="528.4" r="7.5"/><circle cx="841.8" cy="531.9" r="7.5"/><circle cx="854.3" cy="531.9" r="7.5"/><circle cx="802.5" cy="531.9" r="7.5"/><circle cx="873.9" cy="537.3" r="7.5"/><circle cx="875.7" cy="541.7" r="7.5"/><circle cx="697.1" cy="541.7" r="7.5"/><circle cx="690" cy="549.8" r="7.5"/><circle cx="723" cy="533.7" r="7.5"/><circle cx="742.7" cy="543.5" r="7.5"/><circle cx="762.3" cy="536.4" r="7.5"/><circle cx="766.8" cy="550.7" r="7.5"/><circle cx="787.3" cy="548" r="7.5"/><circle cx="802.5" cy="551.6" r="7.5"/><circle cx="834.6" cy="545.3" r="7.5"/><circle cx="843.6" cy="545.3" r="7.5"/><circle cx="819.5" cy="556.9" r="7.5"/><circle cx="843.6" cy="558.7" r="7.5"/><circle cx="882" cy="556" r="7.5"/><circle cx="865" cy="562.3" r="7.5"/><circle cx="698.9" cy="563.2" r="7.5"/><circle cx="742.7" cy="563.2" r="7.5"/><circle cx="734.6" cy="565.9" r="7.5"/><circle cx="768.6" cy="568.5" r="7.5"/><circle cx="756.1" cy="556" r="7.5"/><circle cx="782.9" cy="564.1" r="7.5"/><circle cx="798.9" cy="569.4" r="7.5"/><circle cx="820.4" cy="565" r="7.5"/><circle cx="852.5" cy="568.5" r="7.5"/><circle cx="832.9" cy="573.9" r="7.5"/><circle cx="888.2" cy="573.9" r="7.5"/><circle cx="697.1" cy="600.7" r="7.5"/><circle cx="722.1" cy="599.8" r="7.5"/><circle cx="748" cy="598" r="7.5"/><circle cx="736.4" cy="613.2" r="7.5"/><circle cx="676.6" cy="619.4" r="7.5"/><circle cx="686.4" cy="648" r="7.5"/><circle cx="754.3" cy="627.5" r="7.5"/><circle cx="779.3" cy="618.5" r="7.5"/><circle cx="798" cy="615.9" r="7.5"/><circle cx="812.3" cy="611.4" r="7.5"/><circle cx="826.6" cy="598.9" r="7.5"/><circle cx="847.1" cy="606" r="7.5"/><circle cx="871.2" cy="588.2" r="7.5"/><circle cx="872.1" cy="599.8" r="7.5"/><circle cx="891.8" cy="594.4" r="7.5"/><circle cx="919.5" cy="590.3" r="7.5"/><circle cx="850.7" cy="616.7" r="7.5"/><circle cx="865" cy="615" r="7.5"/><circle cx="873.9" cy="613.2" r="7.5"/><circle cx="840" cy="623.9" r="7.5"/><circle cx="864.1" cy="625.7" r="7.5"/><circle cx="875.7" cy="626.6" r="7.5"/><circle cx="826.6" cy="618.5" r="7.5"/><circle cx="816.8" cy="634.6" r="7.5"/><circle cx="800.7" cy="637.3" r="7.5"/><circle cx="833.8" cy="637.3" r="7.5"/><circle cx="876.6" cy="637.3" r="7.5"/><circle cx="846.2" cy="645.3" r="7.5"/><circle cx="864.1" cy="645.3" r="7.5"/><circle cx="840.9" cy="651.6" r="7.5"/><circle cx="872.1" cy="656" r="7.5"/><circle cx="783.8" cy="654.2" r="7.5"/><circle cx="766.8" cy="662.3" r="7.5"/><circle cx="797.1" cy="666.7" r="7.5"/><circle cx="807" cy="645.3" r="7.5"/><circle cx="777.5" cy="631" r="7.5"/><circle cx="782.9" cy="641.7" r="7.5"/><circle cx="775.7" cy="648.9" r="7.5"/><circle cx="765" cy="598.9" r="7.5"/><circle cx="775.7" cy="591.7" r="7.5"/><circle cx="797.1" cy="591.7" r="7.5"/><circle cx="811.4" cy="590" r="7.5"/><circle cx="854.3" cy="591.7" r="7.5"/><circle cx="836.4" cy="584.6" r="7.5"/><circle cx="756.1" cy="609.6" r="7.5"/><circle cx="791.8" cy="602.5" r="7.5"/><circle cx="806.1" cy="602.5" r="7.5"/><circle cx="859.6" cy="582.8" r="7.5"/><circle cx="879.3" cy="570.3" r="7.5"/><circle cx="777.5" cy="678.4" r="7.5"/><circle cx="767.1" cy="682.8" r="7.5"/><circle cx="774.8" cy="688.2" r="7.5"/><circle cx="769.5" cy="693.5" r="7.5"/><circle cx="756.1" cy="696.2" r="7.5"/><circle cx="751.1" cy="699.8" r="7.5"/><circle cx="785.5" cy="698.9" r="7.5"/><circle cx="792.7" cy="713.2" r="7.5"/><circle cx="774.3" cy="721.7" r="7.5"/><circle cx="640" cy="698.9" r="7.5"/><circle cx="772.1" cy="609.6" r="7.5"/><circle cx="786.4" cy="625.7" r="7.5"/><circle cx="818.6" cy="622.1" r="7.5"/><circle cx="768.6" cy="641.7" r="7.5"/><circle cx="482.7" cy="600.1" r="7.5"/><circle cx="688.9" cy="601" r="7.5"/></g>
<path d="M339.0 463.8L353.9 472.7L368.9 481.2L383.8 489.4L398.7 497.2L413.6 504.7L428.6 511.8L443.5 518.6L458.4 525.1L473.3 531.2L488.3 537.0L503.2 542.4L518.1 547.5L533.0 552.3L548.0 556.7L562.9 560.7L577.8 564.5L592.7 567.8L607.7 570.9L622.6 573.6L637.5 575.9L652.4 578.0L667.4 579.6L682.3 581.0L697.2 582.0L712.1 582.6L727.1 582.9L742.0 582.9L756.9 582.5L771.8 581.8L786.8 580.8L801.7 579.4L816.6 577.7L831.5 575.7L846.5 573.4L861.4 570.7L876.3 567.7L891.2 564.3L906.2 560.6L921.1 556.6L936.0 552.2L936.0 557.5L921.1 561.3L906.2 564.7L891.2 567.9L876.3 570.8L861.4 573.5L846.5 575.8L831.5 577.8L816.6 579.6L801.7 581.0L786.8 582.2L771.8 583.1L756.9 583.6L742.0 583.9L727.1 584.0L712.1 583.7L697.2 583.1L682.3 582.3L667.4 581.2L652.4 579.8L637.5 578.1L622.6 576.1L607.7 573.9L592.7 571.4L577.8 568.6L562.9 565.5L548.0 562.1L533.0 558.5L518.1 554.6L503.2 550.4L488.3 545.9L473.3 541.1L458.4 536.1L443.5 530.8L428.6 525.1L413.6 519.3L398.7 513.1L383.8 506.7L368.9 499.9L353.9 492.9L339.0 485.6Z" class="cir"/>
<path d="M339.0 474.7L353.9 482.8L368.9 490.6L383.8 498.0L398.7 505.2L413.6 512.0L428.6 518.5L443.5 524.7L458.4 530.6L473.3 536.2L488.3 541.4L503.2 546.4L518.1 551.0L533.0 555.4L548.0 559.4L562.9 563.1L577.8 566.5L592.7 569.6L607.7 572.4L622.6 574.9L637.5 577.0L652.4 578.9L667.4 580.4L682.3 581.6L697.2 582.5L712.1 583.1L727.1 583.4L742.0 583.4L756.9 583.1L771.8 582.4L786.8 581.5L801.7 580.2L816.6 578.7L831.5 576.8L846.5 574.6L861.4 572.1L876.3 569.2L891.2 566.1L906.2 562.7L921.1 558.9L936.0 554.9" class="cvr"/>
<path d="M174.6 27H983.5" class="ax1"/>
<path d="M983.5 27V822.4" class="ax2"/>
<path d="M174.6 805.4H983.5" class="ax2"/>
<path d="M192.1 27V822.4" class="ax0"/>
<path d="M174.6 675.7H192.1M174.6 545.9H192.1M174.6 416.2H192.1M174.6 286.5H192.1M174.6 156.7H192.1" class="ax0"/>
<path d="M389.9 805.4V822.4M587.8 805.4V822.4M785.6 805.4V822.4" class="ax0"/>
<text transform="translate(141.9 819.7) scale(1.070 1)" class="t">0</text>
<text transform="translate(142.1 690.0) scale(1.060 1)" class="t">5</text>
<text transform="translate(126.2 560.2) scale(1.000 1)" class="t">1<tspan dx="-3.2">0</tspan></text>
<text transform="translate(129.7 430.5) scale(0.900 1)" class="t">1<tspan dx="-3.2">5</tspan></text>
<text transform="translate(121.3 300.8) scale(1.050 1)" class="t">20</text>
<text transform="translate(121.3 171.0) scale(1.050 1)" class="t">25</text>
<text transform="translate(121.3 41.3) scale(1.050 1)" class="t">30</text>
<text transform="translate(149.8 868.4) scale(0.940 1)" class="t">80<tspan font-size="41" dy="4.8" dx="1.2">°</tspan><tspan dy="-4.8"> S</tspan></text>
<text transform="translate(348.3 868.4) scale(0.939 1)" class="t">40<tspan font-size="41" dy="4.8" dx="1.2">°</tspan><tspan dy="-4.8"> S</tspan></text>
<text transform="translate(571.3 868.4) scale(0.988 1)" class="t">0<tspan font-size="41" dy="4.8" dx="1.2">°</tspan></text>
<text transform="translate(740.5 868.4) scale(1.008 1)" class="t">40<tspan font-size="41" dy="4.8" dx="1.2">°</tspan><tspan dy="-4.8"> N</tspan></text>
<text transform="translate(939.5 868.4) scale(1.009 1)" class="t">80<tspan font-size="41" dy="4.8" dx="1.2">°</tspan><tspan dy="-4.8"> N</tspan></text>
<text transform="translate(526.6 924.8) scale(0.974 1)" class="t">Latitude</text>
<text transform="translate(78.4 595.1) rotate(-90) scale(0.969 1)" class="t">Warming tolerance (<tspan font-size="41" dy="4.8" dx="1.2">°</tspan><tspan dy="-4.8">C)</tspan></text>
<path d="M272.9 81.4C272.9 86.5 272.9 103.9 273.2 112.3C273.5 120.7 274.0 126.8 274.6 131.7C275.1 136.5 275.4 138.4 276.5 141.3C277.6 144.2 278.9 146.5 280.9 149.1C283.0 151.6 286.3 154.2 288.7 156.8C291.1 159.4 293.7 162.3 295.4 164.5C297.2 166.8 298.4 168.5 299.3 170.3C300.3 172.2 301.1 174.2 301.3 175.8C301.4 177.4 301.4 178.0 300.3 180.0C299.2 182.0 296.7 185.2 294.5 187.8C292.2 190.3 288.9 192.9 286.7 195.5C284.6 198.1 283.0 200.7 281.5 203.2C280.1 205.8 279.0 208.4 278.0 211.0C277.1 213.6 276.4 215.8 275.7 218.7C275.0 221.6 274.3 225.2 273.8 228.4C273.3 231.6 273.0 236.4 272.9 238.1L271.6 238.1C271.4 236.4 271.2 231.6 270.7 228.4C270.2 225.2 269.5 221.6 268.8 218.7C268.0 215.8 267.4 213.6 266.4 211.0C265.5 208.4 264.4 205.8 262.9 203.2C261.5 200.7 259.9 198.1 257.7 195.5C255.6 192.9 252.2 190.3 250.0 187.8C247.7 185.2 245.3 182.0 244.2 180.0C243.1 178.0 243.1 177.4 243.2 175.8C243.4 174.2 244.2 172.2 245.1 170.3C246.1 168.5 247.2 166.8 249.0 164.5C250.8 162.3 253.4 159.4 255.8 156.8C258.2 154.2 261.5 151.6 263.5 149.1C265.6 146.5 266.9 144.2 268.0 141.3C269.0 138.4 269.4 136.5 269.9 131.7C270.5 126.8 271.0 120.7 271.3 112.3C271.5 103.9 271.5 86.5 271.6 81.4Z" fill="#e0393b" stroke="#000" stroke-width="2.4" stroke-linejoin="round"/>
<path d="M272.2 141.3V211.0" stroke="#000" stroke-width="2.3" stroke-linecap="round"/>
<circle cx="272.2" cy="175.8" r="10.6" fill="#fff"/>
<path d="M343.7 73.6C343.7 80.1 343.6 104.3 344.0 112.3C344.4 120.4 345.0 118.8 345.9 122.0C346.9 125.2 348.3 128.4 349.8 131.7C351.3 134.9 353.2 138.1 355.0 141.3C356.9 144.6 359.0 147.8 360.8 151.0C362.7 154.2 364.7 157.5 366.3 160.7C367.8 163.9 369.2 167.0 370.1 170.3C371.1 173.7 372.1 177.4 372.1 181.0C372.1 184.5 371.3 188.2 370.1 191.6C369.0 195.0 367.1 198.1 365.3 201.3C363.5 204.5 361.4 207.8 359.5 211.0C357.6 214.2 355.5 217.4 353.7 220.6C351.9 223.9 350.1 227.1 348.8 230.3C347.6 233.5 346.6 237.3 345.9 240.0C345.3 242.7 345.1 245.6 345.0 246.8L341.1 246.8C340.9 245.6 340.8 242.7 340.1 240.0C339.5 237.3 338.5 233.5 337.2 230.3C335.9 227.1 334.2 223.9 332.4 220.6C330.6 217.4 328.5 214.2 326.6 211.0C324.7 207.8 322.6 204.5 320.8 201.3C319.0 198.1 317.1 195.0 316.0 191.6C314.8 188.2 314.0 184.5 314.0 181.0C314.0 177.4 315.0 173.7 316.0 170.3C316.9 167.0 318.3 163.9 319.8 160.7C321.4 157.5 323.4 154.2 325.2 151.0C327.1 147.8 329.2 144.6 331.0 141.3C332.9 138.1 334.8 134.9 336.3 131.7C337.8 128.4 339.2 125.2 340.1 122.0C341.1 118.8 341.7 120.4 342.1 112.3C342.4 104.3 342.3 80.1 342.4 73.6Z" fill="#e0393b" stroke="#000" stroke-width="2.4" stroke-linejoin="round"/>
<path d="M343.0 144.2V222.6" stroke="#000" stroke-width="2.3" stroke-linecap="round"/>
<circle cx="343.0" cy="182.0" r="10.6" fill="#fff"/>
<path d="M414.5 74.6C414.6 82.5 414.5 111.8 414.8 122.0C415.1 132.1 415.4 131.7 416.2 135.5C417.0 139.4 418.3 142.3 419.7 145.2C421.0 148.1 422.6 150.4 424.5 152.9C426.4 155.5 429.0 158.1 431.3 160.7C433.5 163.3 436.3 166.2 438.0 168.4C439.8 170.7 441.1 172.6 441.9 174.2C442.7 175.8 443.2 176.5 442.9 178.1C442.5 179.7 441.3 181.6 440.0 183.9C438.7 186.1 436.9 189.1 435.1 191.6C433.4 194.2 431.4 196.5 429.3 199.4C427.2 202.3 424.5 206.1 422.6 209.0C420.6 211.9 418.7 214.8 417.7 216.8C416.7 218.8 416.7 220.3 416.6 221.0L411.1 221.0C410.9 220.3 411.0 218.8 410.0 216.8C409.0 214.8 407.1 211.9 405.1 209.0C403.2 206.1 400.5 202.3 398.4 199.4C396.3 196.5 394.3 194.2 392.6 191.6C390.8 189.1 389.0 186.1 387.7 183.9C386.4 181.6 385.2 179.7 384.8 178.1C384.5 176.5 385.0 175.8 385.8 174.2C386.6 172.6 387.9 170.7 389.7 168.4C391.4 166.2 394.2 163.3 396.4 160.7C398.7 158.1 401.3 155.5 403.2 152.9C405.1 150.4 406.7 148.1 408.0 145.2C409.4 142.3 410.7 139.4 411.5 135.5C412.3 131.7 412.6 132.1 412.9 122.0C413.2 111.8 413.1 82.5 413.2 74.6Z" fill="#e0393b" stroke="#000" stroke-width="2.4" stroke-linejoin="round"/>
<path d="M413.8 137.5V219.7" stroke="#000" stroke-width="2.3" stroke-linecap="round"/>
<path d="M413.8 191.6V197.4" stroke="#000" stroke-width="3.6"/>
<circle cx="413.8" cy="180.6" r="10.6" fill="#fff"/>
<path d="M485.3 128.8C485.5 131.5 485.7 141.2 486.2 145.2C486.7 149.2 487.2 150.7 488.5 152.9C489.9 155.2 492.1 156.8 494.3 158.7C496.6 160.7 499.5 162.6 502.1 164.5C504.6 166.5 507.9 168.7 509.8 170.3C511.7 172.0 513.5 173.0 513.7 174.6C513.8 176.2 512.1 177.8 510.8 180.0C509.5 182.2 507.5 185.2 505.9 187.8C504.3 190.3 502.8 192.9 501.1 195.5C499.4 198.1 497.6 200.7 495.9 203.2C494.2 205.8 492.3 208.4 490.8 211.0C489.4 213.6 487.9 215.8 487.0 218.7C486.1 221.6 485.6 226.8 485.3 228.4L484.0 228.4C483.7 226.8 483.3 221.6 482.3 218.7C481.4 215.8 479.9 213.6 478.5 211.0C477.0 208.4 475.1 205.8 473.4 203.2C471.7 200.7 469.9 198.1 468.2 195.5C466.5 192.9 465.0 190.3 463.4 187.8C461.8 185.2 459.8 182.2 458.5 180.0C457.2 177.8 455.5 176.2 455.6 174.6C455.8 173.0 457.6 172.0 459.5 170.3C461.4 168.7 464.7 166.5 467.2 164.5C469.8 162.6 472.7 160.7 475.0 158.7C477.2 156.8 479.4 155.2 480.8 152.9C482.1 150.7 482.6 149.2 483.1 145.2C483.6 141.2 483.9 131.5 484.0 128.8Z" fill="#e0393b" stroke="#000" stroke-width="2.4" stroke-linejoin="round"/>
<path d="M484.7 152.9V218.7" stroke="#000" stroke-width="2.3" stroke-linecap="round"/>
<circle cx="484.7" cy="181.2" r="10.6" fill="#fff"/>
<path d="M556.3 131.7C556.5 132.6 556.6 135.2 557.6 137.5C558.6 139.7 560.5 142.6 562.4 145.2C564.4 147.8 566.9 150.4 569.2 152.9C571.5 155.5 574.0 158.1 576.0 160.7C577.9 163.3 579.5 165.8 580.8 168.4C582.1 171.0 583.1 174.1 583.7 176.2C584.4 178.2 584.8 179.1 584.7 181.0C584.5 182.9 583.9 185.3 582.7 187.8C581.6 190.2 579.8 192.9 577.9 195.5C576.0 198.1 573.5 200.7 571.1 203.2C568.8 205.8 565.9 208.4 563.8 211.0C561.7 213.6 559.7 216.1 558.6 218.7C557.4 221.3 557.0 223.6 556.6 226.5C556.2 229.4 556.4 234.5 556.3 236.1L555.0 236.1C555.0 234.5 555.1 229.4 554.7 226.5C554.3 223.6 553.9 221.3 552.8 218.7C551.6 216.1 549.6 213.6 547.5 211.0C545.4 208.4 542.5 205.8 540.2 203.2C537.8 200.7 535.3 198.1 533.4 195.5C531.5 192.9 529.7 190.2 528.6 187.8C527.4 185.3 526.8 182.9 526.6 181.0C526.5 179.1 527.0 178.2 527.6 176.2C528.2 174.1 529.2 171.0 530.5 168.4C531.8 165.8 533.4 163.3 535.3 160.7C537.3 158.1 539.9 155.5 542.1 152.9C544.4 150.4 546.9 147.8 548.9 145.2C550.8 142.6 552.7 139.7 553.7 137.5C554.7 135.2 554.8 132.6 555.0 131.7Z" fill="#e0393b" stroke="#000" stroke-width="2.4" stroke-linejoin="round"/>
<path d="M555.7 137.5V226.5" stroke="#000" stroke-width="2.3" stroke-linecap="round"/>
<circle cx="555.7" cy="180.0" r="10.6" fill="#fff"/>
<path d="M271.8 280.7H556.3" class="ax3"/>
<path d="M608.5 68.5V280.5M608.5 280.5H614.8M608.5 227.5H614.8M608.5 174.5H614.8M608.5 121.5H614.8M608.5 68.5H614.8" class="ax3"/>
<text transform="translate(627.9 294.8) scale(1.070 1)" class="t">0</text>
<text transform="translate(626.9 241.8) scale(1.060 1)" class="t">5</text>
<text transform="translate(626.0 188.8) scale(1.000 1)" class="t">1<tspan dx="-3.2">0</tspan></text>
<text transform="translate(626.3 135.8) scale(0.900 1)" class="t">1<tspan dx="-3.2">5</tspan></text>
<text transform="translate(626.9 82.8) scale(1.050 1)" class="t">20</text>
<text transform="translate(246.8 334.3) scale(0.985 1)" class="t">DD</text>
<text transform="translate(323.7 334.3) scale(0.872 1)" class="t">LC</text>
<text transform="translate(390.4 334.3) scale(0.981 1)" class="t">NT</text>
<text transform="translate(462.2 334.3) scale(0.957 1)" class="t">VU</text>
<text transform="translate(533.4 334.3) scale(0.895 1)" class="t">EN</text>
<text transform="translate(684.3 155.1) rotate(90) scale(0.92 1.1)" class="t"><tspan font-size="41" dy="4.8" dx="1.2">°</tspan><tspan dy="-4.8">C</tspan></text>
</g>
<g transform="translate(1069 975.4)">
<text transform="translate(13.7 37.8) scale(1.106 1.16)" class="pl">d</text>
<g class="lr"><circle cx="572.5" cy="592.8" r="7.5"/><circle cx="627.9" cy="594.8" r="7.5"/><circle cx="637.3" cy="613.5" r="7.5"/><circle cx="603.2" cy="601.1" r="7.5"/><circle cx="651.8" cy="612.4" r="7.5"/><circle cx="634.1" cy="621.3" r="7.5"/><circle cx="576.8" cy="601.3" r="7.5"/><circle cx="653.4" cy="594.8" r="7.5"/><circle cx="613.1" cy="576.2" r="7.5"/><circle cx="574" cy="608.1" r="7.5"/><circle cx="558.7" cy="594.7" r="7.5"/><circle cx="614.1" cy="599.3" r="7.5"/><circle cx="648.5" cy="611" r="7.5"/><circle cx="621.2" cy="599.4" r="7.5"/><circle cx="612.9" cy="580.9" r="7.5"/><circle cx="629.1" cy="590.9" r="7.5"/><circle cx="586.8" cy="596.4" r="7.5"/><circle cx="592.1" cy="593.1" r="7.5"/><circle cx="606" cy="581" r="7.5"/><circle cx="646.2" cy="603.7" r="7.5"/><circle cx="641.9" cy="579.4" r="7.5"/><circle cx="634" cy="600.2" r="7.5"/><circle cx="615.8" cy="606.4" r="7.5"/><circle cx="643.3" cy="603.2" r="7.5"/><circle cx="628" cy="628.4" r="7.5"/><circle cx="617" cy="616.3" r="7.5"/><circle cx="619.6" cy="586.9" r="7.5"/><circle cx="614.3" cy="622.5" r="7.5"/><circle cx="569.4" cy="609.9" r="7.5"/><circle cx="629.4" cy="613.9" r="7.5"/><circle cx="650.8" cy="596.6" r="7.5"/><circle cx="619.3" cy="595.8" r="7.5"/><circle cx="612" cy="605.1" r="7.5"/><circle cx="637.1" cy="603.1" r="7.5"/><circle cx="577.7" cy="622.6" r="7.5"/><circle cx="572" cy="608.4" r="7.5"/><circle cx="564.7" cy="588.7" r="7.5"/><circle cx="611.6" cy="606.6" r="7.5"/><circle cx="603.1" cy="608" r="7.5"/><circle cx="583" cy="622.2" r="7.5"/><circle cx="599" cy="582.6" r="7.5"/><circle cx="655.1" cy="611.8" r="7.5"/><circle cx="628.4" cy="594.1" r="7.5"/><circle cx="596.8" cy="615.8" r="7.5"/><circle cx="588.2" cy="569.1" r="7.5"/><circle cx="713.4" cy="629.9" r="7.5"/><circle cx="656.7" cy="602.7" r="7.5"/><circle cx="721.5" cy="574.2" r="7.5"/><circle cx="689" cy="595.8" r="7.5"/><circle cx="733.6" cy="594.2" r="7.5"/><circle cx="649.9" cy="601.6" r="7.5"/><circle cx="742.2" cy="599.1" r="7.5"/><circle cx="647.5" cy="583.3" r="7.5"/><circle cx="707.4" cy="617.7" r="7.5"/><circle cx="700.2" cy="624.8" r="7.5"/><circle cx="747.2" cy="607.4" r="7.5"/><circle cx="721.4" cy="609.4" r="7.5"/><circle cx="716.6" cy="612.3" r="7.5"/><circle cx="682.9" cy="583.2" r="7.5"/><circle cx="673.6" cy="606.2" r="7.5"/><circle cx="731.2" cy="602.4" r="7.5"/><circle cx="652.7" cy="621.4" r="7.5"/><circle cx="665.5" cy="631.8" r="7.5"/><circle cx="721.4" cy="613.6" r="7.5"/><circle cx="761.8" cy="604.3" r="7.5"/><circle cx="716.5" cy="595.7" r="7.5"/><circle cx="734.6" cy="590" r="7.5"/><circle cx="659.5" cy="574.1" r="7.5"/><circle cx="660.9" cy="573.2" r="7.5"/><circle cx="755.7" cy="599.6" r="7.5"/><circle cx="739.7" cy="624.4" r="7.5"/><circle cx="648.8" cy="598.3" r="7.5"/><circle cx="662" cy="612.8" r="7.5"/><circle cx="703.9" cy="611.5" r="7.5"/><circle cx="652.8" cy="571" r="7.5"/><circle cx="717" cy="617.8" r="7.5"/><circle cx="761.5" cy="582.7" r="7.5"/><circle cx="651.9" cy="607.8" r="7.5"/><circle cx="764.3" cy="630.2" r="7.5"/><circle cx="751.6" cy="623" r="7.5"/><circle cx="683.5" cy="577.9" r="7.5"/><circle cx="758" cy="628.4" r="7.5"/><circle cx="687.9" cy="585.4" r="7.5"/><circle cx="758.2" cy="608.4" r="7.5"/><circle cx="684.6" cy="621" r="7.5"/><circle cx="726.3" cy="592.6" r="7.5"/><circle cx="649" cy="597.7" r="7.5"/><circle cx="735.3" cy="604.8" r="7.5"/><circle cx="711.5" cy="601.1" r="7.5"/><circle cx="706.2" cy="607.9" r="7.5"/><circle cx="401.4" cy="472.1" r="7.5"/><circle cx="401.4" cy="482.3" r="7.5"/><circle cx="426" cy="497.5" r="7.5"/><circle cx="431.7" cy="515.3" r="7.5"/><circle cx="454" cy="523.4" r="7.5"/><circle cx="449.6" cy="528.7" r="7.5"/><circle cx="456.7" cy="536.7" r="7.5"/><circle cx="385.3" cy="506.4" r="7.5"/><circle cx="393.3" cy="526.9" r="7.5"/><circle cx="408.5" cy="518.9" r="7.5"/><circle cx="413.9" cy="511.7" r="7.5"/><circle cx="410.3" cy="526" r="7.5"/><circle cx="421" cy="531.4" r="7.5"/><circle cx="394.2" cy="546.6" r="7.5"/><circle cx="400.5" cy="543.9" r="7.5"/><circle cx="421" cy="553.7" r="7.5"/><circle cx="420.1" cy="568.9" r="7.5"/><circle cx="428.1" cy="570.7" r="7.5"/><circle cx="417.4" cy="576" r="7.5"/><circle cx="422.8" cy="577.8" r="7.5"/><circle cx="438.9" cy="576.9" r="7.5"/><circle cx="447.8" cy="567.1" r="7.5"/><circle cx="457.6" cy="577.8" r="7.5"/><circle cx="475.5" cy="580.5" r="7.5"/><circle cx="478.1" cy="584.1" r="7.5"/><circle cx="417.4" cy="597.5" r="7.5"/><circle cx="421.9" cy="596.6" r="7.5"/><circle cx="421.9" cy="602.8" r="7.5"/><circle cx="449.6" cy="597.5" r="7.5"/><circle cx="466.5" cy="595.7" r="7.5"/><circle cx="435.3" cy="610" r="7.5"/><circle cx="449.6" cy="608.2" r="7.5"/><circle cx="464.8" cy="615.3" r="7.5"/><circle cx="433.5" cy="622.5" r="7.5"/><circle cx="451.4" cy="622.5" r="7.5"/><circle cx="410.3" cy="631" r="7.5"/><circle cx="452.8" cy="641.2" r="7.5"/><circle cx="487.1" cy="599.2" r="7.5"/><circle cx="501.4" cy="601.9" r="7.5"/><circle cx="513" cy="600.1" r="7.5"/><circle cx="522.8" cy="592.1" r="7.5"/><circle cx="515.6" cy="611.7" r="7.5"/><circle cx="531.7" cy="606.4" r="7.5"/><circle cx="501.4" cy="618.9" r="7.5"/><circle cx="515.6" cy="626" r="7.5"/><circle cx="524.6" cy="627.8" r="7.5"/><circle cx="512.1" cy="633.2" r="7.5"/><circle cx="546" cy="608.2" r="7.5"/><circle cx="542.4" cy="615.3" r="7.5"/><circle cx="549.6" cy="643.9" r="7.5"/><circle cx="556.7" cy="567.1" r="7.5"/><circle cx="633.5" cy="551" r="7.5"/><circle cx="628.1" cy="570.7" r="7.5"/><circle cx="604.9" cy="574.2" r="7.5"/><circle cx="671" cy="540.3" r="7.5"/><circle cx="674.6" cy="577.8" r="7.5"/><circle cx="597.8" cy="585" r="7.5"/><circle cx="624.6" cy="592.1" r="7.5"/><circle cx="642.4" cy="595.7" r="7.5"/><circle cx="669.2" cy="601" r="7.5"/><circle cx="567.4" cy="611.7" r="7.5"/><circle cx="560.3" cy="604.6" r="7.5"/><circle cx="660.3" cy="622.5" r="7.5"/><circle cx="671" cy="633.2" r="7.5"/><circle cx="599.6" cy="640.3" r="7.5"/><circle cx="613.9" cy="643.9" r="7.5"/><circle cx="660.3" cy="647.5" r="7.5"/><circle cx="579.9" cy="643.9" r="7.5"/><circle cx="676.4" cy="643.9" r="7.5"/><circle cx="574.6" cy="556.4" r="7.5"/><circle cx="679.9" cy="529.6" r="7.5"/><circle cx="807.4" cy="419.6" r="7.5"/><circle cx="856.9" cy="457.5" r="7.5"/><circle cx="815.3" cy="485.7" r="7.5"/><circle cx="854.2" cy="510.1" r="7.5"/><circle cx="778.3" cy="518.2" r="7.5"/><circle cx="685.5" cy="527.1" r="7.5"/><circle cx="709.6" cy="525.3" r="7.5"/><circle cx="702.4" cy="533.4" r="7.5"/><circle cx="688.1" cy="539.6" r="7.5"/><circle cx="731" cy="539.6" r="7.5"/><circle cx="764.9" cy="540.5" r="7.5"/><circle cx="817.6" cy="534.2" r="7.5"/><circle cx="709.6" cy="550.3" r="7.5"/><circle cx="727.4" cy="557.5" r="7.5"/><circle cx="754.2" cy="550.3" r="7.5"/><circle cx="757.8" cy="554.8" r="7.5"/><circle cx="778.3" cy="553" r="7.5"/><circle cx="783.7" cy="562.8" r="7.5"/><circle cx="773.9" cy="561" r="7.5"/><circle cx="741.7" cy="568.2" r="7.5"/><circle cx="745.3" cy="555.7" r="7.5"/><circle cx="811.4" cy="568.2" r="7.5"/><circle cx="817.6" cy="565.5" r="7.5"/><circle cx="817.6" cy="580.7" r="7.5"/><circle cx="684.6" cy="583.4" r="7.5"/><circle cx="700.6" cy="587.8" r="7.5"/><circle cx="727.4" cy="577.1" r="7.5"/><circle cx="716.7" cy="589.6" r="7.5"/><circle cx="745.3" cy="578.9" r="7.5"/><circle cx="766.7" cy="577.1" r="7.5"/><circle cx="788.1" cy="607.5" r="7.5"/><circle cx="711.4" cy="607.5" r="7.5"/><circle cx="734.6" cy="600.3" r="7.5"/><circle cx="693.5" cy="600.3" r="7.5"/><circle cx="648.9" cy="607.5" r="7.5"/><circle cx="489" cy="664.1" r="7.5"/><circle cx="505.1" cy="668.5" r="7.5"/><circle cx="511.4" cy="662.3" r="7.5"/><circle cx="505.1" cy="664.1" r="7.5"/><circle cx="561.4" cy="650.7" r="7.5"/><circle cx="547.1" cy="659.6" r="7.5"/><circle cx="555.1" cy="675.7" r="7.5"/><circle cx="573.9" cy="680.1" r="7.5"/><circle cx="583.7" cy="656" r="7.5"/><circle cx="584.6" cy="665" r="7.5"/><circle cx="589" cy="681.9" r="7.5"/><circle cx="576.5" cy="694.4" r="7.5"/><circle cx="600.6" cy="692.6" r="7.5"/><circle cx="610.5" cy="678.4" r="7.5"/><circle cx="616.7" cy="677.5" r="7.5"/><circle cx="626.5" cy="690.9" r="7.5"/><circle cx="615.8" cy="700.7" r="7.5"/><circle cx="632.8" cy="664.1" r="7.5"/><circle cx="643.5" cy="668.5" r="7.5"/><circle cx="666.7" cy="652.5" r="7.5"/><circle cx="673" cy="666.7" r="7.5"/><circle cx="667.6" cy="681.9" r="7.5"/><circle cx="679.2" cy="682.8" r="7.5"/><circle cx="689.9" cy="673.9" r="7.5"/><circle cx="689.9" cy="652.5" r="7.5"/><circle cx="679.2" cy="632.8" r="7.5"/><circle cx="670.3" cy="620.3" r="7.5"/><circle cx="670.3" cy="591.7" r="7.5"/><circle cx="634.6" cy="616.7" r="7.5"/><circle cx="550.6" cy="613.2" r="7.5"/><circle cx="572.1" cy="629.2" r="7.5"/><circle cx="775.6" cy="612.3" r="7.5"/><circle cx="772.1" cy="656" r="7.5"/><circle cx="754.2" cy="659.2" r="7.5"/><circle cx="728.9" cy="682.8" r="7.5"/><circle cx="711.9" cy="672.6" r="7.5"/><circle cx="731" cy="650.7" r="7.5"/><circle cx="714.9" cy="648" r="7.5"/><circle cx="702.4" cy="632.8" r="7.5"/><circle cx="706.9" cy="617.6" r="7.5"/><circle cx="713.1" cy="623.9" r="7.5"/><circle cx="693.5" cy="620.3" r="7.5"/><circle cx="747.1" cy="629.2" r="7.5"/><circle cx="689.9" cy="609.6" r="7.5"/></g>
<g class="dr"><circle cx="641.5" cy="433.2" r="7.5"/><circle cx="583" cy="495.7" r="7.5"/><circle cx="624" cy="499.6" r="7.5"/><circle cx="665.6" cy="495.7" r="7.5"/><circle cx="628.1" cy="532.3" r="7.5"/><circle cx="652.2" cy="527.8" r="7.5"/><circle cx="566.5" cy="535.9" r="7.5"/><circle cx="575.5" cy="540.3" r="7.5"/><circle cx="586.2" cy="549.6" r="7.5"/><circle cx="614.8" cy="554.6" r="7.5"/><circle cx="655.8" cy="545.7" r="7.5"/><circle cx="672.8" cy="541.2" r="7.5"/><circle cx="566.5" cy="569.8" r="7.5"/><circle cx="587.4" cy="568" r="7.5"/><circle cx="616.5" cy="577.8" r="7.5"/><circle cx="652.2" cy="582.3" r="7.5"/><circle cx="659.4" cy="580.5" r="7.5"/><circle cx="658.5" cy="589.4" r="7.5"/><circle cx="580.8" cy="585" r="7.5"/><circle cx="554.9" cy="585" r="7.5"/><circle cx="563.9" cy="587.6" r="7.5"/><circle cx="604.9" cy="593.9" r="7.5"/><circle cx="592.4" cy="598.4" r="7.5"/><circle cx="555.3" cy="621.6" r="7.5"/><circle cx="579.9" cy="615.3" r="7.5"/><circle cx="596.9" cy="617.1" r="7.5"/><circle cx="587.1" cy="632.3" r="7.5"/><circle cx="566.5" cy="638.5" r="7.5"/><circle cx="608.5" cy="628.7" r="7.5"/><circle cx="626.4" cy="630.5" r="7.5"/><circle cx="642.4" cy="626" r="7.5"/><circle cx="631.7" cy="638.5" r="7.5"/><circle cx="646.9" cy="638.5" r="7.5"/><circle cx="637.1" cy="652.8" r="7.5"/><circle cx="621" cy="610" r="7.5"/><circle cx="651.4" cy="610" r="7.5"/><circle cx="679.9" cy="611.7" r="7.5"/><circle cx="578.1" cy="622.5" r="7.5"/><circle cx="354.9" cy="463.2" r="7.5"/><circle cx="426.4" cy="523.4" r="7.5"/><circle cx="429.4" cy="543.9" r="7.5"/><circle cx="738.1" cy="461.9" r="7.5"/><circle cx="831.4" cy="453.4" r="7.5"/><circle cx="873.5" cy="448.2" r="7.5"/><circle cx="723.9" cy="507.5" r="7.5"/><circle cx="727.1" cy="515" r="7.5"/><circle cx="775.3" cy="504.8" r="7.5"/><circle cx="764.9" cy="516" r="7.5"/><circle cx="810.5" cy="500" r="7.5"/><circle cx="837.2" cy="502.5" r="7.5"/><circle cx="846.2" cy="501.7" r="7.5"/><circle cx="873" cy="507.8" r="7.5"/><circle cx="818.5" cy="523.5" r="7.5"/><circle cx="828.3" cy="530.3" r="7.5"/><circle cx="700.6" cy="524.4" r="7.5"/><circle cx="720.3" cy="538.7" r="7.5"/><circle cx="803.3" cy="549.4" r="7.5"/><circle cx="820.3" cy="546.7" r="7.5"/><circle cx="899.2" cy="555.3" r="7.5"/><circle cx="697.4" cy="574.4" r="7.5"/><circle cx="715.8" cy="573.5" r="7.5"/><circle cx="756" cy="569.1" r="7.5"/><circle cx="782.8" cy="573.5" r="7.5"/><circle cx="789.9" cy="585.1" r="7.5"/><circle cx="762.2" cy="597.6" r="7.5"/><circle cx="780.1" cy="600.3" r="7.5"/><circle cx="756" cy="609.2" r="7.5"/><circle cx="681.9" cy="603.9" r="7.5"/><circle cx="891.7" cy="614.6" r="7.5"/><circle cx="727.4" cy="612.8" r="7.5"/><circle cx="777.4" cy="587.8" r="7.5"/><circle cx="738.1" cy="590.5" r="7.5"/><circle cx="584.9" cy="672.1" r="7.5"/><circle cx="652.4" cy="675.7" r="7.5"/><circle cx="592.1" cy="717.1" r="7.5"/><circle cx="615.8" cy="711.7" r="7.5"/><circle cx="607.8" cy="604.2" r="7.5"/><circle cx="593.5" cy="606" r="7.5"/><circle cx="808.3" cy="627.8" r="7.5"/><circle cx="868.5" cy="667.1" r="7.5"/><circle cx="753.3" cy="696.7" r="7.5"/><circle cx="710.1" cy="734.2" r="7.5"/><circle cx="712.6" cy="642.1" r="7.5"/><circle cx="730.1" cy="639.1" r="7.5"/><circle cx="742.6" cy="640" r="7.5"/><circle cx="746.2" cy="643.5" r="7.5"/><circle cx="754.2" cy="641.7" r="7.5"/><circle cx="768.9" cy="640" r="7.5"/><circle cx="759.9" cy="626" r="7.5"/><circle cx="731.9" cy="618.9" r="7.5"/><circle cx="750.6" cy="612.3" r="7.5"/></g>
<path d="M340.5 419.8L354.7 436.3L368.9 452.0L383.1 467.0L397.4 481.1L411.6 494.5L425.8 507.1L440.0 518.9L454.3 530.0L468.5 540.3L482.7 549.8L496.9 558.6L511.1 566.6L525.4 573.8L539.6 580.2L553.8 585.8L568.0 590.7L582.2 594.8L596.5 598.2L610.7 600.7L624.9 602.5L639.1 603.5L653.3 603.8L667.6 603.3L681.8 602.1L696.0 600.2L710.2 597.6L724.4 594.3L738.7 590.3L752.9 585.6L767.1 580.1L781.3 574.0L795.5 567.2L809.8 559.7L824.0 551.4L838.2 542.5L852.4 532.9L866.6 522.5L880.9 511.5L895.1 499.7L909.3 487.3L909.3 508.5L895.1 518.8L880.9 528.4L866.6 537.6L852.4 546.1L838.2 554.1L824.0 561.4L809.8 568.2L795.5 574.5L781.3 580.1L767.1 585.2L752.9 589.6L738.7 593.5L724.4 596.9L710.2 599.6L696.0 601.8L681.8 603.4L667.6 604.4L653.3 604.8L639.1 604.7L624.9 604.1L610.7 603.0L596.5 601.3L582.2 599.2L568.0 596.5L553.8 593.3L539.6 589.7L525.4 585.5L511.1 580.8L496.9 575.6L482.7 569.9L468.5 563.6L454.3 556.9L440.0 549.7L425.8 541.9L411.6 533.6L397.4 524.9L383.1 515.6L368.9 505.8L354.7 495.5L340.5 484.7Z" class="cir"/>
<path d="M340.5 452.3L354.7 465.9L368.9 478.9L383.1 491.3L397.4 503.0L411.6 514.1L425.8 524.5L440.0 534.3L454.3 543.5L468.5 552.0L482.7 559.8L496.9 567.1L511.1 573.7L525.4 579.6L539.6 584.9L553.8 589.6L568.0 593.6L582.2 597.0L596.5 599.7L610.7 601.8L624.9 603.3L639.1 604.1L653.3 604.3L667.6 603.8L681.8 602.7L696.0 601.0L710.2 598.6L724.4 595.6L738.7 591.9L752.9 587.6L767.1 582.7L781.3 577.1L795.5 570.8L809.8 564.0L824.0 556.4L838.2 548.3L852.4 539.5L866.6 530.0L880.9 520.0L895.1 509.2L909.3 497.9" class="cvr"/>
<path d="M174.6 27H983.5" class="ax1"/>
<path d="M983.5 27V822.4" class="ax2"/>
<path d="M174.6 805.4H983.5" class="ax2"/>
<path d="M192.1 27V822.4" class="ax0"/>
<path d="M174.6 675.7H192.1M174.6 545.9H192.1M174.6 416.2H192.1M174.6 286.5H192.1M174.6 156.7H192.1" class="ax0"/>
<path d="M389.9 805.4V822.4M587.8 805.4V822.4M785.6 805.4V822.4" class="ax0"/>
<text transform="translate(141.9 819.7) scale(1.070 1)" class="t">0</text>
<text transform="translate(142.1 690.0) scale(1.060 1)" class="t">5</text>
<text transform="translate(126.2 560.2) scale(1.000 1)" class="t">1<tspan dx="-3.2">0</tspan></text>
<text transform="translate(129.7 430.5) scale(0.900 1)" class="t">1<tspan dx="-3.2">5</tspan></text>
<text transform="translate(121.3 300.8) scale(1.050 1)" class="t">20</text>
<text transform="translate(121.3 171.0) scale(1.050 1)" class="t">25</text>
<text transform="translate(121.3 41.3) scale(1.050 1)" class="t">30</text>
<text transform="translate(149.8 868.4) scale(0.940 1)" class="t">80<tspan font-size="41" dy="4.8" dx="1.2">°</tspan><tspan dy="-4.8"> S</tspan></text>
<text transform="translate(348.3 868.4) scale(0.939 1)" class="t">40<tspan font-size="41" dy="4.8" dx="1.2">°</tspan><tspan dy="-4.8"> S</tspan></text>
<text transform="translate(571.3 868.4) scale(0.988 1)" class="t">0<tspan font-size="41" dy="4.8" dx="1.2">°</tspan></text>
<text transform="translate(740.5 868.4) scale(1.008 1)" class="t">40<tspan font-size="41" dy="4.8" dx="1.2">°</tspan><tspan dy="-4.8"> N</tspan></text>
<text transform="translate(939.5 868.4) scale(1.009 1)" class="t">80<tspan font-size="41" dy="4.8" dx="1.2">°</tspan><tspan dy="-4.8"> N</tspan></text>
<text transform="translate(526.6 924.8) scale(0.974 1)" class="t">Latitude</text>
<text transform="translate(78.4 595.1) rotate(-90) scale(0.969 1)" class="t">Warming tolerance (<tspan font-size="41" dy="4.8" dx="1.2">°</tspan><tspan dy="-4.8">C)</tspan></text>
<path d="M274.6 128.1C274.8 129.7 275.1 133.9 275.7 137.8C276.4 141.7 277.5 147.1 278.5 151.3C279.4 155.5 280.4 159.1 281.6 162.9C282.7 166.8 283.9 171.3 285.4 174.5C286.9 177.8 288.8 179.7 290.6 182.3C292.5 184.9 294.9 187.8 296.4 190.0C298.0 192.3 299.1 194.2 299.9 195.8C300.7 197.4 301.4 198.1 301.3 199.7C301.2 201.3 300.8 203.2 299.4 205.5C297.9 207.8 295.0 210.7 292.6 213.2C290.2 215.8 287.1 218.4 284.8 221.0C282.6 223.6 280.5 226.2 279.0 228.7C277.6 231.2 276.6 234.8 276.1 236.1L268.4 236.1C267.9 234.8 266.9 231.2 265.5 228.7C264.0 226.2 261.9 223.6 259.7 221.0C257.4 218.4 254.4 215.8 252.0 213.2C249.5 210.7 246.6 207.8 245.2 205.5C243.7 203.2 243.3 201.3 243.2 199.7C243.2 198.1 243.8 197.4 244.6 195.8C245.4 194.2 246.5 192.3 248.1 190.0C249.6 187.8 252.1 184.9 253.9 182.3C255.7 179.7 257.6 177.8 259.1 174.5C260.6 171.3 261.8 166.8 263.0 162.9C264.1 159.1 265.1 155.5 266.1 151.3C267.0 147.1 268.1 141.7 268.8 137.8C269.4 133.9 269.8 129.7 269.9 128.1Z" fill="#e0393b" stroke="#000" stroke-width="2.4" stroke-linejoin="round"/>
<path d="M272.3 137.8V234.5" stroke="#000" stroke-width="2.3" stroke-linecap="round"/>
<path d="M272.3 177.4V186.2" stroke="#000" stroke-width="3.6"/>
<circle cx="272.3" cy="197.4" r="10.6" fill="#fff"/>
<path d="M343.9 122.3C344.0 124.6 344.1 131.7 344.4 135.9C344.8 140.0 345.2 143.9 346.2 147.5C347.1 151.0 348.4 153.9 350.0 157.1C351.7 160.4 353.9 163.6 355.8 166.8C357.8 170.0 359.7 173.3 361.6 176.5C363.6 179.7 365.9 183.3 367.4 186.2C369.0 189.1 369.9 191.5 370.7 193.9C371.5 196.3 372.3 198.4 372.3 200.7C372.3 202.9 371.8 205.0 370.7 207.4C369.7 209.9 367.9 212.6 366.1 215.2C364.3 217.8 361.9 220.3 359.7 222.9C357.5 225.5 355.0 227.7 352.9 230.6C350.9 233.6 348.8 237.4 347.5 240.3C346.2 243.2 345.7 246.1 345.2 248.1C344.8 250.0 344.9 251.3 344.8 251.9L341.7 251.9C341.7 251.3 341.8 250.0 341.3 248.1C340.9 246.1 340.3 243.2 339.0 240.3C337.7 237.4 335.6 233.6 333.6 230.6C331.6 227.7 329.0 225.5 326.8 222.9C324.6 220.3 322.3 217.8 320.4 215.2C318.6 212.6 316.8 209.9 315.8 207.4C314.8 205.0 314.2 202.9 314.2 200.7C314.2 198.4 315.0 196.3 315.8 193.9C316.6 191.5 317.6 189.1 319.1 186.2C320.6 183.3 323.0 179.7 324.9 176.5C326.8 173.3 328.8 170.0 330.7 166.8C332.6 163.6 334.9 160.4 336.5 157.1C338.1 153.9 339.4 151.0 340.4 147.5C341.3 143.9 341.7 140.0 342.1 135.9C342.5 131.7 342.5 124.6 342.6 122.3Z" fill="#e0393b" stroke="#000" stroke-width="2.4" stroke-linejoin="round"/>
<path d="M343.3 169.7V228.7" stroke="#000" stroke-width="2.3" stroke-linecap="round"/>
<circle cx="343.3" cy="203.2" r="10.6" fill="#fff"/>
<path d="M425.7 166.4C426.6 167.1 429.4 168.7 431.5 170.7C433.6 172.7 436.5 175.8 438.3 178.4C440.0 181.0 440.9 183.3 441.7 186.2C442.5 189.1 443.2 193.2 443.1 195.8C443.0 198.4 442.4 199.4 441.2 201.6C439.9 203.9 437.3 206.8 435.4 209.4C433.4 211.9 431.1 214.9 429.6 217.1C428.0 219.4 426.9 221.2 426.1 222.9C425.3 224.6 424.9 226.6 424.7 227.4L403.4 227.4C403.2 226.6 402.9 224.6 402.1 222.9C401.3 221.2 400.1 219.4 398.6 217.1C397.0 214.9 394.7 211.9 392.8 209.4C390.9 206.8 388.3 203.9 387.0 201.6C385.7 199.4 385.2 198.4 385.1 195.8C385.0 193.2 385.6 189.1 386.4 186.2C387.2 183.3 388.2 181.0 389.9 178.4C391.6 175.8 394.6 172.7 396.7 170.7C398.8 168.7 401.5 167.1 402.5 166.4Z" fill="#e0393b" stroke="#000" stroke-width="2.4" stroke-linejoin="round"/>
<path d="M414.1 166.4V226.8" stroke="#000" stroke-width="2.3" stroke-linecap="round"/>
<circle cx="414.1" cy="195.8" r="10.6" fill="#fff"/>
<path d="M488.9 171.6C489.1 172.5 489.1 174.7 489.9 176.5C490.7 178.3 492.0 180.3 493.8 182.3C495.6 184.2 498.1 186.2 500.6 188.1C503.0 190.0 506.2 192.1 508.3 193.9C510.4 195.7 512.2 197.5 513.1 198.7C514.1 199.9 514.3 200.1 514.1 201.0C513.9 202.0 513.6 203.1 512.2 204.5C510.7 205.9 507.8 207.6 505.4 209.4C503.0 211.1 500.0 213.2 497.6 215.2C495.3 217.1 492.7 219.2 491.3 221.0C489.9 222.7 489.7 224.2 489.3 225.8C488.9 227.4 489.0 229.8 488.9 230.6L481.2 230.6C481.1 229.8 481.2 227.4 480.8 225.8C480.4 224.2 480.3 222.7 478.9 221.0C477.5 219.2 474.9 217.1 472.5 215.2C470.1 213.2 467.2 211.1 464.8 209.4C462.3 207.6 459.4 205.9 458.0 204.5C456.5 203.1 456.2 202.0 456.1 201.0C455.9 200.1 456.1 199.9 457.0 198.7C458.0 197.5 459.8 195.7 461.9 193.9C464.0 192.1 467.2 190.0 469.6 188.1C472.0 186.2 474.6 184.2 476.4 182.3C478.1 180.3 479.4 178.3 480.2 176.5C481.0 174.7 481.0 172.5 481.2 171.6Z" fill="#e0393b" stroke="#000" stroke-width="2.4" stroke-linejoin="round"/>
<path d="M485.1 181.3V221.9" stroke="#000" stroke-width="2.3" stroke-linecap="round"/>
<circle cx="485.1" cy="200.7" r="10.6" fill="#fff"/>
<path d="M570.6 174.5C571.4 175.5 573.7 178.1 575.4 180.3C577.1 182.6 579.3 185.5 580.8 188.1C582.4 190.7 583.8 193.9 584.5 195.8C585.2 197.8 585.5 198.1 585.1 199.7C584.7 201.3 583.6 203.2 582.2 205.5C580.7 207.8 578.2 210.7 576.4 213.2C574.6 215.8 572.6 218.4 571.2 221.0C569.7 223.6 568.5 226.3 567.7 228.7C566.8 231.1 566.4 234.4 566.1 235.5L546.0 235.5C545.8 234.4 545.3 231.1 544.5 228.7C543.6 226.3 542.4 223.6 541.0 221.0C539.5 218.4 537.6 215.8 535.8 213.2C533.9 210.7 531.4 207.8 530.0 205.5C528.5 203.2 527.4 201.3 527.1 199.7C526.7 198.1 526.9 197.8 527.6 195.8C528.3 193.9 529.8 190.7 531.3 188.1C532.8 185.5 535.0 182.6 536.7 180.3C538.4 178.1 540.8 175.5 541.6 174.5Z" fill="#e0393b" stroke="#000" stroke-width="2.4" stroke-linejoin="round"/>
<path d="M556.1 178.4V224.8" stroke="#000" stroke-width="2.3" stroke-linecap="round"/>
<circle cx="556.1" cy="199.7" r="10.6" fill="#fff"/>
<path d="M271.8 280.7H556.3" class="ax3"/>
<path d="M608.5 68.5V280.5M608.5 280.5H614.8M608.5 227.5H614.8M608.5 174.5H614.8M608.5 121.5H614.8M608.5 68.5H614.8" class="ax3"/>
<text transform="translate(627.9 294.8) scale(1.070 1)" class="t">0</text>
<text transform="translate(626.9 241.8) scale(1.060 1)" class="t">5</text>
<text transform="translate(626.0 188.8) scale(1.000 1)" class="t">1<tspan dx="-3.2">0</tspan></text>
<text transform="translate(626.3 135.8) scale(0.900 1)" class="t">1<tspan dx="-3.2">5</tspan></text>
<text transform="translate(626.9 82.8) scale(1.050 1)" class="t">20</text>
<text transform="translate(246.8 334.3) scale(0.985 1)" class="t">DD</text>
<text transform="translate(323.7 334.3) scale(0.872 1)" class="t">LC</text>
<text transform="translate(390.4 334.3) scale(0.981 1)" class="t">NT</text>
<text transform="translate(462.2 334.3) scale(0.957 1)" class="t">VU</text>
<text transform="translate(533.4 334.3) scale(0.895 1)" class="t">EN</text>
<text transform="translate(686.3 155.1) rotate(90) scale(0.92 1.1)" class="t"><tspan font-size="41" dy="4.8" dx="1.2">°</tspan><tspan dy="-4.8">C</tspan></text>
</g>
</svg></body></html>
